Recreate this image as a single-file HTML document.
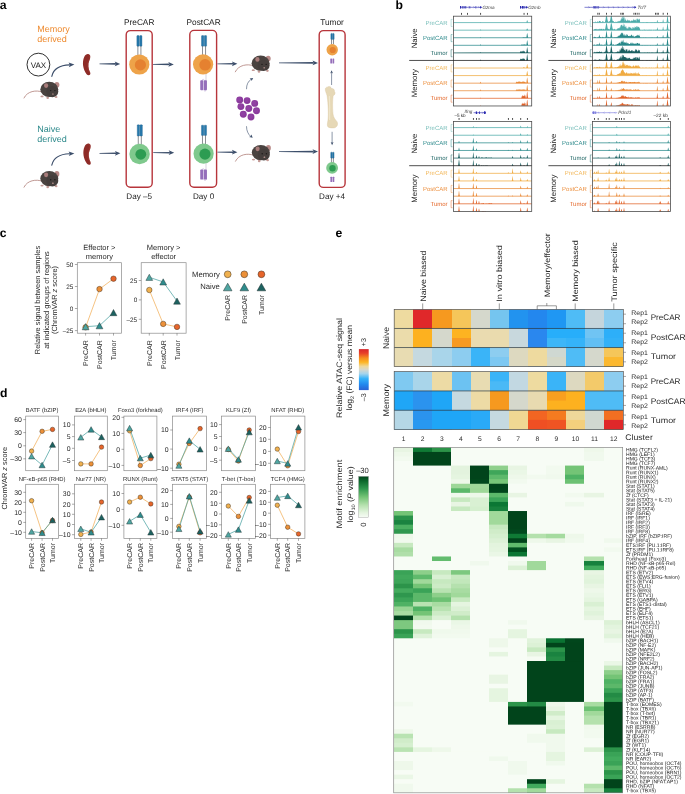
<!DOCTYPE html>
<html><head><meta charset="utf-8"><title>Figure</title>
<style>
html,body{margin:0;padding:0;background:#fff;}
svg{display:block;}
svg text{font-family:"Liberation Sans",sans-serif;text-rendering:geometricPrecision;}
</style></head>
<body>
<svg width="685" height="794" viewBox="0 0 685 794">
<rect x="0" y="0" width="685" height="794" fill="#fff"/>
<g opacity="0.999">
<text x="37.2" y="32.4" font-size="9.0" fill="#ee8b30" text-anchor="start" >Memory</text>
<text x="37.2" y="42.0" font-size="9.0" fill="#ee8b30" text-anchor="start" >derived</text>
<text x="37.2" y="131.5" font-size="9.0" fill="#2e8a8c" text-anchor="start" >Naive</text>
<text x="37.2" y="141.7" font-size="9.0" fill="#2e8a8c" text-anchor="start" >derived</text>
<circle cx="38.4" cy="64.6" r="11.4" fill="#fff" stroke="#1a1a1a" stroke-width="0.9"/>
<text x="38.4" y="67.5" font-size="8.0" fill="#1a1a1a" text-anchor="middle" >VAX</text>
<path d="M51.8,76.3 C53.5,69 60,65.2 69.5,64.9" fill="none" stroke="#3d4f6b" stroke-width="1.15" stroke-linecap="round"/>
<polygon points="68.6,62.6 74.4,64.6 68.8,67.2 69.9,64.9" fill="#3d4f6b"/>
<path d="M51.8,165.2 C53.5,157.9 60,154.10000000000002 69.5,153.8" fill="none" stroke="#3d4f6b" stroke-width="1.15" stroke-linecap="round"/>
<polygon points="68.6,151.5 74.4,153.5 68.8,156.10000000000002 69.9,153.8" fill="#3d4f6b"/>
<path d="M41.8,91.9 C36.3,89.9 27.299999999999997,90.9 23.999999999999996,98.0" fill="none" stroke="#b07f78" stroke-width="0.8" stroke-linecap="round"/>
<ellipse cx="56.9" cy="84.80000000000001" rx="2.5" ry="2.9" fill="#b98a88"/>
<ellipse cx="42.0" cy="96.4" rx="1.6" ry="0.9" fill="#c49a96"/>
<ellipse cx="47.699999999999996" cy="97.7" rx="1.3" ry="1.3" fill="#c49a96"/>
<ellipse cx="56.099999999999994" cy="97.0" rx="1.4" ry="1.1" fill="#c49a96"/>
<ellipse cx="49.3" cy="89.4" rx="9" ry="7.6" fill="#4a4340"/>
<ellipse cx="52.3" cy="91.60000000000001" rx="6" ry="5.6" fill="#453e3c"/>
<ellipse cx="46.099999999999994" cy="85.60000000000001" rx="2.1" ry="2.4" fill="#a87c7a"/>
<circle cx="50.699999999999996" cy="90.60000000000001" r="0.7" fill="#1d1a19"/>
<circle cx="54.9" cy="90.60000000000001" r="0.7" fill="#1d1a19"/>
<ellipse cx="52.9" cy="94.0" rx="0.9" ry="0.6" fill="#c9a09c"/>
<path d="M41.8,181.1 C36.3,179.1 27.299999999999997,180.1 23.999999999999996,187.2" fill="none" stroke="#b07f78" stroke-width="0.8" stroke-linecap="round"/>
<ellipse cx="56.9" cy="174.0" rx="2.5" ry="2.9" fill="#b98a88"/>
<ellipse cx="42.0" cy="185.6" rx="1.6" ry="0.9" fill="#c49a96"/>
<ellipse cx="47.699999999999996" cy="186.9" rx="1.3" ry="1.3" fill="#c49a96"/>
<ellipse cx="56.099999999999994" cy="186.2" rx="1.4" ry="1.1" fill="#c49a96"/>
<ellipse cx="49.3" cy="178.6" rx="9" ry="7.6" fill="#4a4340"/>
<ellipse cx="52.3" cy="180.79999999999998" rx="6" ry="5.6" fill="#453e3c"/>
<ellipse cx="46.099999999999994" cy="174.79999999999998" rx="2.1" ry="2.4" fill="#a87c7a"/>
<circle cx="50.699999999999996" cy="179.79999999999998" r="0.7" fill="#1d1a19"/>
<circle cx="54.9" cy="179.79999999999998" r="0.7" fill="#1d1a19"/>
<ellipse cx="52.9" cy="183.2" rx="0.9" ry="0.6" fill="#c9a09c"/>
<path transform="translate(82.6,54.0)" d="M5.2,0 C8.2,-0.2 8.3,3.6 6.6,7 C5.2,10 5.6,15 7.6,18.6 C8.6,21.2 5.6,22 4,20.2 C0.4,15.6 -0.8,8 1.6,3 C2.6,0.8 4,0.1 5.2,0 Z" fill="#8e2b27"/>
<path transform="translate(82.6,54.0)" d="M5.2,0.6 C7.4,0.6 7.4,3.4 6,6.8 C4.8,10 5,15 7,18.6" fill="none" stroke="#a5403a" stroke-width="0.7" opacity="0.7"/>
<path transform="translate(83.0,143.6)" d="M5.2,0 C8.2,-0.2 8.3,3.6 6.6,7 C5.2,10 5.6,15 7.6,18.6 C8.6,21.2 5.6,22 4,20.2 C0.4,15.6 -0.8,8 1.6,3 C2.6,0.8 4,0.1 5.2,0 Z" fill="#8e2b27"/>
<path transform="translate(83.0,143.6)" d="M5.2,0.6 C7.4,0.6 7.4,3.4 6,6.8 C4.8,10 5,15 7,18.6" fill="none" stroke="#a5403a" stroke-width="0.7" opacity="0.7"/>
<polygon points="99.5,63.55 115.9,63.1 115.9,64.7 99.5,64.25" fill="#3d4f6b"/>
<polygon points="114.7,61.5 120.2,63.9 114.7,66.3 116.0,63.9" fill="#3d4f6b"/>
<polygon points="99.5,152.95000000000002 116.10000000000001,152.5 116.10000000000001,154.10000000000002 99.5,153.65" fill="#3d4f6b"/>
<polygon points="114.9,150.9 120.4,153.3 114.9,155.70000000000002 116.2,153.3" fill="#3d4f6b"/>
<text x="139.2" y="25.1" font-size="8.3" fill="#1a1a1a" text-anchor="middle" >PreCAR</text>
<rect x="126.2" y="30.6" width="25.999999999999986" height="156.6" rx="4.2" fill="none" stroke="#b7353b" stroke-width="1.4"/>
<rect x="136.85" y="35.6" width="2.3" height="10.600000000000001" rx="0.5" fill="#2579ad" stroke="#1b5a85" stroke-width="0.35"/>
<rect x="139.65" y="35.6" width="2.3" height="10.600000000000001" rx="0.5" fill="#2579ad" stroke="#1b5a85" stroke-width="0.35"/>
<line x1="137.88" y1="46.2" x2="137.88" y2="55.5" stroke="#2b2f38" stroke-width="0.55"/>
<line x1="140.91" y1="46.2" x2="140.91" y2="55.5" stroke="#2b2f38" stroke-width="0.55"/>
<circle cx="139.3" cy="64.5" r="10.1" fill="#eea349"/>
<circle cx="140.4" cy="64.9" r="5.60" fill="#e58130"/>
<rect x="137.25" y="124.8" width="2.3" height="11.200000000000003" rx="0.5" fill="#2579ad" stroke="#1b5a85" stroke-width="0.35"/>
<rect x="140.05" y="124.8" width="2.3" height="11.200000000000003" rx="0.5" fill="#2579ad" stroke="#1b5a85" stroke-width="0.35"/>
<line x1="138.28" y1="136.0" x2="138.28" y2="145.5" stroke="#2b2f38" stroke-width="0.55"/>
<line x1="141.31" y1="136.0" x2="141.31" y2="145.5" stroke="#2b2f38" stroke-width="0.55"/>
<circle cx="139.6" cy="154.0" r="10.2" fill="#7fc98d"/>
<circle cx="140.79999999999998" cy="154.3" r="5.40" fill="#2d9c52"/>
<text x="139.2" y="199.4" font-size="8.1" fill="#1a1a1a" text-anchor="middle" >Day –5</text>
<polygon points="153.0,64.05000000000001 169.5,63.60000000000001 169.5,65.2 153.0,64.75" fill="#3d4f6b"/>
<polygon points="168.3,62.00000000000001 173.8,64.4 168.3,66.80000000000001 169.60000000000002,64.4" fill="#3d4f6b"/>
<polygon points="153.2,152.35 169.89999999999998,151.89999999999998 169.89999999999998,153.5 153.2,153.04999999999998" fill="#3d4f6b"/>
<polygon points="168.7,150.29999999999998 174.2,152.7 168.7,155.1 170.0,152.7" fill="#3d4f6b"/>
<text x="203.6" y="25.1" font-size="8.3" fill="#1a1a1a" text-anchor="middle" >PostCAR</text>
<rect x="189.8" y="30.4" width="26.799999999999983" height="156.79999999999998" rx="4.2" fill="none" stroke="#b7353b" stroke-width="1.4"/>
<rect x="201.50" y="35.6" width="2.3" height="10.600000000000001" rx="0.5" fill="#2579ad" stroke="#1b5a85" stroke-width="0.35"/>
<rect x="204.30" y="35.6" width="2.3" height="10.600000000000001" rx="0.5" fill="#2579ad" stroke="#1b5a85" stroke-width="0.35"/>
<line x1="202.53" y1="46.2" x2="202.53" y2="55.4" stroke="#2b2f38" stroke-width="0.55"/>
<line x1="205.56" y1="46.2" x2="205.56" y2="55.4" stroke="#2b2f38" stroke-width="0.55"/>
<circle cx="203.1" cy="64.3" r="10.1" fill="#eea349"/>
<circle cx="205.1" cy="64.8" r="5.80" fill="#e58130"/>
<line x1="206.0" y1="73.6" x2="206.0" y2="81.2" stroke="#b9b6c4" stroke-width="0.6"/>
<path d="M202.0,81.2 C202.0,78.60000000000001 204.2,78.60000000000001 204.2,81.2" fill="none" stroke="#a58fc6" stroke-width="0.45"/>
<path d="M203.79999999999998,89.2 C203.79999999999998,91.8 206.2,91.8 206.2,89.2" fill="none" stroke="#a58fc6" stroke-width="0.45"/>
<rect x="200.25" y="80.2" width="3.1" height="10.0" rx="0.9" fill="#956fba"/>
<rect x="203.85" y="80.2" width="3.1" height="10.0" rx="0.9" fill="#956fba"/>
<rect x="201.45" y="125.2" width="2.3" height="10.200000000000003" rx="0.5" fill="#2579ad" stroke="#1b5a85" stroke-width="0.35"/>
<rect x="204.25" y="125.2" width="2.3" height="10.200000000000003" rx="0.5" fill="#2579ad" stroke="#1b5a85" stroke-width="0.35"/>
<line x1="202.48" y1="135.4" x2="202.48" y2="145.0" stroke="#2b2f38" stroke-width="0.55"/>
<line x1="205.51" y1="135.4" x2="205.51" y2="145.0" stroke="#2b2f38" stroke-width="0.55"/>
<circle cx="203.6" cy="153.7" r="10.1" fill="#7fc98d"/>
<circle cx="205.0" cy="154.1" r="5.60" fill="#2d9c52"/>
<line x1="206.0" y1="163.0" x2="206.0" y2="170.6" stroke="#b9b6c4" stroke-width="0.6"/>
<path d="M202.0,170.6 C202.0,168.0 204.2,168.0 204.2,170.6" fill="none" stroke="#a58fc6" stroke-width="0.45"/>
<path d="M203.79999999999998,178.6 C203.79999999999998,181.2 206.2,181.2 206.2,178.6" fill="none" stroke="#a58fc6" stroke-width="0.45"/>
<rect x="200.25" y="169.6" width="3.1" height="10.0" rx="0.9" fill="#956fba"/>
<rect x="203.85" y="169.6" width="3.1" height="10.0" rx="0.9" fill="#956fba"/>
<text x="203.6" y="199.4" font-size="8.1" fill="#1a1a1a" text-anchor="middle" >Day 0</text>
<polygon points="217.4,63.449999999999996 233.1,63.0 233.1,64.6 217.4,64.14999999999999" fill="#3d4f6b"/>
<polygon points="231.9,61.4 237.4,63.8 231.9,66.2 233.20000000000002,63.8" fill="#3d4f6b"/>
<polygon points="217.4,151.85 233.1,151.39999999999998 233.1,153.0 217.4,152.54999999999998" fill="#3d4f6b"/>
<polygon points="231.9,149.79999999999998 237.4,152.2 231.9,154.6 233.20000000000002,152.2" fill="#3d4f6b"/>
<path d="M253.10000000000002,65.7 C247.60000000000002,63.7 238.60000000000002,64.7 235.3,71.8" fill="none" stroke="#b07f78" stroke-width="0.8" stroke-linecap="round"/>
<ellipse cx="268.20000000000005" cy="58.6" rx="2.5" ry="2.9" fill="#b98a88"/>
<ellipse cx="253.3" cy="70.2" rx="1.6" ry="0.9" fill="#c49a96"/>
<ellipse cx="259.0" cy="71.5" rx="1.3" ry="1.3" fill="#c49a96"/>
<ellipse cx="267.40000000000003" cy="70.8" rx="1.4" ry="1.1" fill="#c49a96"/>
<ellipse cx="260.6" cy="63.2" rx="9" ry="7.6" fill="#4a4340"/>
<ellipse cx="263.6" cy="65.4" rx="6" ry="5.6" fill="#453e3c"/>
<ellipse cx="257.40000000000003" cy="59.400000000000006" rx="2.1" ry="2.4" fill="#a87c7a"/>
<circle cx="262.0" cy="64.4" r="0.7" fill="#1d1a19"/>
<circle cx="266.20000000000005" cy="64.4" r="0.7" fill="#1d1a19"/>
<ellipse cx="264.20000000000005" cy="67.8" rx="0.9" ry="0.6" fill="#c9a09c"/>
<path d="M253.3,155.1 C247.8,153.1 238.8,154.1 235.5,161.2" fill="none" stroke="#b07f78" stroke-width="0.8" stroke-linecap="round"/>
<ellipse cx="268.40000000000003" cy="148.0" rx="2.5" ry="2.9" fill="#b98a88"/>
<ellipse cx="253.5" cy="159.6" rx="1.6" ry="0.9" fill="#c49a96"/>
<ellipse cx="259.2" cy="160.9" rx="1.3" ry="1.3" fill="#c49a96"/>
<ellipse cx="267.6" cy="160.2" rx="1.4" ry="1.1" fill="#c49a96"/>
<ellipse cx="260.8" cy="152.6" rx="9" ry="7.6" fill="#4a4340"/>
<ellipse cx="263.8" cy="154.79999999999998" rx="6" ry="5.6" fill="#453e3c"/>
<ellipse cx="257.6" cy="148.79999999999998" rx="2.1" ry="2.4" fill="#a87c7a"/>
<circle cx="262.2" cy="153.79999999999998" r="0.7" fill="#1d1a19"/>
<circle cx="266.40000000000003" cy="153.79999999999998" r="0.7" fill="#1d1a19"/>
<ellipse cx="264.40000000000003" cy="157.2" rx="0.9" ry="0.6" fill="#c9a09c"/>
<circle cx="239.7" cy="100" r="3.45" fill="#8b3b9d"/>
<circle cx="239.1" cy="99.4" r="2.2" fill="#9446a6" opacity="0.6"/>
<circle cx="247.1" cy="100.6" r="3.45" fill="#8b3b9d"/>
<circle cx="246.5" cy="100.0" r="2.2" fill="#9446a6" opacity="0.6"/>
<circle cx="254.7" cy="103.4" r="3.45" fill="#8b3b9d"/>
<circle cx="254.1" cy="102.80000000000001" r="2.2" fill="#9446a6" opacity="0.6"/>
<circle cx="240.9" cy="106.6" r="3.45" fill="#8b3b9d"/>
<circle cx="240.3" cy="106.0" r="2.2" fill="#9446a6" opacity="0.6"/>
<circle cx="248.8" cy="108.5" r="3.45" fill="#8b3b9d"/>
<circle cx="248.20000000000002" cy="107.9" r="2.2" fill="#9446a6" opacity="0.6"/>
<circle cx="256.5" cy="110.8" r="3.45" fill="#8b3b9d"/>
<circle cx="255.9" cy="110.2" r="2.2" fill="#9446a6" opacity="0.6"/>
<circle cx="243.3" cy="114.2" r="3.45" fill="#8b3b9d"/>
<circle cx="242.70000000000002" cy="113.60000000000001" r="2.2" fill="#9446a6" opacity="0.6"/>
<circle cx="251" cy="117" r="3.45" fill="#8b3b9d"/>
<circle cx="250.4" cy="116.4" r="2.2" fill="#9446a6" opacity="0.6"/>
<path d="M246.5,89.2 C246.4,84.5 248.3,81.2 251.2,79.2" fill="none" stroke="#3d4f6b" stroke-width="0.6"/>
<polygon points="249.6,78.4 253.2,77.9 251.6,81.1 251.1,79.4" fill="#3d4f6b"/>
<path d="M246.5,126.2 C246.5,130.8 248.2,134.2 250.6,136.3" fill="none" stroke="#3d4f6b" stroke-width="0.6"/>
<polygon points="249.0,137.0 252.7,137.8 251.4,134.5 250.6,136.2" fill="#3d4f6b"/>
<polygon points="279.0,62.449999999999996 313.7,62.1 313.7,63.699999999999996 279.0,63.35" fill="#3d4f6b"/>
<polygon points="312.5,60.5 318.0,62.9 312.5,65.3 313.8,62.9" fill="#3d4f6b"/>
<polygon points="279.0,151.15 313.7,150.79999999999998 313.7,152.4 279.0,152.04999999999998" fill="#3d4f6b"/>
<polygon points="312.5,149.2 318.0,151.6 312.5,154.0 313.8,151.6" fill="#3d4f6b"/>
<text x="332.0" y="25.1" font-size="8.3" fill="#1a1a1a" text-anchor="middle" >Tumor</text>
<rect x="319.2" y="30.6" width="25.900000000000034" height="156.8" rx="4.2" fill="none" stroke="#b7353b" stroke-width="1.4"/>
<rect x="330.85" y="33.4" width="1.5" height="6.200000000000003" rx="0.5" fill="#2579ad" stroke="#1b5a85" stroke-width="0.35"/>
<rect x="332.65" y="33.4" width="1.5" height="6.200000000000003" rx="0.5" fill="#2579ad" stroke="#1b5a85" stroke-width="0.35"/>
<line x1="331.53" y1="39.6" x2="331.53" y2="44.4" stroke="#2b2f38" stroke-width="0.55"/>
<line x1="333.47" y1="39.6" x2="333.47" y2="44.4" stroke="#2b2f38" stroke-width="0.55"/>
<circle cx="332.2" cy="49.7" r="5.7" fill="#eea349"/>
<circle cx="332.7" cy="50.0" r="3.10" fill="#e58130"/>
<rect x="330.3" y="58.4" width="1.7" height="5.2" rx="0.5" fill="#956fba"/><rect x="332.5" y="58.4" width="1.7" height="5.2" rx="0.5" fill="#956fba"/>
<line x1="331.6" y1="85.0" x2="331.6" y2="72.12" stroke="#3d4f6b" stroke-width="0.6"/>
<polygon points="330.20000000000005,73.4 331.6,70.2 333.0,73.4 331.6,72.60000000000001" fill="#3d4f6b"/>
<path d="M327.9,86.9 C329.6,85.8 331.2,87.0 331.4,88.6 C333.0,88.2 334.8,89.4 334.4,91.4 C335.8,92.8 334.8,95.2 333.2,95.6 C332.4,100 332.4,108 333.0,114 C333.4,117.6 335.2,119.4 336.8,121.4 C338.6,124 337.0,127.8 333.6,127.9 C331.4,128.0 328.4,127.8 327.6,126.4 C326.8,124.6 328.0,121.6 328.2,118 C328.6,110 327.8,100 327.0,95.4 C326.4,93 324.8,90.6 325.4,88.6 C325.8,87.4 326.8,87.0 327.9,86.9 Z" fill="#e6d8b6" stroke="#d8c69e" stroke-width="0.4"/>
<path d="M329.4,96 C329.8,104 329.8,112 329.6,120" fill="none" stroke="#f1e8cf" stroke-width="1.2" opacity="0.8"/>
<line x1="332.1" y1="131.8" x2="332.1" y2="143.28" stroke="#3d4f6b" stroke-width="0.6"/>
<polygon points="330.70000000000005,142.0 332.1,145.2 333.5,142.0 332.1,142.79999999999998" fill="#3d4f6b"/>
<rect x="330.75" y="152.2" width="1.5" height="6.0" rx="0.5" fill="#2579ad" stroke="#1b5a85" stroke-width="0.35"/>
<rect x="332.55" y="152.2" width="1.5" height="6.0" rx="0.5" fill="#2579ad" stroke="#1b5a85" stroke-width="0.35"/>
<line x1="331.43" y1="158.2" x2="331.43" y2="163.0" stroke="#2b2f38" stroke-width="0.55"/>
<line x1="333.37" y1="158.2" x2="333.37" y2="163.0" stroke="#2b2f38" stroke-width="0.55"/>
<circle cx="332.1" cy="167.9" r="5.9" fill="#7fc98d"/>
<circle cx="332.5" cy="168.20000000000002" r="3.20" fill="#2d9c52"/>
<rect x="330.4" y="176.7" width="1.7" height="5.3" rx="0.5" fill="#956fba"/><rect x="332.6" y="176.7" width="1.7" height="5.3" rx="0.5" fill="#956fba"/>
<text x="332.0" y="199.4" font-size="8.1" fill="#1a1a1a" text-anchor="middle" >Day +4</text>
<rect x="453.4" y="16.2" width="78.30000000000007" height="89.77" fill="#fff"/>
<path d="M453.8,22.60L453.80,22.60L479.80,22.57L480.05,22.44L480.30,22.14L480.55,22.01L480.80,22.26L481.05,22.51L481.30,22.59L525.80,22.59L526.05,22.56L526.30,22.40L526.55,21.93L526.80,21.10L527.05,20.30L527.30,20.21L527.55,20.91L527.80,21.79L528.05,22.34L528.30,22.54L528.55,22.59L531.30,22.60L531.3,22.60Z" fill="#4cabaa"/>
<line x1="453.4" y1="22.60" x2="531.7" y2="22.60" stroke="#4cabaa" stroke-width="0.75"/>
<path d="M453.8,30.17L453.80,30.17L479.55,30.17L479.80,30.14L480.05,29.95L480.30,29.55L480.55,29.38L480.80,29.72L481.05,30.05L481.30,30.16L526.05,30.14L526.30,30.02L526.55,29.68L526.80,29.08L527.05,28.50L527.30,28.43L527.55,28.94L527.80,29.58L528.05,29.98L528.30,30.13L528.55,30.16L531.30,30.17L531.3,30.17Z" fill="#4cabaa"/>
<line x1="453.4" y1="30.17" x2="531.7" y2="30.17" stroke="#4cabaa" stroke-width="0.75"/>
<path d="M453.8,37.74L453.80,37.74L479.80,37.71L480.05,37.58L480.30,37.28L480.55,37.15L480.80,37.40L481.05,37.65L481.30,37.73L522.30,37.71L522.55,37.61L522.80,37.44L523.05,37.37L523.30,37.51L523.55,37.36L523.80,37.22L524.05,37.36L524.30,37.48L524.55,37.32L524.80,37.40L525.05,37.44L525.30,37.19L525.55,37.23L525.80,37.49L526.05,37.66L526.30,37.35L526.55,36.46L526.80,34.87L527.05,33.35L527.30,33.18L527.55,34.52L527.80,36.19L528.05,37.23L528.30,37.63L528.55,37.72L531.30,37.74L531.3,37.74Z" fill="#2a8a8b"/>
<line x1="453.4" y1="37.74" x2="531.7" y2="37.74" stroke="#2a8a8b" stroke-width="0.75"/>
<path d="M453.8,45.31L453.80,45.31L479.55,45.31L479.80,45.27L480.05,45.04L480.30,44.54L480.55,44.33L480.80,44.75L481.05,45.17L481.30,45.29L520.55,45.30L520.80,45.24L521.05,45L521.30,44.58L521.55,44.42L521.80,44.75L522.05,44.79L522.30,44.59L522.55,44.79L522.80,44.69L523.05,44.33L523.30,44.51L523.55,44.89L523.80,44.54L524.05,44.59L524.30,44.85L524.55,44.35L524.80,44.29L525.05,44.75L525.30,44.58L525.55,44.42L525.80,44.75L526.05,45.13L526.30,44.89L526.55,43.91L526.80,42.17L527.05,40.50L527.30,40.31L527.55,41.78L527.80,43.61L528.05,44.76L528.30,45.19L528.55,45.29L531.30,45.31L531.3,45.31Z" fill="#2a8a8b"/>
<line x1="453.4" y1="45.31" x2="531.7" y2="45.31" stroke="#2a8a8b" stroke-width="0.75"/>
<path d="M453.8,52.88L453.80,52.88L479.80,52.85L480.05,52.69L480.30,52.34L480.55,52.19L480.80,52.49L481.05,52.78L481.30,52.87L519.55,52.86L519.80,52.73L520.05,52.19L520.30,51.26L520.55,50.91L520.80,51.64L521.05,51.73L521.30,51.28L521.55,51.73L521.80,51.51L522.05,50.71L522.30,51.10L522.55,51.94L522.80,51.17L523.05,51.28L523.30,51.85L523.55,50.75L523.80,50.60L524.05,51.62L524.30,51.26L524.55,50.91L524.80,51.64L525.05,52.48L525.30,52.81L525.55,52.87L525.80,52.87L526.05,52.78L526.30,52.40L526.55,51.30L526.80,49.33L527.05,47.45L527.30,47.23L527.55,48.89L527.80,50.96L528.05,52.25L528.30,52.74L528.55,52.86L531.30,52.88L531.3,52.88Z" fill="#1b6061"/>
<line x1="453.4" y1="52.88" x2="531.7" y2="52.88" stroke="#1b6061" stroke-width="0.75"/>
<path d="M453.8,60.45L453.80,60.45L479.55,60.45L479.80,60.41L480.05,60.20L480.30,59.75L480.55,59.56L480.80,59.94L481.05,60.32L481.30,60.44L519.55,60.43L519.80,60.29L520.05,59.73L520.30,58.75L520.55,58.38L520.80,59.15L521.05,59.24L521.30,58.77L521.55,59.24L521.80,59.01L522.05,58.17L522.30,58.58L522.55,59.46L522.80,58.66L523.05,58.77L523.30,59.37L523.55,58.21L523.80,58.06L524.05,59.13L524.30,58.75L524.55,58.38L524.80,59.15L525.05,60.03L525.30,60.38L525.55,60.44L525.80,60.44L526.05,60.34L526.30,59.94L526.55,58.75L526.80,56.62L527.05,54.60L527.30,54.37L527.55,56.15L527.80,58.39L528.05,59.78L528.30,60.30L528.55,60.43L531.30,60.45L531.3,60.45Z" fill="#1b6061"/>
<path d="M453.8,68.02L453.80,68.02L479.80,68.01L480.05,67.97L480.30,67.87L480.55,67.82L480.80,67.91L481.05,67.99L522.55,68.01L522.80,67.96L523.05,67.75L523.30,67.37L523.55,67.23L523.80,67.52L524.05,67.56L524.30,67.38L524.55,67.56L524.80,67.85L525.05,67.99L525.80,68.01L526.05,67.95L526.30,67.69L526.55,66.93L526.80,65.56L527.05,64.26L527.30,64.11L527.55,65.26L527.80,66.69L528.05,67.59L528.30,67.92L528.55,68.01L531.30,68.02L531.3,68.02Z" fill="#f0ab42"/>
<line x1="453.4" y1="68.02" x2="531.7" y2="68.02" stroke="#f0ab42" stroke-width="0.75"/>
<path d="M453.8,75.59L453.80,75.59L479.80,75.58L480.05,75.54L480.30,75.44L480.55,75.39L480.80,75.48L481.05,75.56L523.30,75.57L523.55,75.49L523.80,75.35L524.05,75.29L524.30,75.40L524.55,75.29L524.80,75.17L525.05,75.29L525.30,75.48L525.55,75.57L525.80,75.58L526.05,75.51L526.30,75.20L526.55,74.31L526.80,72.72L527.05,71.20L527.30,71.03L527.55,72.37L527.80,74.04L528.05,75.08L528.30,75.48L528.55,75.57L531.30,75.59L531.3,75.59Z" fill="#f0ab42"/>
<line x1="453.4" y1="75.59" x2="531.7" y2="75.59" stroke="#f0ab42" stroke-width="0.75"/>
<path d="M453.8,83.16L453.80,83.16L479.55,83.16L479.80,83.09L480.05,82.75L480.30,82L480.55,81.68L480.80,82.32L481.05,82.94L481.30,83.14L515.55,83.14L515.80,83.03L516.05,82.54L516.30,81.70L516.55,81.38L516.80,82.04L517.05,82.13L517.30,81.72L517.55,82.13L517.80,81.93L518.05,81.21L518.30,81.56L518.55,82.31L518.80,81.62L519.05,81.72L519.30,82.23L519.55,81.24L519.80,81.11L520.05,82.03L520.30,81.70L520.55,81.38L520.80,82.04L521.05,82.13L521.30,81.72L521.55,82.13L521.80,81.93L522.05,81.21L522.30,81.56L522.55,82.31L522.80,81.62L523.05,81.72L523.30,82.23L523.55,81.24L523.80,81.11L524.05,82.03L524.30,81.70L524.55,81.38L524.80,82.04L525.05,82.13L525.30,81.72L525.55,82.13L525.80,82.78L526.05,83.06L526.30,82.68L526.55,81.58L526.80,79.61L527.05,77.73L527.30,77.51L527.55,79.17L527.80,81.24L528.05,82.53L528.30,83.02L528.55,83.14L531.30,83.16L531.3,83.16Z" fill="#ea8b39"/>
<line x1="453.4" y1="83.16" x2="531.7" y2="83.16" stroke="#ea8b39" stroke-width="0.75"/>
<path d="M453.8,90.73L453.80,90.73L479.55,90.73L479.80,90.67L480.05,90.35L480.30,89.65L480.55,89.35L480.80,89.94L481.05,90.53L481.30,90.71L515.55,90.72L515.80,90.62L516.05,90.22L516.30,89.52L516.55,89.25L516.80,89.80L517.05,89.87L517.30,89.53L517.55,89.87L517.80,89.70L518.05,89.10L518.30,89.39L518.55,90.02L518.80,89.45L519.05,89.53L519.30,89.96L519.55,89.13L519.80,89.02L520.05,89.79L520.30,89.52L520.55,89.25L520.80,89.80L521.05,89.87L521.30,89.53L521.55,89.87L521.80,89.70L522.05,89.10L522.30,89.39L522.55,90.02L522.80,89.45L523.05,89.53L523.30,89.96L523.55,89.13L523.80,89.02L524.05,89.79L524.30,89.52L524.55,89.25L524.80,89.80L525.05,89.87L525.30,89.53L525.55,89.87L525.80,90.41L526.05,90.63L526.30,90.25L526.55,89.15L526.80,87.18L527.05,85.30L527.30,85.08L527.55,86.74L527.80,88.81L528.05,90.10L528.30,90.59L528.55,90.71L531.30,90.73L531.3,90.73Z" fill="#ea8b39"/>
<line x1="453.4" y1="90.73" x2="531.7" y2="90.73" stroke="#ea8b39" stroke-width="0.75"/>
<path d="M453.8,98.30L453.80,98.30L479.80,98.27L480.05,98.14L480.30,97.84L480.55,97.71L480.80,97.96L481.05,98.21L481.30,98.29L521.05,98.28L521.30,98.11L521.55,97.43L521.80,96.24L522.05,95.78L522.30,96.72L522.55,95.73L522.80,94.73L523.05,95.73L523.30,96.50L523.55,95.45L523.80,95.96L524.05,96.25L524.30,94.59L524.55,94.83L524.80,96.62L525.05,95.43L525.30,95.24L525.55,96.61L525.80,97.82L526.05,98.18L526.30,97.73L526.55,96.42L526.80,94.06L527.05,91.82L527.30,91.57L527.55,93.54L527.80,96.01L528.05,97.55L528.30,98.13L528.55,98.27L531.30,98.30L531.3,98.30Z" fill="#e1632a"/>
<line x1="453.4" y1="98.30" x2="531.7" y2="98.30" stroke="#e1632a" stroke-width="0.75"/>
<path d="M453.8,105.87L453.80,105.87L479.80,105.84L480.05,105.71L480.30,105.41L480.55,105.28L480.80,105.53L481.05,105.78L481.30,105.86L521.05,105.85L521.30,105.68L521.55,105.02L521.80,103.87L522.05,103.43L522.30,104.33L522.55,103.38L522.80,102.41L523.05,103.38L523.30,104.13L523.55,103.10L523.80,103.60L524.05,103.88L524.30,102.27L524.55,102.50L524.80,104.24L525.05,103.09L525.30,102.90L525.55,104.23L525.80,105.40L526.05,105.76L526.30,105.36L526.55,104.17L526.80,102.04L527.05,100.02L527.30,99.79L527.55,101.57L527.80,103.81L528.05,105.20L528.30,105.72L528.55,105.85L531.30,105.87L531.3,105.87Z" fill="#e1632a"/>
<rect x="453.4" y="16.2" width="78.30000000000007" height="89.77" fill="none" stroke="#4d4d4d" stroke-width="0.8"/>
<line x1="409.2" y1="60.45" x2="531.7" y2="60.45" stroke="#222" stroke-width="0.8"/>
<text x="447.59999999999997" y="24.75" font-size="6.0" fill="#7cc0bc" text-anchor="end">PreCAR</text>
<path d="M452.5,19.40 H451.09999999999997 V26.50 H452.5" fill="none" stroke="#7cc0bc" stroke-width="0.5"/>
<text x="447.59999999999997" y="39.89" font-size="6.0" fill="#2e8a8c" text-anchor="end">PostCAR</text>
<path d="M452.5,34.54 H451.09999999999997 V41.64 H452.5" fill="none" stroke="#2e8a8c" stroke-width="0.5"/>
<text x="447.59999999999997" y="55.03" font-size="6.0" fill="#1f6665" text-anchor="end">Tumor</text>
<path d="M452.5,49.68 H451.09999999999997 V56.78 H452.5" fill="none" stroke="#1f6665" stroke-width="0.5"/>
<text x="447.59999999999997" y="70.17" font-size="6.0" fill="#f2b85c" text-anchor="end">PreCAR</text>
<path d="M452.5,64.82 H451.09999999999997 V71.92 H452.5" fill="none" stroke="#f2b85c" stroke-width="0.5"/>
<text x="447.59999999999997" y="85.31" font-size="6.0" fill="#ec9040" text-anchor="end">PostCAR</text>
<path d="M452.5,79.96 H451.09999999999997 V87.06 H452.5" fill="none" stroke="#ec9040" stroke-width="0.5"/>
<text x="447.59999999999997" y="100.45" font-size="6.0" fill="#e4692c" text-anchor="end">Tumor</text>
<path d="M452.5,95.10 H451.09999999999997 V102.20 H452.5" fill="none" stroke="#e4692c" stroke-width="0.5"/>
<text transform="translate(417.2,38.3) rotate(-90)" font-size="7.8" fill="#1a1a1a" text-anchor="middle">Naive</text>
<text transform="translate(417.2,83.2) rotate(-90)" font-size="7.8" fill="#1a1a1a" text-anchor="middle">Memory</text>
<rect x="461.15" y="12.9" width="0.8" height="1.9" fill="#222"/>
<rect x="467.05" y="12.9" width="0.8" height="1.9" fill="#222"/>
<rect x="480.25" y="12.9" width="0.8" height="1.9" fill="#222"/>
<rect x="523.65" y="12.9" width="0.8" height="1.9" fill="#222"/>
<rect x="526.95" y="12.9" width="0.8" height="1.9" fill="#222"/>
<g opacity="1.0">
<line x1="460.0" y1="7.3" x2="481.6" y2="7.3" stroke="#2b2bb0" stroke-width="0.6"/>
<rect x="460.0" y="6.0" width="1.0" height="2.6" fill="#2b2bb0"/>
<rect x="461.8" y="6.0" width="0.8000000000000114" height="2.6" fill="#2b2bb0"/>
<rect x="463.6" y="6.0" width="0.7999999999999545" height="2.6" fill="#2b2bb0"/>
<rect x="465.4" y="6.0" width="0.8000000000000114" height="2.6" fill="#2b2bb0"/>
<rect x="469.6" y="6.0" width="0.5999999999999659" height="2.6" fill="#2b2bb0"/>
<rect x="475.6" y="6.0" width="0.5999999999999659" height="2.6" fill="#2b2bb0"/>
<path d="M463.90,6.3999999999999995 L464.80,7.3 L463.90,8.2" fill="none" stroke="#2b2bb0" stroke-width="0.4"/>
<path d="M468.70,6.3999999999999995 L469.60,7.3 L468.70,8.2" fill="none" stroke="#2b2bb0" stroke-width="0.4"/>
<path d="M473.50,6.3999999999999995 L474.40,7.3 L473.50,8.2" fill="none" stroke="#2b2bb0" stroke-width="0.4"/>
<path d="M478.30,6.3999999999999995 L479.20,7.3 L478.30,8.2" fill="none" stroke="#2b2bb0" stroke-width="0.4"/>
<polygon points="480.0,5.9 482.0,7.3 480.0,8.7" fill="#2b2bb0"/>
</g>
<text x="482.4" y="8.9" font-size="4.6" font-style="italic" fill="#444" font-family="Liberation Serif, serif">Gzma</text>
<g opacity="1.0">
<line x1="520.0" y1="7.3" x2="527.6" y2="7.3" stroke="#2b2bb0" stroke-width="0.6"/>
<rect x="520.0" y="6.0" width="1.2000000000000455" height="2.6" fill="#2b2bb0"/>
<rect x="522.0" y="6.0" width="1.6000000000000227" height="2.6" fill="#2b2bb0"/>
<rect x="524.6" y="6.0" width="0.6000000000000227" height="2.6" fill="#2b2bb0"/>
<path d="M524.17,6.3999999999999995 L525.07,7.3 L524.17,8.2" fill="none" stroke="#2b2bb0" stroke-width="0.4"/>
<polygon points="526.0,5.9 528.0,7.3 526.0,8.7" fill="#2b2bb0"/>
</g>
<text x="528.2" y="8.9" font-size="4.6" font-style="italic" fill="#444" font-family="Liberation Serif, serif">Gzmb</text>
<rect x="592.6" y="16.2" width="77.79999999999995" height="89.77" fill="#fff"/>
<path d="M593.0,22.60L593,22.60L593.75,22.60L594,22.31L594.25,22.31L594.50,22.40L594.75,22.40L595,22.50L595.25,22.50L595.50,21.29L595.75,21.29L596,22.38L596.25,22.38L596.50,22.18L596.75,22.18L597,21.94L597.25,21.94L597.50,21.12L597.75,21.12L598,22.46L598.25,22.46L598.50,21.84L598.75,21.84L599,21.05L599.25,20.63L599.50,21.10L599.75,21.10L600,21.21L600.25,21.21L600.50,21.13L600.75,21.13L601,22.13L601.25,22.13L601.50,21.89L601.75,21.89L602,21.99L602.25,21.99L602.50,21.10L602.75,21.10L603,20.97L603.25,20.97L603.50,22.34L603.75,22.34L604,22.30L604.25,22.30L604.50,22.21L604.75,22.18L605,21.70L605.25,20.87L605.50,19.65L605.75,18.14L606,16.60L606.25,15.70L606.75,15.70L607,16.60L607.25,18.14L607.50,19.65L607.75,20.87L608,21.70L608.25,21.97L608.50,21.64L608.75,21.64L609,20.98L609.25,20.98L609.50,21.43L609.75,21.43L610,21.03L610.25,19.85L610.50,18.34L610.75,16.74L611,15.70L611.50,15.70L611.75,16.16L612,17.70L612.25,19.28L612.50,20.60L612.75,21.27L613,21.11L613.25,21.11L613.50,21.24L613.75,21.24L614,21.93L614.75,21.92L615,22.42L615.25,22.42L615.50,21.52L615.75,21.52L616,22.25L616.25,21.87L616.50,21.74L616.75,22.09L617,22.03L617.25,21.49L617.50,21.58L617.75,21.49L618,21.81L618.25,21.75L618.50,21.01L618.75,20.85L619,21.53L619.25,21.43L619.50,20.45L619.75,21.14L620,21.03L620.25,20.86L620.50,20.74L620.75,19.56L621,19.37L621.25,17.75L621.50,17.37L621.75,19.86L622,19.22L622.25,19.01L622.50,16.94L622.75,16.77L623,15.70L623.25,15.70L623.50,17.62L623.75,18L624,18.95L624.25,16.99L624.50,17.28L624.75,20.66L625,20.77L625.25,18.35L625.50,18.46L625.75,20.21L626,20.27L626.25,20.74L626.50,20.86L626.75,20.90L627,20.45L627.25,20.50L627.50,19.32L627.75,19.40L628,20.95L628.25,20.99L628.50,20.15L628.75,20.05L629,20.07L629.25,20.65L629.50,20.67L629.75,20.31L630,20.33L630.25,21.35L630.75,21.38L631,21.09L631.25,21.09L631.50,20.13L631.75,20.13L632,20.64L632.25,20.64L632.50,20.87L632.75,20.87L633,20.32L633.25,19.37L633.50,18.61L633.75,20.54L634,20.48L634.25,19.99L634.50,20.47L634.75,19.67L635,19.16L635.25,20.50L635.50,19.39L635.75,19.80L636,21.25L636.25,21.38L636.50,19.53L636.75,19L637,18.15L637.25,18.27L637.50,19.39L637.75,19.14L638,19.29L638.25,20.27L638.50,19.94L638.75,18.75L639,19.07L639.25,19.44L639.50,18.64L639.75,18.61L640,21.48L640.25,22.60L640.50,22.60L640.75,22.52L641.50,22.55L641.75,22.41L642,22.41L642.25,22.59L642.50,22.59L642.75,22.15L643,22.15L643.25,22.29L643.50,22.29L643.75,22.52L644,22.52L644.25,22.47L644.50,22.47L644.75,22.42L645.50,22.41L645.75,22.54L646,22.54L646.25,22.17L646.50,22.17L646.75,22.09L647,22.09L647.25,22.36L648,22.35L648.25,22.56L649,22.55L649.25,22.43L649.50,22.43L649.75,22.46L650,22.46L650.25,22.18L650.50,22.18L650.75,22.52L651,22.52L651.25,22.59L651.50,22.59L651.75,22.11L652,22.11L652.25,22.33L652.50,22.33L652.75,22.53L653,22.53L653.25,22.32L653.50,22.32L653.75,22.59L654,22.59L654.25,22.33L654.50,22.33L654.75,22.10L655,22.10L655.25,22.16L655.50,22.16L655.75,22.24L656,22.24L656.25,22.47L656.50,22.47L656.75,22.20L657,21.03L657.25,19.84L657.50,20.43L657.75,21.83L658,22.21L658.25,22.33L658.50,22.33L658.75,22.20L659,22.20L659.25,22.43L659.50,22.43L659.75,22.49L660,22.49L660.25,22.19L660.50,22.19L660.75,22.10L661,22.10L661.25,22.17L662.50,22.18L662.75,20.96L663,19.22L663.25,19.48L663.50,21.31L663.75,22.34L664,22.34L664.25,22.42L664.50,22.42L664.75,22.59L665.50,22.59L665.75,22.46L666.25,22.47L666.50,22.16L666.75,21.07L667,18.87L667.25,16.25L667.50,15.70L667.75,16.25L668,18.87L668.25,21.07L668.50,22.12L669,22.10L669.25,22.60L670,22.60L670.0,22.60Z" fill="#4cabaa"/>
<line x1="592.6" y1="22.60" x2="670.4" y2="22.60" stroke="#4cabaa" stroke-width="0.75"/>
<path d="M593.0,30.17L593,30.17L593.75,30.17L594,29.01L594.25,29.01L594.50,29.41L594.75,29.41L595,29.33L595.25,29.33L595.50,29.03L595.75,29.03L596,28.80L596.25,28.80L596.50,29.51L596.75,29.51L597,29.25L597.25,29.25L597.50,29.41L598.25,29.40L598.50,29.13L598.75,29.13L599,28.78L599.25,28.40L599.50,29.16L599.75,29.37L600,29.45L600.25,29.45L600.50,28.76L600.75,28.76L601,29.12L601.25,29.12L601.50,28.86L601.75,28.86L602,28.76L602.25,28.76L602.50,29.78L602.75,29.78L603,29.33L603.25,29.33L603.50,28.76L603.75,28.76L604,28.91L604.25,28.91L604.50,29.96L604.75,29.75L605,29.27L605.25,28.44L605.50,27.22L605.75,25.71L606,24.17L606.25,23.27L606.75,23.27L607,24.17L607.25,25.71L607.50,27.22L607.75,28.44L608,28.99L608.25,28.99L608.50,28.82L608.75,28.82L609,29.94L609.25,29.94L609.50,29.10L609.75,29.10L610,28.60L610.25,27.42L610.50,25.91L610.75,24.31L611,23.27L611.50,23.27L611.75,23.73L612,25.27L612.25,26.85L612.50,28.17L612.75,28.74L613,29.57L613.25,29.57L613.50,29.44L613.75,29.44L614,28.69L614.25,28.69L614.50,28.92L614.75,28.92L615,29.93L615.25,29.93L615.50,29.52L615.75,29.52L616,29.40L616.25,29.70L616.50,29.61L616.75,29.52L617,29.44L617.25,28.91L617.50,28.46L617.75,28.31L618,28.25L618.25,28.11L618.50,28.54L618.75,28.39L619,27.86L619.25,27.63L619.50,27.06L619.75,28.60L620,28.49L620.25,26.68L620.50,26.44L620.75,25.37L621,25.07L621.25,25.25L621.50,24.86L621.75,24.58L622,25.43L622.25,25.14L622.50,26.51L622.75,26.40L623,23.27L623.25,23.47L623.50,26.09L623.75,26.40L624,24.69L624.25,24.30L624.50,24.60L624.75,26.92L625,27.11L625.25,27.17L625.50,27.25L625.75,25.67L626,25.79L626.25,26.55L626.50,28.20L626.75,28.24L627,28.40L627.25,28.44L627.50,28.42L627.75,28.46L628,26.68L628.25,26.77L628.50,27.09L628.75,28.61L629,28.62L629.25,27.11L629.50,27.13L629.75,26.81L630,26.84L630.25,27.57L630.50,27.58L630.75,28.26L631,27.86L631.25,27.86L631.50,28.74L631.75,28.74L632,28.99L632.25,28.99L632.50,26.96L632.75,26.96L633,27.64L633.25,28.39L633.50,27.97L633.75,27.02L634,26.92L634.25,28.25L634.50,28.60L634.75,26.73L635,26.14L635.25,27.32L635.50,26.91L635.75,27.31L636,27.41L636.25,27.68L636.50,26.31L636.75,25.65L637,26.73L637.25,26.82L637.50,25.76L637.75,27.50L638,27.61L638.25,27.10L638.50,26.66L638.75,26.69L639,26.98L639.25,28.54L639.50,28.13L639.75,26.50L640,29.31L640.25,29.92L640.50,29.92L640.75,29.97L641,29.97L641.25,30.16L641.50,30.16L641.75,30.02L642,30.02L642.25,29.89L642.50,29.89L642.75,29.94L643,29.94L643.25,30.14L643.50,30.14L643.75,29.73L644,29.73L644.25,29.82L644.50,29.82L644.75,29.73L645,29.73L645.25,30.12L645.50,30.12L645.75,30.05L646,30.05L646.25,30.15L646.50,30.15L646.75,29.82L647,29.82L647.25,30.05L647.50,30.05L647.75,30.11L648,30.11L648.25,29.98L648.50,29.98L648.75,29.76L649,29.76L649.25,29.80L649.50,29.80L649.75,30.05L650,30.05L650.25,30.10L650.50,30.10L650.75,29.76L651,29.76L651.25,29.91L651.50,29.91L651.75,29.85L652,29.85L652.25,30.13L653,30.14L653.25,29.86L653.50,29.86L653.75,29.98L654,29.98L654.25,30.14L654.50,30.14L654.75,29.75L655,29.75L655.25,29.88L655.50,29.88L655.75,29.81L656,29.81L656.25,30.13L656.50,30.12L656.75,29.74L657,28.48L657.25,27.22L657.50,27.85L657.75,29.35L658,29.78L658.25,29.97L658.50,29.97L658.75,30.02L659,30.02L659.25,29.92L659.50,29.92L659.75,29.75L660,29.75L660.25,30.05L660.50,30.05L660.75,30.11L661,30.11L661.25,29.93L661.50,29.93L661.75,30.06L662,30.06L662.25,30.12L662.50,29.79L662.75,28.44L663,26.61L663.25,26.88L663.50,28.81L663.75,29.92L664,30.08L664.25,30.03L665,30.03L665.25,29.83L665.50,29.83L665.75,30.04L666,30.04L666.25,29.94L666.50,29.73L666.75,28.64L667,26.44L667.25,23.82L667.50,23.27L667.75,23.82L668,26.44L668.25,28.64L668.50,29.73L668.75,30.08L669,30.16L670,30.17L670.0,30.17Z" fill="#4cabaa"/>
<line x1="592.6" y1="30.17" x2="670.4" y2="30.17" stroke="#4cabaa" stroke-width="0.75"/>
<path d="M593.0,37.74L593,37.74L593.75,37.74L594,37.10L594.25,37.10L594.50,36.76L594.75,36.76L595,36.99L595.75,36.98L596,37.49L596.25,37.49L596.50,37.71L596.75,37.71L597,37.59L597.25,37.59L597.50,37.34L597.75,37.34L598,37.62L598.25,37.62L598.50,36.82L598.75,36.82L599,36.52L599.25,34.80L599.50,34.55L599.75,36.19L600,37.05L600.25,37.05L600.50,36.99L600.75,36.99L601,37.20L601.25,37.20L601.50,37.74L601.75,37.74L602,36.86L602.25,36.86L602.50,36.92L602.75,36.92L603,37.19L603.25,37.19L603.50,37.15L603.75,37.15L604,37.01L604.25,37.01L604.50,37.67L604.75,37.67L605,36.93L605.25,36.93L605.50,37.17L605.75,36.03L606,34L606.25,31.76L606.50,30.84L606.75,31.76L607,34L607.25,36.03L607.50,37.17L607.75,37.51L608,36.93L608.25,36.93L608.50,36.67L608.75,36.67L609,37.20L609.25,37.20L609.50,37.32L609.75,37.32L610,37.21L610.25,37.21L610.50,36.35L610.75,34.52L611,32.26L611.25,30.92L611.50,31.53L611.75,33.60L612,35.72L612.25,37.02L612.50,37.55L612.75,37.65L613,37.58L613.25,37.58L613.50,37.46L613.75,37.46L614,36.92L614.25,36.92L614.50,37.41L614.75,37.41L615,37.12L615.25,37.12L615.50,37.54L615.75,37.36L616,37.26L616.25,36.88L616.50,36.73L616.75,37.23L617,37.17L617.25,36.41L617.50,36.70L617.75,36.61L618,36.44L618.25,36.34L618.50,35.76L618.75,35.56L619,36.10L619.25,35.94L619.50,35.54L619.75,34.95L620,34.74L620.25,33.74L620.50,33.46L620.75,35.10L621,34.93L621.25,33.12L621.50,32.75L621.75,32.85L622,32.79L622.25,32.49L622.50,33.39L622.75,33.26L623,33.41L623.25,33.69L623.50,35.22L623.75,35.42L624,35.26L624.25,35.60L624.50,35.71L624.75,33.71L625,33.95L625.25,35.45L625.50,35.50L625.75,35.82L626,35.87L626.25,36.12L626.50,34.26L626.75,34.34L627,34.35L627.25,34.43L627.50,34.96L627.75,35.03L628,35.95L628.25,35.99L628.50,36.12L628.75,36.03L629,36.04L629.25,35.71L629.50,35.73L629.75,36.35L630,36.36L630.25,35.80L630.50,35.81L630.75,36.18L631,34.85L631.75,34.83L632,35.65L632.25,35.65L632.50,36.23L632.75,36.23L633,34.84L633.25,36.80L633.50,36.58L633.75,35.68L634,35.62L634.25,36.63L634.50,36.83L634.75,36.85L635,36.70L635.25,35.95L635.50,36.06L635.75,36.27L636,35.90L636.25,36.08L636.50,35.84L636.75,35.51L637,34.66L637.25,34.74L637.50,35.32L637.75,35.59L638,35.69L638.25,35.03L638.50,34.64L638.75,35.71L639,35.88L639.25,36.05L639.50,35.63L639.75,33.94L640,37.20L640.25,37.57L641.50,37.59L641.75,37.70L642,37.70L642.25,37.45L642.50,37.45L642.75,37.67L643,37.67L643.25,37.42L644,37.43L644.25,37.73L644.50,37.73L644.75,37.59L645,37.59L645.25,37.47L645.50,37.47L645.75,37.42L646,37.42L646.25,37.59L646.50,37.59L646.75,37.65L647.50,37.67L647.75,37.43L648,37.43L648.25,37.67L648.50,37.67L648.75,37.55L649,37.55L649.25,37.69L649.50,37.69L649.75,37.57L650,37.57L650.25,37.43L650.50,37.43L650.75,37.70L651,37.70L651.25,37.47L651.50,37.47L651.75,37.57L652,37.57L652.25,37.45L652.50,37.45L652.75,37.51L653,37.51L653.25,37.66L653.50,37.66L653.75,37.44L654,37.44L654.25,37.58L654.50,37.58L654.75,37.73L655.50,37.74L655.75,37.58L656.50,37.59L656.75,37.45L657,36.62L657.25,35.77L657.50,36.19L657.75,37.19L658,37.63L658.50,37.64L658.75,37.46L659,37.46L659.25,37.74L659.50,37.74L659.75,37.49L660.50,37.46L660.75,37.70L661,37.70L661.25,37.43L661.50,37.43L661.75,37.50L662,37.50L662.25,37.44L662.50,37.44L662.75,36.37L663,34.93L663.25,35.14L663.50,36.66L663.75,37.54L664,37.61L664.25,37.41L664.50,37.41L664.75,37.55L665,37.55L665.25,37.62L666,37.60L666.25,37.65L666.50,37.30L666.75,36.21L667,34.01L667.25,31.39L667.50,30.84L667.75,31.39L668,34.01L668.25,36.21L668.50,37.30L668.75,37.43L669,37.43L669.25,37.74L670,37.74L670.0,37.74Z" fill="#2a8a8b"/>
<line x1="592.6" y1="37.74" x2="670.4" y2="37.74" stroke="#2a8a8b" stroke-width="0.75"/>
<path d="M593.0,45.31L593,45.31L593.75,45.31L594,44.34L594.25,44.34L594.50,45.06L594.75,45.06L595,45.20L595.25,45.20L595.50,45.16L595.75,45.16L596,44.79L596.25,44.79L596.50,44.63L596.75,44.63L597,44.37L597.25,44.37L597.50,44.59L597.75,44.59L598,44.66L598.25,44.66L598.50,44.55L598.75,44.55L599,44.23L599.25,42.71L599.50,42.50L599.75,43.94L600,45.01L600.25,45.27L600.50,44.53L600.75,44.53L601,45.08L601.25,45.08L601.50,44.39L601.75,44.39L602,44.66L602.25,44.66L602.50,45.01L602.75,45.01L603,45.18L603.25,45.18L603.50,45.06L603.75,45.06L604,44.67L604.25,44.67L604.50,44.61L604.75,44.61L605,45.20L605.25,45.17L605.50,44.74L605.75,43.60L606,41.57L606.25,39.33L606.50,38.41L606.75,39.33L607,41.57L607.25,43.60L607.50,44.74L607.75,45.09L608,44.71L608.25,44.71L608.50,45.30L608.75,45.30L609,45.01L609.25,45.01L609.50,44.85L609.75,44.85L610,44.35L610.25,44.35L610.50,43.99L610.75,42.23L611,40.08L611.25,38.80L611.50,39.38L611.75,41.36L612,43.39L612.25,44.62L612.50,45.06L612.75,45.06L613,44.35L613.25,44.35L613.50,44.61L613.75,44.61L614,45L614.25,45L614.50,45.29L614.75,45.29L615,44.81L615.25,44.81L615.50,44.64L615.75,44.64L616,44.89L616.25,44.81L616.50,44.72L616.75,44.20L617,44.05L617.25,43.99L617.50,43.94L617.75,43.82L618,43.91L618.25,43.81L618.50,43.32L618.75,43.13L619,42.85L619.25,42.61L619.50,43.14L619.75,42.60L620,42.40L620.25,43.84L620.50,43.74L620.75,41.70L621,41.47L621.25,42.15L621.50,41.90L621.75,40.51L622,40.59L622.25,40.30L622.50,41.71L622.75,41.60L623,42.59L623.25,42.77L623.50,39.42L623.75,39.87L624,42.97L624.25,41.94L624.50,42.12L624.75,42.68L625,42.83L625.25,43.02L625.50,43.08L625.75,41.99L626,42.08L626.25,41.59L626.50,43.40L626.75,43.45L627,42.58L627.25,42.65L627.50,43.48L627.75,43.53L628,43.04L628.25,43.10L628.50,43.48L628.75,43.93L629.50,43.97L629.75,43.90L630,43.91L630.25,42.61L630.50,42.63L630.75,43.41L631,43.93L631.25,43.93L631.50,42.67L631.75,42.67L632,42.51L632.25,42.51L632.50,43.51L632.75,43.51L633,44.07L633.25,43.89L633.50,43.56L633.75,42.98L634,42.91L634.25,43.56L634.50,43.88L634.75,43.92L635,43.68L635.25,44.03L635.50,43.53L635.75,43.75L636,42.84L636.25,43.08L636.50,44.13L636.75,43.92L637,42.82L637.25,42.89L637.50,42.95L637.75,42.91L638,43.01L638.25,43.87L638.50,43.66L638.75,43.54L639,43.69L639.25,43.77L639.50,43.39L639.75,42.97L640,44.53L640.25,45.21L641,45.18L641.25,45.11L641.50,45.11L641.75,45.25L642,45.25L642.25,45.07L643,45.09L643.25,45.16L643.50,45.16L643.75,45.25L644,45.25L644.25,45.02L644.50,45.02L644.75,45.22L645,45.22L645.25,45.06L645.50,45.06L645.75,45.24L646.50,45.24L646.75,45.08L647,45.08L647.25,45.22L647.50,45.22L647.75,45.02L648,45.02L648.25,45.16L648.50,45.16L648.75,45.25L649.50,45.24L649.75,45.18L650,45.18L650.25,45.11L650.50,45.11L650.75,45.03L651,45.03L651.25,45.27L651.50,45.27L651.75,45.19L652,45.19L652.25,45.25L652.50,45.25L652.75,45.02L653,45.02L653.25,45.27L654.50,45.29L654.75,45.19L655,45.19L655.25,45.04L656,45.04L656.25,45.09L656.50,45.09L656.75,44.99L657,44.07L657.25,43.14L657.50,43.61L657.75,44.71L658,45.21L658.25,45.25L658.50,45.25L658.75,45.03L659,45.03L659.25,45.09L659.50,45.09L659.75,45.30L660,45.30L660.25,45.11L660.50,45.11L660.75,45.20L662,45.21L662.25,45.26L662.50,45.01L662.75,43.94L663,42.50L663.25,42.71L663.50,44.23L663.75,45.11L664,45.20L664.25,45.02L664.50,45.02L664.75,45.27L665,45.27L665.25,45.02L665.50,45.02L665.75,45.25L666,45.25L666.25,45.20L666.50,44.87L666.75,43.78L667,41.58L667.25,38.96L667.50,38.41L667.75,38.96L668,41.58L668.25,43.78L668.50,44.87L668.75,45.17L669,45.17L669.25,45.31L670,45.31L670.0,45.31Z" fill="#2a8a8b"/>
<line x1="592.6" y1="45.31" x2="670.4" y2="45.31" stroke="#2a8a8b" stroke-width="0.75"/>
<path d="M593.0,52.88L593,52.88L593.75,52.88L594,52.70L594.25,52.70L594.50,51.82L594.75,51.82L595,52.19L595.25,52.19L595.50,52.49L595.75,52.49L596,52.40L596.25,52.40L596.50,51.69L596.75,51.69L597,52.27L597.25,52.27L597.50,51.75L597.75,51.84L598,51.91L598.25,51.91L598.50,52.10L598.75,52.10L599,51.69L599.25,51.32L599.50,51.19L599.75,52.06L600,52.31L600.25,52.31L600.50,51.90L601.25,51.87L601.50,51.78L601.75,51.78L602,52.83L602.25,52.83L602.50,52.53L602.75,52.53L603,52.74L603.25,52.74L603.50,52.65L603.75,52.65L604,51.71L604.25,51.71L604.50,52.18L604.75,52.18L605,51.76L605.25,51.76L605.50,51.35L605.75,49.79L606,47.79L606.25,46L606.75,46L607,47.79L607.25,49.79L607.50,51.35L607.75,51.95L608,51.75L608.25,51.75L608.50,52.75L608.75,52.75L609,52.16L609.75,52.14L610,52.40L610.25,51.65L610.50,50.30L610.75,48.46L611,46.67L611.25,45.98L611.50,46.15L611.75,47.69L612,49.60L612.25,51.19L612.50,52.16L612.75,52.16L613,52.10L613.25,52.10L613.50,52.64L613.75,52.64L614,52.87L614.25,52.87L614.50,52.49L614.75,52.49L615,52.07L615.25,52.07L615.50,52.66L615.75,52.52L616,52.43L616.25,52L616.50,51.85L616.75,52.41L617,52.35L617.25,51.90L617.50,51.35L617.75,51.22L618,51.15L618.25,51.02L618.50,52L618.75,51.91L619,51.82L619.25,51.72L619.50,51.55L619.75,49.39L620,49.13L620.25,50.68L620.50,50.52L620.75,48.82L621,48.57L621.25,47.78L621.50,47.38L621.75,49.25L622,49.28L622.25,49.06L622.50,45.98L622.75,45.98L623,46.93L623.25,47.33L623.50,49.30L623.75,49.58L624,47.99L624.25,49.71L624.50,49.88L624.75,50.18L625,50.34L625.25,51.23L625.50,51.27L625.75,49.15L626,49.25L626.25,48.91L626.50,49.77L626.75,49.84L627,49.12L627.25,49.21L627.50,51.52L627.75,51.55L628,51.10L628.25,51.15L628.50,50.67L628.75,49.64L629.50,49.71L629.75,50.93L630,50.95L630.25,51.24L630.50,51.25L630.75,50.90L631,50.79L631.25,50.79L631.50,49.91L631.75,49.91L632,51.42L632.25,51.42L632.50,50.16L632.75,50.16L633,50.29L633.25,51.46L633.50,51.12L633.75,51.27L634,51.22L634.25,51.55L634.50,51.80L634.75,50.78L635,50.42L635.25,50.65L635.50,48.85L635.75,49.36L636,50.05L636.25,50.32L636.50,49.57L636.75,49.01L637,50.55L637.25,50.61L637.50,51.35L637.75,51.56L638,51.62L638.25,50.47L638.50,50.13L638.75,49.57L639,49.85L639.25,50.54L639.50,49.95L639.75,50.54L640,51.96L640.25,52.74L640.50,52.74L640.75,52.68L641,52.68L641.25,52.65L641.50,52.65L641.75,52.85L642.50,52.82L642.75,52.63L643,52.63L643.25,52.73L643.50,52.73L643.75,52.78L644.50,52.77L644.75,52.54L645,52.54L645.25,52.77L645.50,52.77L645.75,52.68L646,52.68L646.25,52.75L647,52.73L647.25,52.57L647.50,52.57L647.75,52.52L648,52.52L648.25,52.75L648.50,52.75L648.75,52.81L649,52.81L649.25,52.62L649.50,52.62L649.75,52.81L650,52.81L650.25,52.88L650.50,52.88L650.75,52.56L651,52.56L651.25,52.73L651.50,52.73L651.75,52.58L652,52.58L652.25,52.73L652.50,52.73L652.75,52.56L653,52.56L653.25,52.71L653.50,52.71L653.75,52.82L654,52.82L654.25,52.87L654.50,52.87L654.75,52.68L655,52.68L655.25,52.65L655.50,52.65L655.75,52.55L656,52.55L656.25,52.85L656.50,52.79L656.75,52.10L657,49.84L657.25,47.57L657.50,48.70L657.75,51.40L658,52.65L658.25,52.83L658.50,52.83L658.75,52.78L659,52.78L659.25,52.69L659.50,52.69L659.75,52.55L660,52.55L660.25,52.84L660.50,52.84L660.75,52.70L661,52.70L661.25,52.59L661.50,52.59L661.75,52.53L662,52.53L662.25,52.81L662.50,52.58L662.75,51.51L663,50.07L663.25,50.28L663.50,51.80L663.75,52.53L664,52.53L664.25,52.71L664.50,52.71L664.75,52.86L665,52.86L665.25,52.55L665.50,52.55L665.75,52.74L666,52.74L666.25,52.55L666.50,52.44L666.75,51.35L667,49.15L667.25,46.53L667.50,45.98L667.75,46.53L668,49.15L668.25,51.35L668.50,52.44L668.75,52.79L669,52.80L669.25,52.88L670,52.88L670.0,52.88Z" fill="#1b6061"/>
<line x1="592.6" y1="52.88" x2="670.4" y2="52.88" stroke="#1b6061" stroke-width="0.75"/>
<path d="M593.0,60.45L593,60.45L593.75,60.45L594,60.29L594.25,60.29L594.50,59.51L594.75,59.51L595,59.77L595.25,59.77L595.50,59.55L595.75,59.55L596,60.28L596.25,60.28L596.50,59.67L596.75,59.67L597,60.33L597.25,60.33L597.50,59.92L597.75,59.92L598,59.81L598.25,59.81L598.50,60.09L598.75,60.09L599,59.58L599.25,59.06L599.50,58.95L599.75,59.72L600,59.87L600.25,59.87L600.50,59.57L600.75,59.57L601,60.35L601.25,60.35L601.50,59.46L601.75,59.46L602,59.82L602.25,59.82L602.50,60.06L602.75,60.06L603,59.65L603.25,59.65L603.50,60.19L603.75,60.19L604,59.46L604.25,59.46L604.50,59.87L604.75,59.87L605,60.09L605.25,59.83L605.50,58.92L605.75,57.36L606,55.36L606.25,53.57L606.75,53.57L607,55.36L607.25,57.36L607.50,58.92L607.75,59.83L608,59.63L608.25,59.63L608.50,60.20L608.75,60.20L609,59.81L609.25,59.81L609.50,59.47L609.75,59.47L610,59.86L610.25,59.22L610.50,57.87L610.75,56.03L611,54.24L611.25,53.55L611.50,53.72L611.75,55.26L612,57.17L612.25,58.76L612.50,59.73L612.75,60.20L613,59.83L613.25,59.83L613.50,60.02L613.75,60.02L614,59.94L614.25,59.94L614.50,59.55L614.75,59.55L615,60.32L615.25,60.21L615.50,60.06L615.75,60.17L616,59.80L616.25,59.99L616.50,59.91L616.75,59.67L617,59.57L617.25,59.36L617.50,59.41L617.75,59.32L618,59.57L618.25,59.51L618.50,59.26L618.75,59.14L619,58.11L619.25,57.88L619.50,57.27L619.75,59.06L620,58.96L620.25,57.40L620.50,57.19L620.75,56.36L621,56.10L621.25,58.40L621.50,58.24L621.75,54.76L622,57.54L622.25,57.36L622.50,54.92L622.75,54.76L623,54.85L623.25,55.22L623.50,55.25L623.75,55.64L624,57.16L624.25,56.90L624.50,57.09L624.75,56.73L625,56.95L625.25,57.52L625.50,57.59L625.75,56.99L626,57.09L626.25,57.76L626.50,57.86L626.75,57.92L627,59.03L627.25,59.06L627.50,57.65L627.75,57.72L628,58.08L628.25,58.14L628.50,58.76L628.75,57.63L629.50,57.65L629.75,58.35L630,58.37L630.25,58.96L630.50,58.97L630.75,58.38L631,59.14L631.25,59.14L631.50,59.10L631.75,59.10L632,58.48L632.25,58.48L632.50,59.17L632.75,59.17L633,58.46L633.25,57.91L633.50,57.32L633.75,58.76L634,58.71L634.25,57.40L634.50,57.96L634.75,57.67L635,57.19L635.25,57.36L635.50,57.07L635.75,57.49L636,59.08L636.25,59.21L636.50,57.35L636.75,56.82L637,57.64L637.25,57.71L637.50,57L637.75,57.60L638,57.73L638.25,58.91L638.50,58.69L638.75,57.14L639,57.41L639.25,57.17L639.50,56.34L639.75,58.73L640,59.65L640.25,60.38L640.50,60.38L640.75,60.27L641.50,60.27L641.75,60.39L642,60.39L642.25,60.26L642.50,60.26L642.75,60.31L643,60.31L643.25,60.41L643.50,60.41L643.75,60.17L644,60.17L644.25,60.38L645.50,60.42L645.75,60.26L646,60.26L646.25,60.19L647,60.22L647.25,60.33L647.50,60.33L647.75,60.37L648,60.37L648.25,60.45L648.50,60.45L648.75,60.26L649.50,60.28L649.75,60.34L650,60.34L650.25,60.26L650.50,60.26L650.75,60.32L651,60.32L651.25,60.17L651.50,60.17L651.75,60.23L652,60.23L652.25,60.38L652.50,60.38L652.75,60.18L653,60.18L653.25,60.44L653.50,60.44L653.75,60.29L654,60.29L654.25,60.33L654.50,60.33L654.75,60.38L655,60.38L655.25,60.43L655.50,60.43L655.75,60.22L656,60.22L656.25,60.45L656.50,60.36L656.75,59.70L657,57.53L657.25,55.33L657.50,56.42L657.75,59.03L658,60.22L658.25,60.39L658.50,60.39L658.75,60.27L659,60.27L659.25,60.30L659.50,60.30L659.75,60.26L660,60.26L660.25,60.21L660.50,60.21L660.75,60.40L661,60.40L661.25,60.36L662,60.36L662.25,60.42L662.50,60.15L662.75,59.08L663,57.64L663.25,57.85L663.50,59.37L663.75,60.24L664,60.24L664.25,60.45L664.50,60.45L664.75,60.20L665.50,60.23L665.75,60.31L666,60.31L666.25,60.23L666.50,60.01L666.75,58.92L667,56.72L667.25,54.10L667.50,53.55L667.75,54.10L668,56.72L668.25,58.92L668.50,60.01L668.75,60.36L669,60.44L670,60.45L670.0,60.45Z" fill="#1b6061"/>
<path d="M593.0,68.02L593,68.02L593.75,68.02L594,67.74L594.25,67.74L594.50,67.30L594.75,67.30L595,67.65L595.25,67.65L595.50,67.70L595.75,67.70L596,67.06L596.25,67.06L596.50,67.52L596.75,67.52L597,67.17L597.25,67.17L597.50,66.99L597.75,67.07L598,67.62L598.25,67.95L598.50,67.61L598.75,67.58L599,66.78L599.25,66.45L599.50,67.12L599.75,67.25L600,67.67L600.25,67.67L600.50,67.32L600.75,67.32L601,67.48L601.25,67.48L601.50,67.80L601.75,67.80L602,67.16L602.25,67.16L602.50,67.93L602.75,67.93L603,67.20L603.25,67.20L603.50,67.85L603.75,67.85L604,68.02L604.25,68.02L604.50,67.82L604.75,67.82L605,67.26L605.25,67.26L605.50,66.67L605.75,65.30L606,63.54L606.25,61.97L606.50,61.33L606.75,61.97L607,63.54L607.25,65.30L607.50,66.67L607.75,67.22L608,67.84L608.25,67.84L608.50,67.53L608.75,67.53L609,67.67L609.25,67.67L609.50,67.19L609.75,67.19L610,67.60L610.25,66.95L610.50,65.78L610.75,64.17L611,62.62L611.25,61.80L611.50,62.17L611.75,63.51L612,65.17L612.25,66.55L612.50,67.40L612.75,67.52L613,67.91L613.25,67.91L613.50,67.38L613.75,67.38L614,67.94L614.25,67.94L614.50,67.23L614.75,67.23L615,67.32L615.25,67.32L615.50,67.23L615.75,67.23L616,67.39L616.25,67.33L616.50,67.21L616.75,67.42L617,67.34L617.25,67L617.50,67.03L617.75,66.94L618,66.44L618.25,66.32L618.50,66.57L618.75,66.43L619,66.68L619.25,66.55L619.50,65.67L619.75,64.78L620,64.54L620.25,66.14L620.50,66L620.75,63.99L621,63.74L621.25,66.25L621.50,66.11L621.75,65.05L622,64.93L622.25,64.74L622.50,62.42L622.75,62.25L623,61.15L623.25,61.60L623.50,62.86L623.75,63.25L624,64.98L624.25,63.29L624.50,63.54L624.75,65.43L625,65.59L625.25,65.89L625.50,65.95L625.75,64.26L626,64.37L626.25,65.15L626.50,65.08L626.75,65.15L627,65.27L627.25,65.34L627.50,64.72L627.75,64.80L628,65.93L628.25,65.99L628.50,65.31L628.75,65.61L629,65.63L629.25,65.33L629.50,65.35L629.75,66.17L630,66.18L630.25,65.66L630.50,65.68L630.75,65.98L631,66.48L631.25,66.48L631.50,66.65L631.75,66.65L632,65.90L632.25,65.90L632.50,66.90L632.75,66.90L633,65.37L633.25,66.18L633.50,65.75L633.75,65.22L634,65.14L634.25,66.87L634.50,67.08L634.75,66.23L635,65.92L635.25,66.10L635.50,65.06L635.75,65.43L636,65.80L636.25,66.01L636.50,65.47L636.75,65.04L637,66.58L637.25,66.61L637.50,65.18L637.75,65.53L638,65.64L638.25,65.19L638.50,64.78L638.75,66.61L639,66.73L639.25,66.57L639.50,66.20L639.75,66.40L640,67.57L640.25,67.75L640.50,67.75L640.75,68.01L641,68.01L641.25,67.96L642,67.94L642.25,67.75L642.50,67.75L642.75,67.87L643,67.87L643.25,67.91L643.50,67.91L643.75,67.75L644,67.75L644.25,67.95L644.50,67.95L644.75,67.88L645.50,67.86L645.75,67.79L646.50,67.79L646.75,67.83L647,67.83L647.25,67.92L648,67.92L648.25,67.97L648.50,67.97L648.75,67.77L649,67.77L649.25,67.82L650,67.80L650.25,67.97L650.50,67.97L650.75,67.89L651,67.89L651.25,67.79L651.50,67.79L651.75,67.85L652,67.85L652.25,67.98L652.50,67.98L652.75,67.88L653,67.88L653.25,67.75L653.50,67.75L653.75,67.95L654.50,67.96L654.75,67.93L655,67.93L655.25,67.81L655.50,67.81L655.75,67.77L656,67.77L656.25,67.97L656.50,67.93L656.75,67.24L657,64.98L657.25,62.71L657.50,63.84L657.75,66.54L658,67.79L658.25,67.86L658.50,67.86L658.75,67.97L659,67.97L659.25,67.92L659.50,67.92L659.75,67.96L660,67.96L660.25,67.73L660.50,67.73L660.75,67.80L661,67.80L661.25,67.99L661.50,67.99L661.75,67.73L662,67.73L662.25,67.99L662.50,67.70L662.75,66.56L663,65.02L663.25,65.25L663.50,66.87L663.75,67.78L664.50,67.80L664.75,67.89L665,67.89L665.25,67.96L665.50,67.96L665.75,67.83L666,67.83L666.25,67.94L666.50,67.63L666.75,66.67L667,64.74L667.25,62.44L667.50,61.35L667.75,62.44L668,64.74L668.25,66.67L668.50,67.63L668.75,67.78L669,67.78L669.25,68.02L670,68.02L670.0,68.02Z" fill="#f0ab42"/>
<line x1="592.6" y1="68.02" x2="670.4" y2="68.02" stroke="#f0ab42" stroke-width="0.75"/>
<path d="M593.0,75.59L593,75.59L593.75,75.59L594,75.46L594.25,75.46L594.50,74.81L594.75,74.81L595,74.78L595.25,74.78L595.50,74.96L595.75,74.96L596,75.12L596.25,75.12L596.50,75.03L596.75,75.03L597,75.36L597.25,75.09L597.50,74.56L597.75,74.63L598,75.19L598.25,75.24L598.50,74.95L598.75,74.95L599,74.35L599.25,74.02L599.50,74.69L599.75,74.77L600,75.12L600.25,75.12L600.50,75.30L600.75,75.30L601,75.04L601.25,75.04L601.50,75.46L601.75,75.46L602,74.76L602.25,74.76L602.50,75.24L602.75,75.24L603,74.74L603.25,74.74L603.50,75.32L603.75,75.32L604,75.21L604.25,75.21L604.50,75.34L604.75,75.34L605,75.16L605.25,75.04L605.50,74.24L605.75,72.87L606,71.11L606.25,69.54L606.50,68.90L606.75,69.54L607,71.11L607.25,72.87L607.50,74.24L607.75,75.04L608,75.29L608.25,75.29L608.50,75.11L608.75,75.11L609,75.16L609.25,75.16L609.50,74.95L610,74.93L610.25,74.52L610.50,73.35L610.75,71.74L611,70.19L611.25,69.37L611.50,69.74L611.75,71.08L612,72.74L612.25,74.12L612.50,74.76L612.75,74.76L613,74.68L613.25,74.68L613.50,74.81L613.75,74.81L614,75.45L614.25,75.45L614.50,74.76L614.75,74.76L615,74.96L615.25,74.96L615.50,75.27L615.75,75.21L616,75.11L616.25,75.20L616.50,75.13L616.75,74.69L617,74.57L617.25,74.66L617.50,74.22L617.75,74.10L618,73.77L618.25,73.63L618.50,74.19L618.75,74.05L619,73.64L619.25,73.44L619.50,72.88L619.75,73.41L620,73.24L620.25,73.57L620.50,73.43L620.75,71.81L621,71.57L621.25,70.81L621.50,70.43L621.75,70.44L622,70.37L622.25,70.05L622.50,69.17L622.75,68.98L623,69.63L623.25,70.03L623.50,70.58L623.75,70.97L624,71.91L624.25,72.59L624.50,72.75L624.75,71.92L625,72.13L625.25,73.75L625.50,73.80L625.75,72.96L626,73.03L626.25,72.16L626.50,72.44L626.75,72.51L627,72.78L627.25,72.84L627.50,73.78L627.75,73.82L628,73.49L628.25,73.54L628.50,73.53L628.75,73.20L629,73.22L629.25,73.67L629.50,73.68L629.75,73.16L630,73.18L630.25,72.70L630.50,72.72L630.75,74.19L631,73.29L631.25,73.29L631.50,73.05L631.75,73.05L632,73.80L632.25,73.80L632.50,73.61L632.75,73.61L633,72.67L633.25,73.91L633.50,73.52L633.75,72.82L634,72.74L634.25,72.79L634.50,73.30L634.75,73.79L635,73.48L635.25,73.43L635.50,72.11L635.75,72.55L636,74.28L636.25,74.40L636.50,73.25L636.75,72.86L637,73.21L637.25,73.27L637.50,72.77L637.75,74.38L638,74.43L638.25,72.47L638.50,72.03L638.75,73.50L639,73.67L639.25,74.34L639.50,74.03L639.75,73.41L640,74.79L640.25,75.52L640.50,75.52L640.75,75.36L641,75.36L641.25,75.49L641.50,75.49L641.75,75.54L642,75.54L642.25,75.32L642.50,75.32L642.75,75.35L643,75.35L643.25,75.54L643.50,75.54L643.75,75.32L644,75.32L644.25,75.41L644.50,75.41L644.75,75.36L645,75.36L645.25,75.39L645.50,75.39L645.75,75.32L646,75.32L646.25,75.35L647,75.34L647.25,75.53L647.50,75.53L647.75,75.38L648,75.38L648.25,75.43L648.50,75.43L648.75,75.37L649,75.37L649.25,75.46L649.50,75.46L649.75,75.33L650,75.33L650.25,75.42L650.50,75.42L650.75,75.51L652,75.55L652.25,75.44L652.50,75.44L652.75,75.57L653,75.57L653.25,75.45L653.50,75.45L653.75,75.55L654,75.55L654.25,75.44L655.50,75.43L655.75,75.33L656,75.33L656.25,75.59L656.50,75.50L656.75,74.81L657,72.55L657.25,70.28L657.50,71.41L657.75,74.11L658,75.36L658.25,75.39L658.50,75.39L658.75,75.34L659,75.34L659.25,75.48L660,75.46L660.25,75.30L660.50,75.30L660.75,75.57L661,75.57L661.25,75.40L662,75.40L662.25,75.56L662.50,75.25L662.75,74.04L663,72.40L663.25,72.65L663.50,74.37L663.75,75.31L664,75.31L664.25,75.49L664.50,75.49L664.75,75.30L665,75.30L665.25,75.44L666,75.44L666.25,75.32L666.50,75.20L666.75,74.24L667,72.31L667.25,70.01L667.50,68.92L667.75,70.01L668,72.31L668.25,74.24L668.50,75.20L668.75,75.33L669,75.33L669.25,75.59L670,75.59L670.0,75.59Z" fill="#f0ab42"/>
<line x1="592.6" y1="75.59" x2="670.4" y2="75.59" stroke="#f0ab42" stroke-width="0.75"/>
<path d="M593.0,83.16L593,83.16L593.75,83.16L594,83.11L594.25,83.11L594.50,83.16L595.25,83.16L595.50,82.95L595.75,82.95L596,83.12L596.25,83.12L596.50,82.87L596.75,82.87L597,83.13L597.25,82.85L597.50,81.49L597.75,79.83L598,80.68L598.25,82.47L598.50,83.09L598.75,83.15L599,82.94L599.25,81.72L599.50,79.65L599.75,79.98L600,82.09L600.25,82.94L600.50,83.10L600.75,83.10L601,83.14L601.25,83.14L601.50,82.93L602.25,82.95L602.50,82.90L602.75,82.90L603,82.94L603.25,82.94L603.50,83.13L603.75,83.13L604,82.97L604.75,82.95L605,83.02L605.25,83.02L605.50,82.88L605.75,82.63L606,81.03L606.25,78.27L606.50,76.70L606.75,78.27L607,81.03L607.25,82.63L607.50,83.08L607.75,83.15L608.25,83.16L608.50,82.96L608.75,82.96L609,82.91L609.25,82.91L609.50,83.14L609.75,83.14L610,83.07L610.25,83.07L610.50,82.94L610.75,82.55L611,81.59L611.25,80.85L611.50,81.20L611.75,82.21L612,82.89L612.25,83.01L612.50,83.14L612.75,83.14L613,83.05L613.25,83.05L613.50,82.99L613.75,82.99L614,83.03L614.25,83.03L614.50,82.96L614.75,82.96L615,83.12L615.25,83.08L615.50,82.92L615.75,82.92L616,82.88L616.25,82.97L616.50,82.93L616.75,82.82L617,82.78L617.25,82.74L617.50,82.64L617.75,82.60L618,82.40L618.25,82.34L618.50,82.63L618.75,82.58L619,82.10L619.25,81.99L619.50,82.28L619.75,82.11L620,82.03L620.25,82.22L620.50,82.15L620.75,81.77L621,81.69L621.25,80.90L621.50,80.73L621.75,81.09L622,80.68L622.25,80.53L622.50,81.39L622.75,81.33L623,81.31L623.25,81.43L623.50,81.59L623.75,81.71L624,81.32L624.25,81.33L624.50,81.43L624.75,81.32L625,81.43L625.25,82.42L625.50,82.44L625.75,81.63L626,81.67L626.25,81.53L626.50,81.95L626.75,81.98L627,82.53L627.25,82.55L627.50,82.31L627.75,82.33L628,82.63L628.25,82.65L628.50,82.49L628.75,81.83L629,81.84L629.25,82.13L629.50,82.14L629.75,82.10L630,82.11L630.25,82L630.50,82.01L630.75,81.92L631,82.18L632.25,82.17L632.50,82.11L632.75,82.11L633,82.19L633.25,82.25L633.50,82.03L633.75,82.14L634,82.10L634.25,81.82L634.50,82.07L634.75,82.08L635,81.89L635.25,81.95L635.50,82.27L635.75,82.38L636,82.45L636.25,82.52L636.50,82.28L636.75,82.13L637.50,82.15L637.75,82.12L638,82.17L638.25,81.71L638.50,81.51L638.75,82.49L639,82.55L639.25,82.05L639.50,81.77L639.75,82.42L640,82.89L640.25,83.07L642.50,83.15L642.75,83.07L644,83.09L644.25,83.13L645,83.11L645.25,83.07L647.50,83.12L647.75,83.08L648,83.08L648.25,83.13L650.50,83.09L650.75,83.13L654,83.08L654.25,83.16L654.50,83.16L654.75,83.09L656.25,83.11L656.50,83.07L656.75,82.41L657,80.24L657.25,78.04L657.50,79.13L657.75,81.74L658,82.93L658.25,83.10L659,83.08L659.25,83.13L660,83.15L660.25,83.11L661,83.09L661.25,83.14L661.50,83.14L661.75,83.09L662.25,83.08L662.50,82.88L662.75,81.88L663,80.53L663.25,80.74L663.50,82.15L663.75,82.97L664,83.10L665.50,83.14L665.75,83.09L666.25,83.08L666.50,82.77L666.75,81.81L667,79.88L667.25,77.58L667.50,76.49L667.75,77.58L668,79.88L668.25,81.81L668.50,82.77L668.75,83.08L669,83.14L670,83.16L670.0,83.16Z" fill="#ea8b39"/>
<line x1="592.6" y1="83.16" x2="670.4" y2="83.16" stroke="#ea8b39" stroke-width="0.75"/>
<path d="M593.0,90.73L593,90.73L593.75,90.73L594,90.55L594.25,90.55L594.50,90.50L594.75,90.50L595,90.70L595.25,90.70L595.50,90.63L596.25,90.65L596.50,90.69L596.75,90.69L597,90.59L597.25,90.44L597.50,89.16L597.75,87.59L598,88.40L598.25,90.08L598.50,90.66L598.75,90.69L599,90.52L599.25,89.36L599.50,87.40L599.75,87.72L600,89.71L600.25,90.51L600.50,90.67L600.75,90.67L601,90.72L601.25,90.72L601.50,90.45L601.75,90.45L602,90.66L602.25,90.66L602.50,90.45L603.75,90.46L604,90.69L604.25,90.69L604.50,90.60L604.75,90.60L605,90.70L605.25,90.70L605.50,90.45L605.75,90.20L606,88.60L606.25,85.84L606.50,84.27L606.75,85.84L607,88.60L607.25,90.20L607.50,90.63L607.75,90.63L608,90.48L608.25,90.48L608.50,90.59L608.75,90.59L609,90.54L609.25,90.54L609.50,90.69L610.25,90.66L610.50,90.58L610.75,90.04L611,88.95L611.25,88.11L611.50,88.51L611.75,89.65L612,90.43L612.25,90.68L612.50,90.47L612.75,90.47L613,90.65L613.25,90.65L613.50,90.61L613.75,90.61L614,90.68L614.25,90.68L614.50,90.65L614.75,90.65L615,90.48L615.25,90.48L615.50,90.55L615.75,90.54L616,90.49L616.25,90.45L616.50,90.40L616.75,90.31L617,90.25L617.25,90.39L617.50,90.36L617.75,90.33L618,90.30L618.25,90.27L618.50,89.88L618.75,89.80L619,89.98L619.25,89.91L619.50,89.63L619.75,89.72L620,89.64L620.25,89.41L620.50,89.32L620.75,89.75L621,89.69L621.25,89.80L621.50,89.72L621.75,87.87L622,88.91L622.25,88.80L622.50,89.32L622.75,89.28L623,88.02L623.25,88.20L623.50,88.07L623.75,88.27L624,89.51L624.25,88.84L624.50,88.94L624.75,89.41L625,89.49L625.25,89.28L625.50,89.32L625.75,90L626.25,90.03L626.50,88.91L626.75,88.95L627,89.13L627.25,89.16L627.50,89.61L627.75,89.64L628,89.59L628.25,89.61L628.50,89.94L628.75,89.44L629,89.45L629.25,89.80L629.50,89.81L629.75,89.32L630,89.33L630.25,89.51L630.50,89.52L630.75,89.48L631,89.36L631.25,89.36L631.50,90.01L631.75,90.01L632,90.20L632.25,90.20L632.50,90.06L633,90.07L633.25,90.23L633.50,90.11L633.75,89.04L634,88.99L634.25,89.95L634.50,90.09L634.75,89.83L635,89.68L635.25,89.44L635.50,89.05L635.75,89.26L636,89.71L636.25,89.81L636.50,89.88L636.75,89.73L637,89.52L637.25,89.55L637.50,90L637.75,89.40L638,89.46L638.25,89.23L638.50,89.01L638.75,89.88L639,89.95L639.25,90.15L639.50,90L639.75,89.71L640,90.37L640.25,90.72L640.50,90.72L640.75,90.65L641.50,90.67L641.75,90.71L644.50,90.70L644.75,90.64L646,90.65L646.25,90.72L647,90.70L647.25,90.65L647.50,90.65L647.75,90.72L648,90.72L648.25,90.66L648.50,90.66L648.75,90.70L649,90.70L649.25,90.64L649.50,90.64L649.75,90.73L650,90.73L650.25,90.66L650.50,90.66L650.75,90.70L652,90.73L652.25,90.66L653,90.68L653.25,90.71L654,90.69L654.25,90.65L654.50,90.65L654.75,90.71L655,90.71L655.25,90.68L655.50,90.68L655.75,90.72L656.25,90.71L656.50,90.65L656.75,90.01L657,87.92L657.25,85.81L657.50,86.86L657.75,89.36L658,90.51L658.25,90.71L659,90.72L659.25,90.68L661,90.71L661.25,90.67L662.25,90.66L662.50,90.43L662.75,89.36L663,87.92L663.25,88.13L663.50,89.65L663.75,90.53L664,90.71L664.25,90.66L665.50,90.67L665.75,90.73L666,90.72L666.25,90.65L666.50,90.36L666.75,89.43L667,87.57L667.25,85.34L667.50,84.29L667.75,85.34L668,87.57L668.25,89.43L668.50,90.36L668.75,90.65L669,90.72L670,90.73L670.0,90.73Z" fill="#ea8b39"/>
<line x1="592.6" y1="90.73" x2="670.4" y2="90.73" stroke="#ea8b39" stroke-width="0.75"/>
<path d="M593.0,98.30L593,98.30L593.75,98.30L594,98.01L594.75,98.02L595,98.23L595.25,98.23L595.50,98.17L595.75,98.17L596,98.11L596.25,98.11L596.50,98.19L596.75,98.19L597,98.14L597.25,98.10L597.50,97.22L597.75,96.14L598,96.70L598.25,97.86L598.50,98.15L599,98.16L599.25,97.39L599.50,96.08L599.75,96.29L600,97.62L600.25,98.01L600.50,98.07L600.75,98.07L601,98.02L601.25,98.02L601.50,98.11L601.75,98.11L602,98.06L603.25,98.03L603.50,98.29L603.75,98.29L604,98.11L604.25,98.11L604.50,98.22L604.75,98.22L605,98.10L605.25,98.10L605.50,98.22L605.75,97.77L606,96.17L606.25,93.41L606.50,91.84L606.75,93.41L607,96.17L607.25,97.77L607.50,98.22L607.75,98.22L608,98.14L608.75,98.17L609,98.01L609.25,98.01L609.50,98.21L610.25,98.21L610.50,98.09L610.75,97.36L611,95.89L611.25,94.75L611.50,95.30L611.75,96.84L612,97.89L612.25,98.01L612.50,98.15L612.75,98.15L613,98.22L613.25,98.22L613.50,98.16L614.25,98.14L614.50,98.26L615,98.26L615.25,98.17L615.50,98.10L615.75,98.14L616,98.10L616.25,98.08L616.50,98.04L616.75,97.73L617,97.66L617.25,97.83L617.50,97.90L617.75,97.87L618,97.70L618.25,97.65L618.50,97.44L618.75,97.35L619,97.80L619.25,97.75L619.50,97.13L619.75,97.12L620,97.03L620.25,96.84L620.50,96.74L620.75,97.26L621,97.19L621.25,96.08L621.50,95.90L621.75,95.50L622,95.19L622.25,94.99L622.50,96.21L622.75,96.15L623,95.08L623.25,95.30L623.50,96.25L623.75,96.40L624,95.78L624.25,97.19L624.50,97.25L624.75,95.96L625,96.10L625.25,96.03L625.50,96.09L625.75,96.81L626,96.85L626.50,96.88L626.75,96.91L627,96.94L627.25,96.97L627.50,97.62L627.75,97.64L628,96.57L628.25,96.61L628.50,97.47L628.75,97.52L629,97.52L629.25,97.61L629.50,97.62L629.75,97.47L630,97.48L630.25,96.89L630.50,96.90L630.75,97.72L631,97.66L631.25,97.66L631.50,97.05L631.75,97.05L632,97.56L632.25,97.56L632.50,97.74L632.75,97.74L633,97.15L633.25,97.86L633.50,97.76L634,97.77L634.25,97.66L634.50,97.77L634.75,97.92L635,97.85L635.25,97.44L635.50,97.21L635.75,97.34L636,97.90L636.25,97.94L636.50,97.59L636.75,97.47L637,97.20L637.25,97.23L637.50,97.79L637.75,97.47L638,97.50L638.25,97.29L638.50,97.15L638.75,97.58L639,97.64L639.25,97.63L639.50,97.46L639.75,97.07L640,98L640.25,98.22L642,98.24L642.25,98.28L642.50,98.28L642.75,98.24L648,98.25L648.25,98.30L648.50,98.30L648.75,98.27L649,98.27L649.25,98.22L649.50,98.22L649.75,98.28L651.50,98.27L651.75,98.21L652,98.21L652.25,98.27L652.50,98.27L652.75,98.23L653,98.23L653.25,98.29L654,98.29L654.25,98.22L654.50,98.22L654.75,98.26L655,98.26L655.25,98.29L656.25,98.26L656.50,98.20L656.75,97.43L657,94.93L657.25,92.40L657.50,93.66L657.75,96.66L658,98.04L658.25,98.21L659,98.23L659.25,98.29L662.25,98.23L662.50,98.02L662.75,97.02L663,95.67L663.25,95.88L663.50,97.29L663.75,98.11L664,98.23L666.25,98.22L666.50,97.91L666.75,96.95L667,95.02L667.25,92.72L667.50,91.63L667.75,92.72L668,95.02L668.25,96.95L668.50,97.91L668.75,98.22L669,98.25L669.25,98.30L670,98.30L670.0,98.30Z" fill="#e1632a"/>
<line x1="592.6" y1="98.30" x2="670.4" y2="98.30" stroke="#e1632a" stroke-width="0.75"/>
<path d="M593.0,105.87L593,105.87L593.75,105.87L594,105.81L594.75,105.82L595,105.68L595.75,105.69L596,105.76L596.25,105.76L596.50,105.57L596.75,105.57L597,105.68L597.25,105.68L597.50,104.99L597.75,104.11L598,104.56L598.25,105.51L598.50,105.63L598.75,105.63L599,105.75L599.25,105.11L599.50,104.02L599.75,104.20L600,105.31L600.25,105.80L600.75,105.78L601,105.62L601.25,105.62L601.50,105.69L602.25,105.67L602.50,105.81L602.75,105.81L603,105.72L603.75,105.70L604,105.79L604.25,105.79L604.50,105.68L604.75,105.68L605,105.71L605.25,105.71L605.50,105.57L605.75,105.34L606,103.74L606.25,100.98L606.50,99.41L606.75,100.98L607,103.74L607.25,105.34L607.50,105.79L607.75,105.82L608,105.64L608.25,105.64L608.50,105.84L609.75,105.82L610,105.71L610.25,105.71L610.50,105.62L610.75,104.93L611,103.46L611.25,102.32L611.50,102.87L611.75,104.41L612,105.46L612.25,105.81L612.50,105.86L612.75,105.87L613,105.64L613.25,105.64L613.50,105.77L613.75,105.77L614,105.66L614.25,105.66L614.50,105.76L614.75,105.76L615,105.82L615.25,105.77L615.50,105.70L615.75,105.67L616,105.62L616.25,105.45L616.50,105.38L616.75,105.26L617,105.18L617.25,105.25L617.50,105.33L617.75,105.28L618,105.19L618.25,105.14L618.50,105.08L618.75,105.01L619,104.66L619.25,104.54L619.50,104.91L619.75,104.71L620,104.63L620.25,104.30L620.50,104.18L620.75,104.35L621,104.26L621.25,104.28L621.50,104.16L621.75,103.02L622,102.67L622.25,102.47L622.50,103.25L622.75,103.17L623,103.24L623.25,103.41L623.50,104.19L623.75,104.32L624,104.16L624.25,104.55L624.50,104.62L624.75,103.95L625,104.06L625.25,104.10L625.50,104.14L625.75,104.93L626,104.96L626.25,103.80L626.50,104.68L626.75,104.71L627,104.05L627.25,104.09L627.50,104.14L627.75,104.18L628,104.08L628.25,104.12L628.50,105.03L628.75,104.78L629,104.79L629.25,104.26L629.50,104.27L629.75,105.27L630,105.27L630.25,105.24L630.50,105.24L630.75,104.70L631,104.78L631.25,104.78L631.50,104.33L631.75,104.33L632,104.49L632.25,104.49L632.50,104.73L632.75,104.73L633,104.25L633.25,105.60L633.50,105.53L633.75,105.30L634,105.28L634.25,105.36L634.50,105.45L634.75,105.37L635,105.29L635.25,105.19L635.50,104.98L635.75,105.10L636,105.17L636.25,105.23L636.50,105.35L636.75,105.26L637,105.20L637.50,105.20L637.75,105.12L638,105.15L638.25,105.39L638.50,105.32L638.75,105.20L639,105.26L639.25,105.11L639.50,104.92L639.75,105.36L640,105.68L640.25,105.87L640.50,105.87L640.75,105.79L641.50,105.82L641.75,105.78L642,105.78L642.25,105.83L643,105.81L643.25,105.85L644,105.87L644.25,105.79L645,105.79L645.25,105.84L645.50,105.84L645.75,105.79L646.50,105.80L646.75,105.84L647.50,105.82L647.75,105.78L648,105.78L648.25,105.83L648.50,105.83L648.75,105.78L649,105.78L649.25,105.85L650.50,105.81L650.75,105.85L651.50,105.84L651.75,105.79L652,105.79L652.25,105.83L653,105.80L653.25,105.85L655,105.85L655.25,105.78L655.50,105.78L655.75,105.84L656.25,105.82L656.50,105.78L656.75,105.06L657,102.72L657.25,100.36L657.50,101.53L657.75,104.34L658,105.63L658.25,105.83L658.50,105.83L658.75,105.86L659.50,105.86L659.75,105.80L660,105.80L660.25,105.84L662.25,105.84L662.50,105.61L662.75,104.68L663,103.43L663.25,103.62L663.50,104.94L663.75,105.70L664,105.84L664.50,105.86L664.75,105.81L665,105.81L665.25,105.86L666,105.85L666.25,105.79L666.50,105.48L666.75,104.52L667,102.59L667.25,100.29L667.50,99.20L667.75,100.29L668,102.59L668.25,104.52L668.50,105.48L668.75,105.79L669,105.86L670,105.87L670.0,105.87Z" fill="#e1632a"/>
<rect x="592.6" y="16.2" width="77.79999999999995" height="89.77" fill="none" stroke="#4d4d4d" stroke-width="0.8"/>
<line x1="548.4" y1="60.45" x2="670.4" y2="60.45" stroke="#222" stroke-width="0.8"/>
<text x="586.8000000000001" y="24.75" font-size="6.0" fill="#7cc0bc" text-anchor="end">PreCAR</text>
<path d="M591.7,19.40 H590.3000000000001 V26.50 H591.7" fill="none" stroke="#7cc0bc" stroke-width="0.5"/>
<text x="586.8000000000001" y="39.89" font-size="6.0" fill="#2e8a8c" text-anchor="end">PostCAR</text>
<path d="M591.7,34.54 H590.3000000000001 V41.64 H591.7" fill="none" stroke="#2e8a8c" stroke-width="0.5"/>
<text x="586.8000000000001" y="55.03" font-size="6.0" fill="#1f6665" text-anchor="end">Tumor</text>
<path d="M591.7,49.68 H590.3000000000001 V56.78 H591.7" fill="none" stroke="#1f6665" stroke-width="0.5"/>
<text x="586.8000000000001" y="70.17" font-size="6.0" fill="#f2b85c" text-anchor="end">PreCAR</text>
<path d="M591.7,64.82 H590.3000000000001 V71.92 H591.7" fill="none" stroke="#f2b85c" stroke-width="0.5"/>
<text x="586.8000000000001" y="85.31" font-size="6.0" fill="#ec9040" text-anchor="end">PostCAR</text>
<path d="M591.7,79.96 H590.3000000000001 V87.06 H591.7" fill="none" stroke="#ec9040" stroke-width="0.5"/>
<text x="586.8000000000001" y="100.45" font-size="6.0" fill="#e4692c" text-anchor="end">Tumor</text>
<path d="M591.7,95.10 H590.3000000000001 V102.20 H591.7" fill="none" stroke="#e4692c" stroke-width="0.5"/>
<text transform="translate(556.4,38.3) rotate(-90)" font-size="7.8" fill="#1a1a1a" text-anchor="middle">Naive</text>
<text transform="translate(556.4,83.2) rotate(-90)" font-size="7.8" fill="#1a1a1a" text-anchor="middle">Memory</text>
<rect x="597.45" y="12.8" width="0.8" height="1.9" fill="#222"/>
<rect x="598.85" y="12.8" width="0.8" height="1.9" fill="#222"/>
<rect x="606.15" y="12.8" width="0.8" height="1.9" fill="#222"/>
<rect x="610.95" y="12.8" width="0.8" height="1.9" fill="#222"/>
<rect x="620.45" y="12.8" width="0.8" height="1.9" fill="#222"/>
<rect x="621.85" y="12.8" width="0.8" height="1.9" fill="#222"/>
<rect x="622.85" y="12.8" width="0.8" height="1.9" fill="#222"/>
<rect x="633.55" y="12.8" width="0.8" height="1.9" fill="#222"/>
<rect x="635.05" y="12.8" width="0.8" height="1.9" fill="#222"/>
<rect x="636.75" y="12.8" width="0.8" height="1.9" fill="#222"/>
<rect x="638.65" y="12.8" width="0.8" height="1.9" fill="#222"/>
<rect x="655.15" y="12.8" width="0.8" height="1.9" fill="#222"/>
<rect x="656.65" y="12.8" width="0.8" height="1.9" fill="#222"/>
<rect x="657.85" y="12.8" width="0.8" height="1.9" fill="#222"/>
<rect x="662.75" y="12.8" width="0.8" height="1.9" fill="#222"/>
<rect x="667.15" y="12.8" width="0.8" height="1.9" fill="#222"/>
<g opacity="1.0">
<line x1="584.5" y1="7.3" x2="636.0" y2="7.3" stroke="#2b2bb0" stroke-width="0.6"/>
<rect x="593.6" y="6.0" width="1.0" height="2.6" fill="#2b2bb0"/>
<rect x="595.4" y="6.0" width="1.0" height="2.6" fill="#2b2bb0"/>
<rect x="597.6" y="6.0" width="0.7999999999999545" height="2.6" fill="#2b2bb0"/>
<path d="M588.50,6.3999999999999995 L589.40,7.3 L588.50,8.2" fill="none" stroke="#2b2bb0" stroke-width="0.4"/>
<path d="M593.41,6.3999999999999995 L594.31,7.3 L593.41,8.2" fill="none" stroke="#2b2bb0" stroke-width="0.4"/>
<path d="M598.31,6.3999999999999995 L599.21,7.3 L598.31,8.2" fill="none" stroke="#2b2bb0" stroke-width="0.4"/>
<path d="M603.22,6.3999999999999995 L604.12,7.3 L603.22,8.2" fill="none" stroke="#2b2bb0" stroke-width="0.4"/>
<path d="M608.12,6.3999999999999995 L609.02,7.3 L608.12,8.2" fill="none" stroke="#2b2bb0" stroke-width="0.4"/>
<path d="M613.03,6.3999999999999995 L613.93,7.3 L613.03,8.2" fill="none" stroke="#2b2bb0" stroke-width="0.4"/>
<path d="M617.93,6.3999999999999995 L618.83,7.3 L617.93,8.2" fill="none" stroke="#2b2bb0" stroke-width="0.4"/>
<path d="M622.84,6.3999999999999995 L623.74,7.3 L622.84,8.2" fill="none" stroke="#2b2bb0" stroke-width="0.4"/>
<path d="M627.74,6.3999999999999995 L628.64,7.3 L627.74,8.2" fill="none" stroke="#2b2bb0" stroke-width="0.4"/>
<path d="M632.65,6.3999999999999995 L633.55,7.3 L632.65,8.2" fill="none" stroke="#2b2bb0" stroke-width="0.4"/>
<polygon points="634.4,5.9 636.4,7.3 634.4,8.7" fill="#2b2bb0"/>
</g>
<text x="637.6" y="8.9" font-size="4.6" font-style="italic" fill="#444" font-family="Liberation Serif, serif">Tcf7</text>
<rect x="453.4" y="121.4" width="78.30000000000007" height="90.12" fill="#fff"/>
<path d="M453.8,127.60L453.80,127.60L472.30,127.59L472.55,127.52L472.80,127.17L473.05,126.45L473.30,126L473.55,126.45L473.80,127.17L474.05,127.52L474.30,127.59L475.55,127.59L475.80,127.56L476.05,127.39L476.30,127.11L476.55,127.01L476.80,127.23L477.05,127.48L477.30,127.58L519.80,127.57L520.05,127.39L520.30,126.74L520.55,125.82L520.80,125.70L521.05,126.55L521.30,127.30L521.55,127.56L521.80,127.60L526.30,127.59L526.55,127.52L526.80,127.20L527.05,126.52L527.30,126.10L527.55,126.52L527.80,127.20L528.05,127.52L528.30,127.59L531.30,127.60L531.3,127.60Z" fill="#4cabaa"/>
<line x1="453.4" y1="127.60" x2="531.7" y2="127.60" stroke="#4cabaa" stroke-width="0.75"/>
<path d="M453.8,135.22L453.80,135.22L472.55,135.19L472.80,135.06L473.05,134.79L473.30,134.62L473.55,134.79L473.80,135.06L474.05,135.19L519.80,135.19L520.05,135.01L520.30,134.36L520.55,133.44L520.80,133.32L521.05,134.17L521.30,134.92L521.55,135.18L521.80,135.22L526.30,135.21L526.55,135.16L526.80,134.93L527.05,134.43L527.30,134.12L527.55,134.43L527.80,134.93L528.05,135.16L528.30,135.21L531.30,135.22L531.3,135.22Z" fill="#4cabaa"/>
<line x1="453.4" y1="135.22" x2="531.7" y2="135.22" stroke="#4cabaa" stroke-width="0.75"/>
<path d="M453.8,142.84L453.80,142.84L458.05,142.82L458.30,142.69L458.55,142.15L458.80,141.22L459.05,140.87L459.30,141.60L459.55,142.44L459.80,142.77L460.05,142.83L472.30,142.81L472.55,142.58L472.80,141.51L473.05,139.25L473.30,137.84L473.55,139.25L473.80,141.51L474.05,142.58L474.30,142.81L475.55,142.82L475.80,142.69L476.05,142.15L476.30,141.22L476.55,140.87L476.80,141.60L477.05,142.44L477.30,142.77L477.55,142.83L507.30,142.84L507.55,142.80L507.80,142.63L508.05,142.27L508.30,142.04L508.55,142.27L508.80,142.63L509.05,142.80L509.30,142.84L511.80,142.81L512.05,142.68L512.30,142.34L512.55,142.05L512.80,142.19L513.05,142.57L513.30,142.78L513.55,142.83L519.55,142.84L519.80,142.80L520.05,142.56L520.30,141.72L520.55,140.53L520.80,140.37L521.05,141.48L521.30,142.45L521.55,142.78L521.80,142.84L526.30,142.83L526.55,142.71L526.80,142.15L527.05,140.97L527.30,140.24L527.55,140.97L527.80,142.15L528.05,142.71L528.30,142.83L531.30,142.84L531.3,142.84Z" fill="#2a8a8b"/>
<line x1="453.4" y1="142.84" x2="531.7" y2="142.84" stroke="#2a8a8b" stroke-width="0.75"/>
<path d="M453.8,150.46L453.80,150.46L458.05,150.43L458.30,150.24L458.55,149.43L458.80,148.03L459.05,147.50L459.30,148.60L459.55,149.85L459.80,150.36L460.05,150.45L472.30,150.43L472.55,150.19L472.80,149.07L473.05,146.72L473.30,145.26L473.55,146.72L473.80,149.07L474.05,150.19L474.30,150.43L475.55,150.44L475.80,150.30L476.05,149.71L476.30,148.68L476.55,148.29L476.80,149.09L477.05,150.02L477.30,150.39L477.55,150.45L507.30,150.46L507.55,150.42L507.80,150.25L508.05,149.89L508.30,149.66L508.55,149.89L508.80,150.25L509.05,150.42L509.30,150.46L511.80,150.44L512.05,150.34L512.30,150.09L512.55,149.87L512.80,149.97L513.05,150.25L513.30,150.42L513.55,150.45L519.55,150.46L519.80,150.42L520.05,150.18L520.30,149.34L520.55,148.15L520.80,147.99L521.05,149.10L521.30,150.07L521.55,150.40L521.80,150.46L526.30,150.45L526.55,150.33L526.80,149.77L527.05,148.59L527.30,147.86L527.55,148.59L527.80,149.77L528.05,150.33L528.30,150.45L531.30,150.46L531.3,150.46Z" fill="#2a8a8b"/>
<line x1="453.4" y1="150.46" x2="531.7" y2="150.46" stroke="#2a8a8b" stroke-width="0.75"/>
<path d="M453.8,158.08L453.80,158.08L457.55,158.07L457.80,158.03L458.05,157.79L458.30,156.95L458.55,155.19L458.80,153.17L459.05,152.53L459.30,153.91L459.55,155.99L459.80,157.39L460.05,157.93L460.30,158.06L472.30,158.07L472.55,157.91L472.80,156.83L473.05,153.92L473.30,151.88L473.55,153.92L473.80,156.83L474.05,157.91L474.30,158.07L475.55,158.05L475.80,157.86L476.05,157.05L476.30,155.65L476.55,155.12L476.80,156.22L477.05,157.47L477.30,157.98L477.55,158.07L478.05,158.06L478.30,157.93L478.55,157.39L478.80,156.46L479.05,156.11L479.30,156.84L479.55,157.68L479.80,158.01L480.05,158.07L480.80,158.08L481.05,157.78L481.30,157.78L481.55,157.31L481.80,157.31L482.05,157.91L482.30,157.91L482.55,157.32L482.80,157.32L483.05,157.68L483.30,157.68L483.55,157.90L483.80,157.90L484.05,157.72L484.30,157.72L484.55,157.98L484.80,157.98L485.05,157.51L485.30,157.51L485.55,157.87L485.80,157.87L486.05,157.36L486.30,157.36L486.55,157.61L486.80,157.61L487.05,157.79L487.30,157.79L487.55,157.88L487.80,157.88L488.05,157.59L488.30,157.59L488.55,157.91L488.80,157.91L489.05,157.38L489.30,157.38L489.55,157.98L489.80,157.98L490.05,157.67L490.80,157.65L491.05,157.86L491.30,157.86L491.55,157.46L491.80,157.46L492.05,158.08L511.55,158.07L511.80,158.01L512.05,157.68L512.30,156.84L512.55,156.11L512.80,156.46L513.05,157.39L513.30,157.93L513.55,158.06L519.55,158.08L519.80,158.04L520.05,157.74L520.30,156.71L520.55,155.24L520.80,155.04L521.05,156.41L521.30,157.60L521.55,158.01L521.80,158.07L523.05,158.07L523.30,158.01L523.55,157.74L523.80,157.27L524.05,157.09L524.30,157.46L524.55,157.88L524.80,158.05L525.05,158.08L526.30,158.06L526.55,157.92L526.80,157.23L527.05,155.78L527.30,154.88L527.55,155.78L527.80,157.23L528.05,157.92L528.30,158.06L531.30,158.08L531.3,158.08Z" fill="#1b6061"/>
<line x1="453.4" y1="158.08" x2="531.7" y2="158.08" stroke="#1b6061" stroke-width="0.75"/>
<path d="M453.8,165.70L453.80,165.70L457.55,165.69L457.80,165.64L458.05,165.37L458.30,164.45L458.55,162.50L458.80,160.26L459.05,159.55L459.30,161.08L459.55,163.39L459.80,164.93L460.05,165.53L460.30,165.68L472.30,165.69L472.55,165.53L472.80,164.45L473.05,161.54L473.30,159.50L473.55,161.54L473.80,164.45L474.05,165.53L474.30,165.69L475.55,165.67L475.80,165.48L476.05,164.67L476.30,163.27L476.55,162.74L476.80,163.84L477.05,165.09L477.30,165.60L477.55,165.69L478.05,165.68L478.30,165.55L478.55,165.01L478.80,164.08L479.05,163.73L479.30,164.46L479.55,165.30L479.80,165.63L480.05,165.69L480.80,165.70L481.05,165.54L481.30,165.54L481.55,165.37L481.80,165.37L482.05,165.65L482.30,165.65L482.55,165.42L482.80,165.42L483.05,165.52L483.30,165.52L483.55,165.45L483.80,165.45L484.05,165.55L484.30,165.55L484.55,165.67L484.80,165.67L485.05,165.54L485.30,165.54L485.55,165.59L485.80,165.59L486.05,165.64L486.30,165.64L486.55,165.34L486.80,165.34L487.05,165.56L487.30,165.56L487.55,165.50L487.80,165.50L488.05,165.70L511.55,165.69L511.80,165.63L512.05,165.30L512.30,164.46L512.55,163.73L512.80,164.08L513.05,165.01L513.30,165.55L513.55,165.68L519.55,165.70L519.80,165.66L520.05,165.36L520.30,164.33L520.55,162.86L520.80,162.66L521.05,164.03L521.30,165.22L521.55,165.63L521.80,165.69L523.05,165.69L523.30,165.66L523.55,165.49L523.80,165.21L524.05,165.11L524.30,165.33L524.55,165.58L524.80,165.68L526.30,165.68L526.55,165.52L526.80,164.74L527.05,163.11L527.30,162.10L527.55,163.11L527.80,164.74L528.05,165.52L528.30,165.68L531.30,165.70L531.3,165.70Z" fill="#1b6061"/>
<path d="M453.8,173.32L453.80,173.32L457.80,173.31L458.05,173.23L458.30,172.73L458.55,171.21L458.80,168.97L459.05,168.18L459.30,169.83L459.55,171.96L459.80,173.02L460.05,173.28L460.30,173.32L472.30,173.29L472.55,173.05L472.80,171.93L473.05,169.58L473.30,168.12L473.55,169.58L473.80,171.93L474.05,173.05L474.30,173.29L475.55,173.31L475.80,173.20L476.05,172.77L476.30,172.03L476.55,171.74L476.80,172.33L477.05,173L477.30,173.27L477.55,173.32L507.30,173.31L507.55,173.27L507.80,173.05L508.05,172.60L508.30,172.32L508.55,172.60L508.80,173.05L509.05,173.27L509.30,173.31L511.55,173.32L511.80,173.23L512.05,172.57L512.30,170.40L512.55,168.20L512.80,169.29L513.05,171.90L513.30,173.09L513.55,173.30L519.55,173.32L519.80,173.28L520.05,173L520.30,172.03L520.55,170.66L520.80,170.47L521.05,171.75L521.30,172.87L521.55,173.25L521.80,173.32L526.30,173.31L526.55,173.22L526.80,172.79L527.05,171.88L527.30,171.32L527.55,171.88L527.80,172.79L528.05,173.22L528.30,173.31L531.30,173.32L531.3,173.32Z" fill="#f0ab42"/>
<line x1="453.4" y1="173.32" x2="531.7" y2="173.32" stroke="#f0ab42" stroke-width="0.75"/>
<path d="M453.8,180.94L453.80,180.94L457.80,180.93L458.05,180.85L458.30,180.35L458.55,178.83L458.80,176.59L459.05,175.80L459.30,177.45L459.55,179.58L459.80,180.64L460.05,180.90L460.30,180.94L472.30,180.91L472.55,180.67L472.80,179.55L473.05,177.20L473.30,175.74L473.55,177.20L473.80,179.55L474.05,180.67L474.30,180.91L475.55,180.92L475.80,180.79L476.05,180.25L476.30,179.32L476.55,178.97L476.80,179.70L477.05,180.54L477.30,180.87L477.55,180.93L511.55,180.94L511.80,180.85L512.05,180.19L512.30,178.02L512.55,175.82L512.80,176.91L513.05,179.52L513.30,180.71L513.55,180.92L519.55,180.94L519.80,180.89L520.05,180.55L520.30,179.40L520.55,177.74L520.80,177.53L521.05,179.06L521.30,180.40L521.55,180.86L521.80,180.93L526.30,180.93L526.55,180.84L526.80,180.41L527.05,179.50L527.30,178.94L527.55,179.50L527.80,180.41L528.05,180.84L528.30,180.93L531.30,180.94L531.3,180.94Z" fill="#f0ab42"/>
<line x1="453.4" y1="180.94" x2="531.7" y2="180.94" stroke="#f0ab42" stroke-width="0.75"/>
<path d="M453.8,188.56L453.80,188.56L457.80,188.55L458.05,188.46L458.30,187.93L458.55,186.28L458.80,183.87L459.05,183.02L459.30,184.81L459.55,187.10L459.80,188.23L460.05,188.52L460.30,188.56L472.30,188.53L472.55,188.27L472.80,187.07L473.05,184.54L473.30,182.96L473.55,184.54L473.80,187.07L474.05,188.27L474.30,188.53L475.55,188.53L475.80,188.29L476.05,187.33L476.30,185.65L476.55,185.01L476.80,186.32L477.05,187.83L477.30,188.44L477.55,188.55L519.55,188.56L519.80,188.52L520.05,188.24L520.30,187.27L520.55,185.90L520.80,185.71L521.05,186.99L521.30,188.11L521.55,188.49L521.80,188.56L526.30,188.55L526.55,188.46L526.80,188.03L527.05,187.12L527.30,186.56L527.55,187.12L527.80,188.03L528.05,188.46L528.30,188.55L531.30,188.56L531.3,188.56Z" fill="#ea8b39"/>
<line x1="453.4" y1="188.56" x2="531.7" y2="188.56" stroke="#ea8b39" stroke-width="0.75"/>
<path d="M453.8,196.18L453.80,196.18L457.80,196.17L458.05,196.08L458.30,195.55L458.55,193.90L458.80,191.49L459.05,190.64L459.30,192.43L459.55,194.72L459.80,195.85L460.05,196.14L460.30,196.18L472.30,196.15L472.55,195.89L472.80,194.69L473.05,192.16L473.30,190.58L473.55,192.16L473.80,194.69L474.05,195.89L474.30,196.15L475.55,196.15L475.80,195.91L476.05,194.95L476.30,193.27L476.55,192.63L476.80,193.94L477.05,195.45L477.30,196.06L477.55,196.17L507.30,196.18L507.55,196.14L507.80,195.99L508.05,195.68L508.30,195.48L508.55,195.68L508.80,195.99L509.05,196.14L509.30,196.18L511.80,196.16L512.05,196.04L512.30,195.75L512.55,195.49L512.80,195.61L513.05,195.94L513.30,196.13L513.55,196.17L519.55,196.18L519.80,196.14L520.05,195.86L520.30,194.89L520.55,193.52L520.80,193.33L521.05,194.61L521.30,195.73L521.55,196.11L521.80,196.18L526.30,196.17L526.55,196.08L526.80,195.65L527.05,194.74L527.30,194.18L527.55,194.74L527.80,195.65L528.05,196.08L528.30,196.17L531.30,196.18L531.3,196.18Z" fill="#ea8b39"/>
<line x1="453.4" y1="196.18" x2="531.7" y2="196.18" stroke="#ea8b39" stroke-width="0.75"/>
<path d="M453.8,203.80L453.80,203.80L457.80,203.79L458.05,203.70L458.30,203.17L458.55,201.52L458.80,199.11L459.05,198.26L459.30,200.05L459.55,202.34L459.80,203.47L460.05,203.76L460.30,203.80L472.30,203.79L472.55,203.63L472.80,202.55L473.05,199.64L473.30,197.60L473.55,199.64L473.80,202.55L474.05,203.63L474.30,203.79L475.30,203.80L475.55,203.77L475.80,203.50L476.05,202.43L476.30,200.56L476.55,199.85L476.80,201.32L477.05,202.99L477.30,203.66L477.55,203.79L478.05,203.77L478.30,203.58L478.55,202.77L478.80,201.37L479.05,200.84L479.30,201.94L479.55,203.19L479.80,203.70L480.05,203.79L480.80,203.80L481.05,203.17L481.30,203.17L481.55,203.62L481.80,203.62L482.05,203.68L482.30,203.68L482.55,202.89L482.80,202.89L483.05,203.07L483.80,203.09L484.05,203.76L484.80,203.76L485.05,203.64L485.30,203.64L485.55,203.60L485.80,203.60L486.05,203.50L486.30,203.50L486.55,203.42L486.80,203.42L487.05,203.76L487.30,203.76L487.55,203.49L487.80,203.49L488.05,203.16L488.30,203.16L488.55,203.62L488.80,203.62L489.05,202.96L489.30,202.96L489.55,203.23L489.80,203.23L490.05,203.08L490.30,203.08L490.55,203.55L490.80,203.55L491.05,203.37L491.30,203.37L491.55,203.12L491.80,203.12L492.05,203.45L492.30,203.45L492.55,203.80L519.55,203.80L519.80,203.75L520.05,203.41L520.30,202.26L520.55,200.60L520.80,200.39L521.05,201.92L521.30,203.26L521.55,203.72L521.80,203.79L523.05,203.79L523.30,203.73L523.55,203.46L523.80,202.99L524.05,202.81L524.30,203.18L524.55,203.60L524.80,203.77L525.05,203.80L526.30,203.78L526.55,203.62L526.80,202.84L527.05,201.21L527.30,200.20L527.55,201.21L527.80,202.84L528.05,203.62L528.30,203.78L531.30,203.80L531.3,203.80Z" fill="#e1632a"/>
<line x1="453.4" y1="203.80" x2="531.7" y2="203.80" stroke="#e1632a" stroke-width="0.75"/>
<path d="M453.8,211.42L453.80,211.42L457.80,211.41L458.05,211.32L458.30,210.79L458.55,209.14L458.80,206.73L459.05,205.88L459.30,207.67L459.55,209.96L459.80,211.09L460.05,211.38L460.30,211.42L472.30,211.41L472.55,211.25L472.80,210.17L473.05,207.26L473.30,205.22L473.55,207.26L473.80,210.17L474.05,211.25L474.30,211.41L475.30,211.42L475.55,211.39L475.80,211.12L476.05,210.05L476.30,208.18L476.55,207.47L476.80,208.94L477.05,210.61L477.30,211.28L477.55,211.41L478.05,211.39L478.30,211.20L478.55,210.39L478.80,208.99L479.05,208.46L479.30,209.56L479.55,210.81L479.80,211.32L480.05,211.41L481.30,211.40L481.55,211.30L481.80,211.30L482.05,211.36L482.30,211.36L482.55,211.02L482.80,211.02L483.05,211.31L483.30,211.31L483.55,210.96L483.80,210.96L484.05,211.05L484.30,211.05L484.55,211.38L484.80,211.38L485.05,211.07L485.30,211.07L485.55,211.22L485.80,211.22L486.05,211.42L519.55,211.42L519.80,211.36L520.05,210.99L520.30,209.70L520.55,207.87L520.80,207.63L521.05,209.33L521.30,210.82L521.55,211.33L521.80,211.41L526.30,211.40L526.55,211.22L526.80,210.35L527.05,208.55L527.30,207.42L527.55,208.55L527.80,210.35L528.05,211.22L528.30,211.40L531.30,211.42L531.3,211.42Z" fill="#e1632a"/>
<rect x="453.4" y="121.4" width="78.30000000000007" height="90.12" fill="none" stroke="#4d4d4d" stroke-width="0.8"/>
<line x1="409.2" y1="165.70" x2="531.7" y2="165.70" stroke="#222" stroke-width="0.8"/>
<text x="447.59999999999997" y="129.75" font-size="6.0" fill="#7cc0bc" text-anchor="end">PreCAR</text>
<path d="M452.5,124.40 H451.09999999999997 V131.50 H452.5" fill="none" stroke="#7cc0bc" stroke-width="0.5"/>
<text x="447.59999999999997" y="144.99" font-size="6.0" fill="#2e8a8c" text-anchor="end">PostCAR</text>
<path d="M452.5,139.64 H451.09999999999997 V146.74 H452.5" fill="none" stroke="#2e8a8c" stroke-width="0.5"/>
<text x="447.59999999999997" y="160.23" font-size="6.0" fill="#1f6665" text-anchor="end">Tumor</text>
<path d="M452.5,154.88 H451.09999999999997 V161.98 H452.5" fill="none" stroke="#1f6665" stroke-width="0.5"/>
<text x="447.59999999999997" y="175.47" font-size="6.0" fill="#f2b85c" text-anchor="end">PreCAR</text>
<path d="M452.5,170.12 H451.09999999999997 V177.22 H452.5" fill="none" stroke="#f2b85c" stroke-width="0.5"/>
<text x="447.59999999999997" y="190.71" font-size="6.0" fill="#ec9040" text-anchor="end">PostCAR</text>
<path d="M452.5,185.36 H451.09999999999997 V192.46 H452.5" fill="none" stroke="#ec9040" stroke-width="0.5"/>
<text x="447.59999999999997" y="205.95" font-size="6.0" fill="#e4692c" text-anchor="end">Tumor</text>
<path d="M452.5,200.60 H451.09999999999997 V207.70 H452.5" fill="none" stroke="#e4692c" stroke-width="0.5"/>
<text transform="translate(417.2,143.6) rotate(-90)" font-size="7.8" fill="#1a1a1a" text-anchor="middle">Naive</text>
<text transform="translate(417.2,188.6) rotate(-90)" font-size="7.8" fill="#1a1a1a" text-anchor="middle">Memory</text>
<rect x="458.65" y="118.0" width="0.8" height="1.9" fill="#222"/>
<rect x="472.95" y="118.0" width="0.8" height="1.9" fill="#222"/>
<rect x="476.15" y="118.0" width="0.8" height="1.9" fill="#222"/>
<rect x="478.65" y="118.0" width="0.8" height="1.9" fill="#222"/>
<rect x="507.95" y="118.0" width="0.8" height="1.9" fill="#222"/>
<rect x="512.25" y="118.0" width="0.8" height="1.9" fill="#222"/>
<rect x="520.35" y="118.0" width="0.8" height="1.9" fill="#222"/>
<rect x="526.95" y="118.0" width="0.8" height="1.9" fill="#222"/>
<text x="464.6" y="113.2" font-size="4.6" font-style="italic" fill="#444" font-family="Liberation Serif, serif">Ifng</text>
<g opacity="1.0">
<line x1="473.6" y1="112.7" x2="485.6" y2="112.7" stroke="#2b2bb0" stroke-width="0.6"/>
<rect x="475.8" y="111.4" width="1.1999999999999886" height="2.6" fill="#2b2bb0"/>
<rect x="479.2" y="111.4" width="0.8000000000000114" height="2.6" fill="#2b2bb0"/>
<rect x="484.0" y="111.4" width="1.6000000000000227" height="2.6" fill="#2b2bb0"/>
<path d="M477.50,111.8 L478.40,112.7 L477.50,113.60000000000001" fill="none" stroke="#2b2bb0" stroke-width="0.4"/>
<path d="M482.30,111.8 L483.20,112.7 L482.30,113.60000000000001" fill="none" stroke="#2b2bb0" stroke-width="0.4"/>
<polygon points="484.0,111.3 486.0,112.7 484.0,114.10000000000001" fill="#2b2bb0"/>
</g>
<text x="0" y="114.3" font-size="4.6" font-style="italic" fill="#444" font-family="Liberation Serif, serif"></text>
<text x="454.4" y="116.9" font-size="4.6" fill="#333">–5 kb</text>
<rect x="592.6" y="121.4" width="77.79999999999995" height="90.12" fill="#fff"/>
<path d="M593.0,127.60L593,127.60L615.75,127.60L616,127.55L616.25,127.28L616.50,126.61L616.75,126.02L617,126.31L617.25,127.05L617.50,127.48L617.75,127.59L667.25,127.58L667.50,127.45L667.75,126.91L668,125.98L668.25,125.63L668.50,126.36L668.75,127.20L669,127.53L669.25,127.59L670,127.60L670.0,127.60Z" fill="#4cabaa"/>
<line x1="592.6" y1="127.60" x2="670.4" y2="127.60" stroke="#4cabaa" stroke-width="0.75"/>
<path d="M593.0,135.22L593,135.22L615.75,135.22L616,135.17L616.25,134.90L616.50,134.23L616.75,133.64L617,133.93L617.25,134.67L617.50,135.10L617.75,135.21L667.25,135.20L667.50,135.07L667.75,134.53L668,133.60L668.25,133.25L668.50,133.98L668.75,134.82L669,135.15L669.25,135.21L670,135.22L670.0,135.22Z" fill="#4cabaa"/>
<line x1="592.6" y1="135.22" x2="670.4" y2="135.22" stroke="#4cabaa" stroke-width="0.75"/>
<path d="M593.0,142.84L593,142.84L593.75,142.81L594,142.71L594.25,142.48L594.50,142.34L594.75,142.48L595,142.71L595.25,142.81L608.25,142.82L608.50,142.69L608.75,142.32L609,141.89L609.25,141.95L609.50,142.41L609.75,142.73L610,142.83L615.75,142.83L616,142.77L616.25,142.44L616.50,141.60L616.75,140.87L617,141.22L617.25,142.15L617.50,142.69L617.75,142.82L618.25,142.84L618.50,142.81L618.75,142.64L619,142.22L619.25,141.85L619.50,142.03L619.75,142.50L620,142.77L620.25,142.83L623,142.83L623.25,142.76L623.50,142.44L623.75,141.76L624,141.34L624.25,141.76L624.50,142.44L624.75,142.76L625,142.83L667.25,142.81L667.50,142.62L667.75,141.81L668,140.41L668.25,139.88L668.50,140.98L668.75,142.23L669,142.74L669.25,142.83L670,142.84L670.0,142.84Z" fill="#2a8a8b"/>
<line x1="592.6" y1="142.84" x2="670.4" y2="142.84" stroke="#2a8a8b" stroke-width="0.75"/>
<path d="M593.0,150.46L593,150.46L608.25,150.44L608.50,150.31L608.75,149.94L609,149.51L609.25,149.57L609.50,150.03L609.75,150.35L610,150.45L615.75,150.45L616,150.37L616.25,149.94L616.50,148.84L616.75,147.89L617,148.36L617.25,149.57L617.50,150.27L617.75,150.44L618.25,150.46L618.50,150.41L618.75,150.16L619,149.53L619.25,148.98L619.50,149.25L619.75,149.95L620,150.35L620.25,150.45L623,150.45L623.25,150.41L623.50,150.19L623.75,149.74L624,149.46L624.25,149.74L624.50,150.19L624.75,150.41L625,150.45L667.25,150.43L667.50,150.24L667.75,149.43L668,148.03L668.25,147.50L668.50,148.60L668.75,149.85L669,150.36L669.25,150.45L670,150.46L670.0,150.46Z" fill="#2a8a8b"/>
<line x1="592.6" y1="150.46" x2="670.4" y2="150.46" stroke="#2a8a8b" stroke-width="0.75"/>
<path d="M593.0,158.08L593,158.08L597.25,158.06L597.50,157.98L597.75,157.71L598,157.42L598.25,157.46L598.50,157.78L598.75,158.01L599,158.07L608,158.08L608.25,158.04L608.50,157.78L608.75,157.03L609,156.18L609.25,156.30L609.50,157.22L609.75,157.87L610,158.05L614.75,158.06L615,157.93L615.25,157.39L615.50,156.46L615.75,156.11L616,156.84L616.25,157.47L616.50,156.22L616.75,155.12L617,155.65L617.25,157.05L617.50,157.86L617.75,158.05L618.25,158.07L618.50,157.91L618.75,157.07L619,154.97L619.25,153.15L619.50,154.03L619.75,156.37L620,157.71L620.25,158.04L620.50,158.07L620.75,157.98L621,157.55L621.25,156.64L621.50,156.08L621.75,156.64L622,157.55L622.25,157.98L622.50,158.07L623,158.07L623.25,157.95L623.50,157.39L623.75,156.21L624,155.48L624.25,156.21L624.50,157.39L624.75,157.95L625,158.07L659,158.06L659.25,158.01L659.50,157.87L659.75,157.66L660,157.45L660.25,157.38L660.50,157.52L660.75,157.75L661,157.94L661.25,158.04L661.50,158.07L667.25,158.05L667.50,157.86L667.75,157.05L668,155.65L668.25,155.12L668.50,156.22L668.75,157.47L669,157.98L669.25,158.07L670,158.08L670.0,158.08Z" fill="#1b6061"/>
<line x1="592.6" y1="158.08" x2="670.4" y2="158.08" stroke="#1b6061" stroke-width="0.75"/>
<path d="M593.0,165.70L593,165.70L608,165.70L608.25,165.67L608.50,165.48L608.75,164.92L609,164.28L609.25,164.37L609.50,165.06L609.75,165.54L610,165.68L614.75,165.68L615,165.55L615.25,165.01L615.50,164.08L615.75,163.73L616,164.46L616.25,164.97L616.50,163.46L616.75,162.15L617,162.79L617.25,164.47L617.50,165.43L617.75,165.67L618.25,165.69L618.50,165.53L618.75,164.69L619,162.59L619.25,160.77L619.50,161.65L619.75,163.99L620,165.33L620.25,165.66L620.50,165.69L620.75,165.57L621,165.01L621.25,163.83L621.50,163.10L621.75,163.83L622,165.01L622.25,165.57L622.50,165.69L623,165.69L623.25,165.57L623.50,165.01L623.75,163.83L624,163.10L624.25,163.83L624.50,165.01L624.75,165.57L625,165.69L659,165.68L659.25,165.63L659.50,165.49L659.75,165.28L660,165.07L660.25,165L660.50,165.14L660.75,165.37L661,165.56L661.25,165.66L661.50,165.69L667.25,165.67L667.50,165.48L667.75,164.67L668,163.27L668.25,162.74L668.50,163.84L668.75,165.09L669,165.60L669.25,165.69L670,165.70L670.0,165.70Z" fill="#1b6061"/>
<path d="M593.0,173.32L593,173.32L593.50,173.31L593.75,173.22L594,172.79L594.25,171.88L594.50,171.32L594.75,171.88L595,172.79L595.25,173.22L595.50,173.31L595.75,173.22L596,172.79L596.25,171.88L596.50,171.32L596.75,171.88L597,172.79L597.25,173.22L597.50,172.78L597.75,171.44L598,169.91L598.25,170.12L598.50,171.78L598.75,172.93L599,173.27L599.25,173.32L605.25,173.31L605.50,173.25L605.75,172.98L606,172.51L606.25,172.33L606.50,172.70L606.75,173.12L607,173.29L607.25,173.32L608,173.31L608.25,173.22L608.50,172.63L608.75,170.91L609,168.96L609.25,169.24L609.50,171.35L609.75,172.83L610,173.26L610.25,173.32L614.75,173.30L615,173.17L615.25,172.63L615.50,171.70L615.75,171.35L616,172.08L616.25,172.51L616.50,170.84L616.75,169.37L617,170.08L617.25,171.95L617.50,173.02L617.75,173.29L618,173.32L618.25,173.31L618.50,173.25L618.75,172.92L619,172.08L619.25,171.35L619.50,171.70L619.75,172.63L620,173.17L620.25,173.30L620.50,173.31L620.75,173.22L621,172.79L621.25,171.88L621.50,171.32L621.75,171.88L622,172.79L622.25,173.22L622.50,173.31L623,173.30L623.25,173.14L623.50,172.36L623.75,170.73L624,169.72L624.25,170.73L624.50,172.36L624.75,173.14L625,173.30L659,173.31L659.25,173.24L659.50,173.02L659.75,172.55L660,172L660.25,171.83L660.50,172.20L660.75,172.76L661,173.13L661.25,173.28L661.50,173.31L667.25,173.30L667.50,173.17L667.75,172.63L668,171.70L668.25,171.35L668.50,172.08L668.75,172.92L669,173.25L669.25,173.31L670,173.32L670.0,173.32Z" fill="#f0ab42"/>
<line x1="592.6" y1="173.32" x2="670.4" y2="173.32" stroke="#f0ab42" stroke-width="0.75"/>
<path d="M593.0,180.94L593,180.94L593.50,180.93L593.75,180.84L594,180.41L594.25,179.50L594.50,178.94L594.75,179.50L595,180.41L595.25,180.84L595.50,180.93L597,180.93L597.25,180.85L597.50,180.34L597.75,178.85L598,177.15L598.25,177.39L598.50,179.22L598.75,180.51L599,180.88L599.25,180.94L605.25,180.93L605.50,180.83L605.75,180.43L606,179.73L606.25,179.46L606.50,180.01L606.75,180.64L607,180.89L607.25,180.94L608,180.93L608.25,180.85L608.50,180.34L608.75,178.85L609,177.15L609.25,177.39L609.50,179.22L609.75,180.51L610,180.88L610.25,180.94L614.75,180.92L615,180.75L615.25,180.05L615.50,178.84L615.75,178.37L616,179.32L616.25,180.13L616.50,178.46L616.75,176.99L617,177.70L617.25,179.57L617.50,180.64L617.75,180.91L618,180.94L618.25,180.93L618.50,180.87L618.75,180.54L619,179.70L619.25,178.97L619.50,179.32L619.75,180.25L620,180.79L620.25,180.92L620.50,180.93L620.75,180.84L621,180.41L621.25,179.50L621.50,178.94L621.75,179.50L622,180.41L622.25,180.84L622.50,180.93L623,180.92L623.25,180.76L623.50,179.98L623.75,178.35L624,177.34L624.25,178.35L624.50,179.98L624.75,180.76L625,180.92L659,180.92L659.25,180.83L659.50,180.54L659.75,179.91L660,179.18L660.25,178.96L660.50,179.45L660.75,180.20L661,180.69L661.25,180.89L661.50,180.93L667.25,180.92L667.50,180.79L667.75,180.25L668,179.32L668.25,178.97L668.50,179.70L668.75,180.54L669,180.87L669.25,180.93L670,180.94L670.0,180.94Z" fill="#f0ab42"/>
<line x1="592.6" y1="180.94" x2="670.4" y2="180.94" stroke="#f0ab42" stroke-width="0.75"/>
<path d="M593.0,188.56L593,188.56L593.50,188.55L593.75,188.46L594,188.03L594.25,187.12L594.50,186.56L594.75,187.12L595,188.03L595.25,188.46L595.50,188.55L595.75,188.46L596,188.03L596.25,187.12L596.50,186.56L596.75,187.12L597,188.03L597.25,188.46L597.50,188.02L597.75,186.68L598,185.15L598.25,185.36L598.50,187.02L598.75,188.17L599,188.51L599.25,188.56L608,188.56L608.25,188.51L608.50,188L608.75,186L609,183.31L609.25,183.71L609.50,186.55L609.75,188.19L610,188.53L610.25,188.56L614.75,188.54L615,188.41L615.25,187.87L615.50,186.94L615.75,186.59L616,187.32L616.25,187.75L616.50,186.08L616.75,184.61L617,185.32L617.25,187.19L617.50,188.26L617.75,188.53L618,188.56L618.25,188.55L618.50,188.49L618.75,188.16L619,187.32L619.25,186.59L619.50,186.94L619.75,187.87L620,188.41L620.25,188.54L623,188.54L623.25,188.38L623.50,187.60L623.75,185.97L624,184.96L624.25,185.97L624.50,187.60L624.75,188.38L625,188.54L659,188.55L659.25,188.52L659.50,188.42L659.75,188.20L660,187.95L660.25,187.87L660.50,188.04L660.75,188.30L661,188.47L661.25,188.54L667.25,188.55L667.50,188.45L667.75,188.05L668,187.35L668.25,187.08L668.50,187.63L668.75,188.26L669,188.51L669.25,188.56L670,188.56L670.0,188.56Z" fill="#ea8b39"/>
<line x1="592.6" y1="188.56" x2="670.4" y2="188.56" stroke="#ea8b39" stroke-width="0.75"/>
<path d="M593.0,196.18L593,196.18L593.50,196.17L593.75,196.10L594,195.78L594.25,195.10L594.50,194.68L594.75,195.10L595,195.78L595.25,196.10L595.50,196.17L597,196.18L597.25,196.11L597.50,195.73L597.75,194.61L598,193.33L598.25,193.52L598.50,194.89L598.75,195.86L599,196.14L599.25,196.18L608,196.18L608.25,196.13L608.50,195.68L608.75,193.90L609,191.49L609.25,191.85L609.50,194.38L609.75,195.85L610,196.15L615.75,196.17L616,196.04L616.25,195.37L616.50,193.70L616.75,192.23L617,192.94L617.25,194.81L617.50,195.88L617.75,196.15L618,196.18L618.25,196.17L618.50,196.11L618.75,195.78L619,194.94L619.25,194.21L619.50,194.56L619.75,195.49L620,196.03L620.25,196.16L623,196.16L623.25,196.03L623.50,195.38L623.75,194.02L624,193.18L624.25,194.02L624.50,195.38L624.75,196.03L625,196.16L659,196.17L659.25,196.14L659.50,196.04L659.75,195.82L660,195.57L660.25,195.49L660.50,195.66L660.75,195.92L661,196.09L661.25,196.16L667.25,196.17L667.50,196.07L667.75,195.67L668,194.97L668.25,194.70L668.50,195.25L668.75,195.88L669,196.13L669.25,196.18L670,196.18L670.0,196.18Z" fill="#ea8b39"/>
<line x1="592.6" y1="196.18" x2="670.4" y2="196.18" stroke="#ea8b39" stroke-width="0.75"/>
<path d="M593.0,203.80L593,203.80L593.50,203.79L593.75,203.72L594,203.40L594.25,202.72L594.50,202.30L594.75,202.72L595,203.40L595.25,203.72L595.50,203.79L596.25,203.79L596.50,203.71L596.75,203.28L597,202.13L597.25,200.72L597.50,200.55L597.75,201.83L598,203.11L598.25,202.91L598.50,201.52L598.75,200.44L599,200.95L599.25,202.42L599.50,203.41L599.75,203.74L600,203.79L605.25,203.79L605.50,203.73L605.75,203.46L606,202.99L606.25,202.81L606.50,203.18L606.75,203.60L607,203.77L607.25,203.80L608,203.79L608.25,203.72L608.50,203.26L608.75,201.92L609,200.39L609.25,200.60L609.50,202.26L609.75,203.41L610,203.75L610.25,203.80L614.75,203.77L615,203.58L615.25,202.77L615.50,201.37L615.75,200.84L616,201.94L616.25,202.99L616.50,201.32L616.75,199.85L617,200.56L617.25,202.43L617.50,203.50L617.75,203.77L618,203.80L618.25,203.79L618.50,203.64L618.75,202.87L619,200.94L619.25,199.26L619.50,200.08L619.75,202.22L620,203.46L620.25,203.76L620.50,203.78L620.75,203.65L621,203L621.25,201.64L621.50,200.80L621.75,201.64L622,203L622.25,203.65L622.50,203.78L623,203.78L623.25,203.62L623.50,202.84L623.75,201.21L624,200.20L624.25,201.21L624.50,202.84L624.75,203.62L625,203.78L658.50,203.79L658.75,203.76L659,203.65L659.25,203.36L659.50,202.81L659.75,202.06L660,201.40L660.25,201.21L660.50,201.62L660.75,202.37L661,203.07L661.25,203.51L661.50,203.71L661.75,203.78L667.25,203.77L667.50,203.58L667.75,202.77L668,201.37L668.25,200.84L668.50,201.94L668.75,203.19L669,203.70L669.25,203.79L670,203.80L670.0,203.80Z" fill="#e1632a"/>
<line x1="592.6" y1="203.80" x2="670.4" y2="203.80" stroke="#e1632a" stroke-width="0.75"/>
<path d="M593.0,211.42L593,211.42L593.50,211.41L593.75,211.37L594,211.15L594.25,210.70L594.50,210.42L594.75,210.70L595,211.15L595.25,211.37L595.50,211.41L597,211.40L597.25,211.27L597.50,210.69L597.75,209.33L598,207.98L598.25,208.16L598.50,209.65L598.75,210.87L599,211.32L599.25,211.41L608,211.41L608.25,211.34L608.50,210.88L608.75,209.54L609,208.01L609.25,208.22L609.50,209.88L609.75,211.03L610,211.37L610.25,211.42L614.75,211.40L615,211.27L615.25,210.73L615.50,209.80L615.75,209.45L616,210.18L616.25,210.69L616.50,209.18L616.75,207.87L617,208.51L617.25,210.19L617.50,211.15L617.75,211.39L618.25,211.41L618.50,211.26L618.75,210.49L619,208.56L619.25,206.88L619.50,207.70L619.75,209.84L620,211.08L620.25,211.38L620.50,211.41L620.75,211.29L621,210.73L621.25,209.55L621.50,208.82L621.75,209.55L622,210.73L622.25,211.29L622.50,211.41L623,211.40L623.25,211.24L623.50,210.46L623.75,208.83L624,207.82L624.25,208.83L624.50,210.46L624.75,211.24L625,211.40L658.75,211.41L659,211.37L659.25,211.21L659.50,210.83L659.75,210.21L660,209.61L660.25,209.43L660.50,209.82L660.75,210.48L661,211.02L661.25,211.29L661.50,211.39L667.25,211.40L667.50,211.23L667.75,210.53L668,209.32L668.25,208.85L668.50,209.80L668.75,210.90L669,211.33L669.25,211.41L670,211.42L670.0,211.42Z" fill="#e1632a"/>
<rect x="592.6" y="121.4" width="77.79999999999995" height="90.12" fill="none" stroke="#4d4d4d" stroke-width="0.8"/>
<line x1="548.4" y1="165.70" x2="670.4" y2="165.70" stroke="#222" stroke-width="0.8"/>
<text x="586.8000000000001" y="129.75" font-size="6.0" fill="#7cc0bc" text-anchor="end">PreCAR</text>
<path d="M591.7,124.40 H590.3000000000001 V131.50 H591.7" fill="none" stroke="#7cc0bc" stroke-width="0.5"/>
<text x="586.8000000000001" y="144.99" font-size="6.0" fill="#2e8a8c" text-anchor="end">PostCAR</text>
<path d="M591.7,139.64 H590.3000000000001 V146.74 H591.7" fill="none" stroke="#2e8a8c" stroke-width="0.5"/>
<text x="586.8000000000001" y="160.23" font-size="6.0" fill="#1f6665" text-anchor="end">Tumor</text>
<path d="M591.7,154.88 H590.3000000000001 V161.98 H591.7" fill="none" stroke="#1f6665" stroke-width="0.5"/>
<text x="586.8000000000001" y="175.47" font-size="6.0" fill="#f2b85c" text-anchor="end">PreCAR</text>
<path d="M591.7,170.12 H590.3000000000001 V177.22 H591.7" fill="none" stroke="#f2b85c" stroke-width="0.5"/>
<text x="586.8000000000001" y="190.71" font-size="6.0" fill="#ec9040" text-anchor="end">PostCAR</text>
<path d="M591.7,185.36 H590.3000000000001 V192.46 H591.7" fill="none" stroke="#ec9040" stroke-width="0.5"/>
<text x="586.8000000000001" y="205.95" font-size="6.0" fill="#e4692c" text-anchor="end">Tumor</text>
<path d="M591.7,200.60 H590.3000000000001 V207.70 H591.7" fill="none" stroke="#e4692c" stroke-width="0.5"/>
<text transform="translate(556.4,143.6) rotate(-90)" font-size="7.8" fill="#1a1a1a" text-anchor="middle">Naive</text>
<text transform="translate(556.4,188.6) rotate(-90)" font-size="7.8" fill="#1a1a1a" text-anchor="middle">Memory</text>
<rect x="594.15" y="118.0" width="0.8" height="1.9" fill="#222"/>
<rect x="597.75" y="118.0" width="0.8" height="1.9" fill="#222"/>
<rect x="605.85" y="118.0" width="0.8" height="1.9" fill="#222"/>
<rect x="608.75" y="118.0" width="0.8" height="1.9" fill="#222"/>
<rect x="615.35" y="118.0" width="0.8" height="1.9" fill="#222"/>
<rect x="616.45" y="118.0" width="0.8" height="1.9" fill="#222"/>
<rect x="618.95" y="118.0" width="0.8" height="1.9" fill="#222"/>
<rect x="621.15" y="118.0" width="0.8" height="1.9" fill="#222"/>
<rect x="623.65" y="118.0" width="0.8" height="1.9" fill="#222"/>
<rect x="659.85" y="118.0" width="0.8" height="1.9" fill="#222"/>
<rect x="667.85" y="118.0" width="0.8" height="1.9" fill="#222"/>
<g opacity="0.75">
<line x1="592.6" y1="112.7" x2="617.2" y2="112.7" stroke="#4a4ad0" stroke-width="0.6"/>
<rect x="592.6" y="111.4" width="1.7999999999999545" height="2.6" fill="#4a4ad0"/>
<rect x="595.2" y="111.4" width="1.0" height="2.6" fill="#4a4ad0"/>
<path d="M598.97,111.8 L598.07,112.7 L598.97,113.60000000000001" fill="none" stroke="#4a4ad0" stroke-width="0.4"/>
<path d="M604.43,111.8 L603.53,112.7 L604.43,113.60000000000001" fill="none" stroke="#4a4ad0" stroke-width="0.4"/>
<path d="M609.90,111.8 L609.00,112.7 L609.90,113.60000000000001" fill="none" stroke="#4a4ad0" stroke-width="0.4"/>
<path d="M615.37,111.8 L614.47,112.7 L615.37,113.60000000000001" fill="none" stroke="#4a4ad0" stroke-width="0.4"/>
<polygon points="594.2,111.3 592.2,112.7 594.2,114.10000000000001" fill="#4a4ad0"/>
</g>
<text x="618.2" y="113.8" font-size="4.6" font-style="italic" fill="#444" font-family="Liberation Serif, serif">Pdcd1</text>
<text x="653.4" y="116.9" font-size="4.8" fill="#333">–22 kb</text>
<text transform="translate(40.2,300) rotate(-90)" font-size="7.45" fill="#2a2a2a" text-anchor="middle">Relative signal between samples</text>
<text transform="translate(49.2,300) rotate(-90)" font-size="7.45" fill="#2a2a2a" text-anchor="middle">at indicated groups of regions</text>
<text transform="translate(57.4,300) rotate(-90)" font-size="7.45" fill="#2a2a2a" text-anchor="middle">(ChromVAR <tspan font-style="italic">z</tspan> score)</text>
<rect x="77.3" y="262.7" width="44.10000000000001" height="70.5" fill="#fff" stroke="#8a8a8a" stroke-width="0.7"/>
<line x1="74.89999999999999" y1="264.5" x2="77.3" y2="264.5" stroke="#555" stroke-width="0.5"/>
<text x="73.3" y="266.80" font-size="6.4" fill="#2a2a2a" text-anchor="end">50</text>
<line x1="74.89999999999999" y1="286.5" x2="77.3" y2="286.5" stroke="#555" stroke-width="0.5"/>
<text x="73.3" y="288.80" font-size="6.4" fill="#2a2a2a" text-anchor="end">25</text>
<line x1="74.89999999999999" y1="308.5" x2="77.3" y2="308.5" stroke="#555" stroke-width="0.5"/>
<text x="73.3" y="310.80" font-size="6.4" fill="#2a2a2a" text-anchor="end">0</text>
<line x1="74.89999999999999" y1="330.6" x2="77.3" y2="330.6" stroke="#555" stroke-width="0.5"/>
<text x="73.3" y="332.90" font-size="6.4" fill="#2a2a2a" text-anchor="end">–25</text>
<line x1="85.6" y1="333.2" x2="85.6" y2="335.59999999999997" stroke="#555" stroke-width="0.5"/>
<line x1="99.5" y1="333.2" x2="99.5" y2="335.59999999999997" stroke="#555" stroke-width="0.5"/>
<line x1="113.5" y1="333.2" x2="113.5" y2="335.59999999999997" stroke="#555" stroke-width="0.5"/>
<polyline points="85.60,327.30 99.50,289.10 113.50,278.70" fill="none" stroke="#f0a94e" stroke-width="0.7"/>
<polyline points="85.60,326.70 99.50,325.70 113.50,312.60" fill="none" stroke="#3f9c9c" stroke-width="0.7"/>
<circle cx="85.60" cy="327.30" r="2.75" fill="#f0b14f" stroke="#3a2a1a" stroke-width="0.45"/>
<polygon points="85.60,323.60 89.00,329.80 82.20,329.80" fill="#4fa6a2" stroke="#1f2f2f" stroke-width="0.45" stroke-linejoin="round"/>
<circle cx="99.50" cy="289.10" r="2.75" fill="#ec9038" stroke="#3a2a1a" stroke-width="0.45"/>
<polygon points="99.50,322.60 102.90,328.80 96.10,328.80" fill="#2f8c8d" stroke="#1f2f2f" stroke-width="0.45" stroke-linejoin="round"/>
<circle cx="113.50" cy="278.70" r="2.75" fill="#e6652b" stroke="#3a2a1a" stroke-width="0.45"/>
<polygon points="113.50,309.50 116.90,315.70 110.10,315.70" fill="#1d6260" stroke="#1f2f2f" stroke-width="0.45" stroke-linejoin="round"/>
<text x="99.35" y="250.3" font-size="7.5" fill="#2a2a2a" text-anchor="middle">Effector &gt;</text>
<text x="99.35" y="259.2" font-size="7.5" fill="#2a2a2a" text-anchor="middle">memory</text>
<text transform="translate(88.12,340.2) rotate(-90)" font-size="7.0" fill="#2a2a2a" text-anchor="end">PreCAR</text>
<text transform="translate(102.02,340.2) rotate(-90)" font-size="7.0" fill="#2a2a2a" text-anchor="end">PostCAR</text>
<text transform="translate(116.02,340.2) rotate(-90)" font-size="7.0" fill="#2a2a2a" text-anchor="end">Tumor</text>
<rect x="141.2" y="262.7" width="44.900000000000006" height="70.5" fill="#fff" stroke="#8a8a8a" stroke-width="0.7"/>
<line x1="138.79999999999998" y1="280.5" x2="141.2" y2="280.5" stroke="#555" stroke-width="0.5"/>
<text x="137.2" y="282.80" font-size="6.4" fill="#2a2a2a" text-anchor="end">25</text>
<line x1="138.79999999999998" y1="299.9" x2="141.2" y2="299.9" stroke="#555" stroke-width="0.5"/>
<text x="137.2" y="302.20" font-size="6.4" fill="#2a2a2a" text-anchor="end">0</text>
<line x1="138.79999999999998" y1="319.3" x2="141.2" y2="319.3" stroke="#555" stroke-width="0.5"/>
<text x="137.2" y="321.60" font-size="6.4" fill="#2a2a2a" text-anchor="end">–25</text>
<line x1="149.3" y1="333.2" x2="149.3" y2="335.59999999999997" stroke="#555" stroke-width="0.5"/>
<line x1="163.2" y1="333.2" x2="163.2" y2="335.59999999999997" stroke="#555" stroke-width="0.5"/>
<line x1="177.0" y1="333.2" x2="177.0" y2="335.59999999999997" stroke="#555" stroke-width="0.5"/>
<polyline points="149.30,290.00 163.20,323.90 177.00,326.90" fill="none" stroke="#f0a94e" stroke-width="0.7"/>
<polyline points="149.30,277.30 163.20,281.90 177.00,301.10" fill="none" stroke="#3f9c9c" stroke-width="0.7"/>
<circle cx="149.30" cy="290.00" r="2.75" fill="#f0b14f" stroke="#3a2a1a" stroke-width="0.45"/>
<polygon points="149.30,274.20 152.70,280.40 145.90,280.40" fill="#4fa6a2" stroke="#1f2f2f" stroke-width="0.45" stroke-linejoin="round"/>
<circle cx="163.20" cy="323.90" r="2.75" fill="#ec9038" stroke="#3a2a1a" stroke-width="0.45"/>
<polygon points="163.20,278.80 166.60,285.00 159.80,285.00" fill="#2f8c8d" stroke="#1f2f2f" stroke-width="0.45" stroke-linejoin="round"/>
<circle cx="177.00" cy="326.90" r="2.75" fill="#e6652b" stroke="#3a2a1a" stroke-width="0.45"/>
<polygon points="177.00,298.00 180.40,304.20 173.60,304.20" fill="#1d6260" stroke="#1f2f2f" stroke-width="0.45" stroke-linejoin="round"/>
<text x="163.65" y="250.3" font-size="7.5" fill="#2a2a2a" text-anchor="middle">Memory &gt;</text>
<text x="163.65" y="259.2" font-size="7.5" fill="#2a2a2a" text-anchor="middle">effector</text>
<text transform="translate(151.82,340.2) rotate(-90)" font-size="7.0" fill="#2a2a2a" text-anchor="end">PreCAR</text>
<text transform="translate(165.72,340.2) rotate(-90)" font-size="7.0" fill="#2a2a2a" text-anchor="end">PostCAR</text>
<text transform="translate(179.52,340.2) rotate(-90)" font-size="7.0" fill="#2a2a2a" text-anchor="end">Tumor</text>
<text x="219.8" y="277.0" font-size="7.7" fill="#2a2a2a" text-anchor="end">Memory</text>
<text x="219.8" y="289.0" font-size="7.7" fill="#2a2a2a" text-anchor="end">Naive</text>
<circle cx="227.70" cy="274.30" r="3.4" fill="#f0b14f" stroke="#3a2a1a" stroke-width="0.5"/>
<polygon points="227.70,283.20 232.00,290.80 223.40,290.80" fill="#4fa6a2" stroke="#1f2f2f" stroke-width="0.5" stroke-linejoin="round"/>
<circle cx="244.30" cy="274.30" r="3.4" fill="#ec9038" stroke="#3a2a1a" stroke-width="0.5"/>
<polygon points="244.30,283.20 248.60,290.80 240.00,290.80" fill="#2f8c8d" stroke="#1f2f2f" stroke-width="0.5" stroke-linejoin="round"/>
<circle cx="261.40" cy="274.30" r="3.4" fill="#e6652b" stroke="#3a2a1a" stroke-width="0.5"/>
<polygon points="261.40,283.20 265.70,290.80 257.10,290.80" fill="#1d6260" stroke="#1f2f2f" stroke-width="0.5" stroke-linejoin="round"/>
<text transform="translate(230.40,295.0) rotate(-90)" font-size="7.0" fill="#2a2a2a" text-anchor="end">PreCAR</text>
<text transform="translate(247.00,295.0) rotate(-90)" font-size="7.0" fill="#2a2a2a" text-anchor="end">PostCAR</text>
<text transform="translate(264.10,295.0) rotate(-90)" font-size="7.0" fill="#2a2a2a" text-anchor="end">Tumor</text>
<text transform="translate(6.7,478.2) rotate(-90)" font-size="7.4" fill="#2a2a2a" text-anchor="middle">ChromVAR <tspan font-style="italic">z</tspan> score</text>
<rect x="25.7" y="416.1" width="32.900000000000006" height="54.599999999999966" fill="#fff" stroke="#8a8a8a" stroke-width="0.7"/>
<line x1="23.3" y1="419.6" x2="25.7" y2="419.6" stroke="#555" stroke-width="0.5"/>
<text x="21.8" y="422.08" font-size="6.9" fill="#2a2a2a" text-anchor="end">60</text>
<line x1="23.3" y1="432.6" x2="25.7" y2="432.6" stroke="#555" stroke-width="0.5"/>
<text x="21.8" y="435.08" font-size="6.9" fill="#2a2a2a" text-anchor="end">30</text>
<line x1="23.3" y1="445.8" x2="25.7" y2="445.8" stroke="#555" stroke-width="0.5"/>
<text x="21.8" y="448.28" font-size="6.9" fill="#2a2a2a" text-anchor="end">0</text>
<line x1="23.3" y1="458.8" x2="25.7" y2="458.8" stroke="#555" stroke-width="0.5"/>
<text x="21.8" y="461.28" font-size="6.9" fill="#2a2a2a" text-anchor="end">–30</text>
<polyline points="31.60,451.10 42.10,431.30 52.50,429.40" fill="none" stroke="#f0a94e" stroke-width="0.7"/>
<polyline points="31.60,456.20 42.10,465.00 52.50,444.60" fill="none" stroke="#3f9c9c" stroke-width="0.7"/>
<circle cx="31.60" cy="451.10" r="2.25" fill="#f0b14f" stroke="#3a2a1a" stroke-width="0.45"/>
<polygon points="31.60,453.45 34.65,458.95 28.55,458.95" fill="#4fa6a2" stroke="#1f2f2f" stroke-width="0.45" stroke-linejoin="round"/>
<circle cx="42.10" cy="431.30" r="2.25" fill="#ec9038" stroke="#3a2a1a" stroke-width="0.45"/>
<polygon points="42.10,462.25 45.15,467.75 39.05,467.75" fill="#2f8c8d" stroke="#1f2f2f" stroke-width="0.45" stroke-linejoin="round"/>
<circle cx="52.50" cy="429.40" r="2.25" fill="#e6652b" stroke="#3a2a1a" stroke-width="0.45"/>
<polygon points="52.50,441.85 55.55,447.35 49.45,447.35" fill="#1d6260" stroke="#1f2f2f" stroke-width="0.45" stroke-linejoin="round"/>
<text x="42.15" y="412.2" font-size="5.9" fill="#2a2a2a" text-anchor="middle">BATF (bZIP)</text>
<rect x="74.4" y="416.1" width="32.89999999999999" height="54.599999999999966" fill="#fff" stroke="#8a8a8a" stroke-width="0.7"/>
<line x1="72.0" y1="424.9" x2="74.4" y2="424.9" stroke="#555" stroke-width="0.5"/>
<text x="70.5" y="427.38" font-size="6.9" fill="#2a2a2a" text-anchor="end">10</text>
<line x1="72.0" y1="436.6" x2="74.4" y2="436.6" stroke="#555" stroke-width="0.5"/>
<text x="70.5" y="439.08" font-size="6.9" fill="#2a2a2a" text-anchor="end">5</text>
<line x1="72.0" y1="448.3" x2="74.4" y2="448.3" stroke="#555" stroke-width="0.5"/>
<text x="70.5" y="450.78" font-size="6.9" fill="#2a2a2a" text-anchor="end">0</text>
<line x1="72.0" y1="460.5" x2="74.4" y2="460.5" stroke="#555" stroke-width="0.5"/>
<text x="70.5" y="462.98" font-size="6.9" fill="#2a2a2a" text-anchor="end">–5</text>
<polyline points="80.80,463.90 91.10,463.90 101.50,447.10" fill="none" stroke="#f0a94e" stroke-width="0.7"/>
<polyline points="80.80,437.30 91.10,429.40 101.50,436.90" fill="none" stroke="#3f9c9c" stroke-width="0.7"/>
<circle cx="80.80" cy="463.90" r="2.25" fill="#f0b14f" stroke="#3a2a1a" stroke-width="0.45"/>
<polygon points="80.80,434.55 83.85,440.05 77.75,440.05" fill="#4fa6a2" stroke="#1f2f2f" stroke-width="0.45" stroke-linejoin="round"/>
<circle cx="91.10" cy="463.90" r="2.25" fill="#ec9038" stroke="#3a2a1a" stroke-width="0.45"/>
<polygon points="91.10,426.65 94.15,432.15 88.05,432.15" fill="#2f8c8d" stroke="#1f2f2f" stroke-width="0.45" stroke-linejoin="round"/>
<circle cx="101.50" cy="447.10" r="2.25" fill="#e6652b" stroke="#3a2a1a" stroke-width="0.45"/>
<polygon points="101.50,434.15 104.55,439.65 98.45,439.65" fill="#1d6260" stroke="#1f2f2f" stroke-width="0.45" stroke-linejoin="round"/>
<text x="90.85" y="412.2" font-size="5.9" fill="#2a2a2a" text-anchor="middle">E2A (bHLH)</text>
<rect x="123.9" y="416.1" width="33.0" height="54.599999999999966" fill="#fff" stroke="#8a8a8a" stroke-width="0.7"/>
<line x1="121.5" y1="417.3" x2="123.9" y2="417.3" stroke="#555" stroke-width="0.5"/>
<text x="120.0" y="419.78" font-size="6.9" fill="#2a2a2a" text-anchor="end">20</text>
<line x1="121.5" y1="433.4" x2="123.9" y2="433.4" stroke="#555" stroke-width="0.5"/>
<text x="120.0" y="435.88" font-size="6.9" fill="#2a2a2a" text-anchor="end">10</text>
<line x1="121.5" y1="449.3" x2="123.9" y2="449.3" stroke="#555" stroke-width="0.5"/>
<text x="120.0" y="451.78" font-size="6.9" fill="#2a2a2a" text-anchor="end">0</text>
<line x1="121.5" y1="465.4" x2="123.9" y2="465.4" stroke="#555" stroke-width="0.5"/>
<text x="120.0" y="467.88" font-size="6.9" fill="#2a2a2a" text-anchor="end">–10</text>
<polyline points="129.60,430.80 140.30,465.50 150.80,458.60" fill="none" stroke="#f0a94e" stroke-width="0.7"/>
<polyline points="129.60,428.10 140.30,458.10 150.80,455.10" fill="none" stroke="#3f9c9c" stroke-width="0.7"/>
<circle cx="129.60" cy="430.80" r="2.25" fill="#f0b14f" stroke="#3a2a1a" stroke-width="0.45"/>
<polygon points="129.60,425.35 132.65,430.85 126.55,430.85" fill="#4fa6a2" stroke="#1f2f2f" stroke-width="0.45" stroke-linejoin="round"/>
<circle cx="140.30" cy="465.50" r="2.25" fill="#ec9038" stroke="#3a2a1a" stroke-width="0.45"/>
<polygon points="140.30,455.35 143.35,460.85 137.25,460.85" fill="#2f8c8d" stroke="#1f2f2f" stroke-width="0.45" stroke-linejoin="round"/>
<circle cx="150.80" cy="458.60" r="2.25" fill="#e6652b" stroke="#3a2a1a" stroke-width="0.45"/>
<polygon points="150.80,452.35 153.85,457.85 147.75,457.85" fill="#1d6260" stroke="#1f2f2f" stroke-width="0.45" stroke-linejoin="round"/>
<text x="140.40" y="412.2" font-size="5.9" fill="#2a2a2a" text-anchor="middle">Foxo3 (forkhead)</text>
<rect x="172.6" y="416.1" width="34.0" height="54.599999999999966" fill="#fff" stroke="#8a8a8a" stroke-width="0.7"/>
<line x1="170.2" y1="430.0" x2="172.6" y2="430.0" stroke="#555" stroke-width="0.5"/>
<text x="168.7" y="432.48" font-size="6.9" fill="#2a2a2a" text-anchor="end">10</text>
<line x1="170.2" y1="449.1" x2="172.6" y2="449.1" stroke="#555" stroke-width="0.5"/>
<text x="168.7" y="451.58" font-size="6.9" fill="#2a2a2a" text-anchor="end">0</text>
<line x1="170.2" y1="468.2" x2="172.6" y2="468.2" stroke="#555" stroke-width="0.5"/>
<text x="168.7" y="470.68" font-size="6.9" fill="#2a2a2a" text-anchor="end">–10</text>
<polyline points="178.90,464.20 189.30,443.40 200.10,428.60" fill="none" stroke="#f0a94e" stroke-width="0.7"/>
<polyline points="178.90,465.50 189.30,440.60 200.10,449.30" fill="none" stroke="#3f9c9c" stroke-width="0.7"/>
<circle cx="178.90" cy="464.20" r="2.25" fill="#f0b14f" stroke="#3a2a1a" stroke-width="0.45"/>
<polygon points="178.90,462.75 181.95,468.25 175.85,468.25" fill="#4fa6a2" stroke="#1f2f2f" stroke-width="0.45" stroke-linejoin="round"/>
<circle cx="189.30" cy="443.40" r="2.25" fill="#ec9038" stroke="#3a2a1a" stroke-width="0.45"/>
<polygon points="189.30,437.85 192.35,443.35 186.25,443.35" fill="#2f8c8d" stroke="#1f2f2f" stroke-width="0.45" stroke-linejoin="round"/>
<circle cx="200.10" cy="428.60" r="2.25" fill="#e6652b" stroke="#3a2a1a" stroke-width="0.45"/>
<polygon points="200.10,446.55 203.15,452.05 197.05,452.05" fill="#1d6260" stroke="#1f2f2f" stroke-width="0.45" stroke-linejoin="round"/>
<text x="189.60" y="412.2" font-size="5.9" fill="#2a2a2a" text-anchor="middle">IRF4 (IRF)</text>
<rect x="221.5" y="416.1" width="34.099999999999994" height="54.599999999999966" fill="#fff" stroke="#8a8a8a" stroke-width="0.7"/>
<line x1="219.1" y1="424.6" x2="221.5" y2="424.6" stroke="#555" stroke-width="0.5"/>
<text x="217.6" y="427.08" font-size="6.9" fill="#2a2a2a" text-anchor="end">10</text>
<line x1="219.1" y1="436.5" x2="221.5" y2="436.5" stroke="#555" stroke-width="0.5"/>
<text x="217.6" y="438.98" font-size="6.9" fill="#2a2a2a" text-anchor="end">5</text>
<line x1="219.1" y1="448.3" x2="221.5" y2="448.3" stroke="#555" stroke-width="0.5"/>
<text x="217.6" y="450.78" font-size="6.9" fill="#2a2a2a" text-anchor="end">0</text>
<line x1="219.1" y1="460.2" x2="221.5" y2="460.2" stroke="#555" stroke-width="0.5"/>
<text x="217.6" y="462.68" font-size="6.9" fill="#2a2a2a" text-anchor="end">–5</text>
<polyline points="228.30,449.50 238.40,461.00 249.20,430.00" fill="none" stroke="#f0a94e" stroke-width="0.7"/>
<polyline points="228.30,448.70 238.40,459.40 249.20,432.10" fill="none" stroke="#3f9c9c" stroke-width="0.7"/>
<circle cx="228.30" cy="449.50" r="2.25" fill="#f0b14f" stroke="#3a2a1a" stroke-width="0.45"/>
<polygon points="228.30,445.95 231.35,451.45 225.25,451.45" fill="#4fa6a2" stroke="#1f2f2f" stroke-width="0.45" stroke-linejoin="round"/>
<circle cx="238.40" cy="461.00" r="2.25" fill="#ec9038" stroke="#3a2a1a" stroke-width="0.45"/>
<polygon points="238.40,456.65 241.45,462.15 235.35,462.15" fill="#2f8c8d" stroke="#1f2f2f" stroke-width="0.45" stroke-linejoin="round"/>
<circle cx="249.20" cy="430.00" r="2.25" fill="#e6652b" stroke="#3a2a1a" stroke-width="0.45"/>
<polygon points="249.20,429.35 252.25,434.85 246.15,434.85" fill="#1d6260" stroke="#1f2f2f" stroke-width="0.45" stroke-linejoin="round"/>
<text x="238.55" y="412.2" font-size="5.9" fill="#2a2a2a" text-anchor="middle">KLF9 (Zf)</text>
<rect x="270.5" y="416.1" width="34.39999999999998" height="54.599999999999966" fill="#fff" stroke="#8a8a8a" stroke-width="0.7"/>
<line x1="268.1" y1="427.5" x2="270.5" y2="427.5" stroke="#555" stroke-width="0.5"/>
<text x="266.6" y="429.98" font-size="6.9" fill="#2a2a2a" text-anchor="end">20</text>
<line x1="268.1" y1="439.3" x2="270.5" y2="439.3" stroke="#555" stroke-width="0.5"/>
<text x="266.6" y="441.78" font-size="6.9" fill="#2a2a2a" text-anchor="end">10</text>
<line x1="268.1" y1="451.4" x2="270.5" y2="451.4" stroke="#555" stroke-width="0.5"/>
<text x="266.6" y="453.88" font-size="6.9" fill="#2a2a2a" text-anchor="end">0</text>
<line x1="268.1" y1="463.3" x2="270.5" y2="463.3" stroke="#555" stroke-width="0.5"/>
<text x="266.6" y="465.78" font-size="6.9" fill="#2a2a2a" text-anchor="end">–10</text>
<polyline points="277.30,449.10 287.70,465.80 298.50,431.50" fill="none" stroke="#f0a94e" stroke-width="0.7"/>
<polyline points="277.30,461.00 287.70,463.40 298.50,427.30" fill="none" stroke="#3f9c9c" stroke-width="0.7"/>
<circle cx="277.30" cy="449.10" r="2.25" fill="#f0b14f" stroke="#3a2a1a" stroke-width="0.45"/>
<polygon points="277.30,458.25 280.35,463.75 274.25,463.75" fill="#4fa6a2" stroke="#1f2f2f" stroke-width="0.45" stroke-linejoin="round"/>
<circle cx="287.70" cy="465.80" r="2.25" fill="#ec9038" stroke="#3a2a1a" stroke-width="0.45"/>
<polygon points="287.70,460.65 290.75,466.15 284.65,466.15" fill="#2f8c8d" stroke="#1f2f2f" stroke-width="0.45" stroke-linejoin="round"/>
<circle cx="298.50" cy="431.50" r="2.25" fill="#e6652b" stroke="#3a2a1a" stroke-width="0.45"/>
<polygon points="298.50,424.55 301.55,430.05 295.45,430.05" fill="#1d6260" stroke="#1f2f2f" stroke-width="0.45" stroke-linejoin="round"/>
<text x="287.70" y="412.2" font-size="5.9" fill="#2a2a2a" text-anchor="middle">NFAT (RHD)</text>
<rect x="25.7" y="484.3" width="32.900000000000006" height="54.099999999999966" fill="#fff" stroke="#8a8a8a" stroke-width="0.7"/>
<line x1="23.3" y1="492.3" x2="25.7" y2="492.3" stroke="#555" stroke-width="0.5"/>
<text x="21.8" y="494.78" font-size="6.9" fill="#2a2a2a" text-anchor="end">30</text>
<line x1="23.3" y1="502.3" x2="25.7" y2="502.3" stroke="#555" stroke-width="0.5"/>
<text x="21.8" y="504.78" font-size="6.9" fill="#2a2a2a" text-anchor="end">20</text>
<line x1="23.3" y1="512.3" x2="25.7" y2="512.3" stroke="#555" stroke-width="0.5"/>
<text x="21.8" y="514.78" font-size="6.9" fill="#2a2a2a" text-anchor="end">10</text>
<line x1="23.3" y1="522.4" x2="25.7" y2="522.4" stroke="#555" stroke-width="0.5"/>
<text x="21.8" y="524.88" font-size="6.9" fill="#2a2a2a" text-anchor="end">0</text>
<line x1="23.3" y1="532.3" x2="25.7" y2="532.3" stroke="#555" stroke-width="0.5"/>
<text x="21.8" y="534.78" font-size="6.9" fill="#2a2a2a" text-anchor="end">–10</text>
<line x1="31.6" y1="538.4" x2="31.6" y2="540.8" stroke="#555" stroke-width="0.5"/>
<line x1="42.1" y1="538.4" x2="42.1" y2="540.8" stroke="#555" stroke-width="0.5"/>
<line x1="52.5" y1="538.4" x2="52.5" y2="540.8" stroke="#555" stroke-width="0.5"/>
<polyline points="31.60,500.70 42.10,532.80 52.50,520.40" fill="none" stroke="#f0a94e" stroke-width="0.7"/>
<polyline points="31.60,531.50 42.10,532.80 52.50,520.10" fill="none" stroke="#3f9c9c" stroke-width="0.7"/>
<circle cx="31.60" cy="500.70" r="2.25" fill="#f0b14f" stroke="#3a2a1a" stroke-width="0.45"/>
<polygon points="31.60,528.75 34.65,534.25 28.55,534.25" fill="#4fa6a2" stroke="#1f2f2f" stroke-width="0.45" stroke-linejoin="round"/>
<circle cx="42.10" cy="532.80" r="2.25" fill="#ec9038" stroke="#3a2a1a" stroke-width="0.45"/>
<polygon points="42.10,530.05 45.15,535.55 39.05,535.55" fill="#2f8c8d" stroke="#1f2f2f" stroke-width="0.45" stroke-linejoin="round"/>
<circle cx="52.50" cy="520.40" r="2.25" fill="#e6652b" stroke="#3a2a1a" stroke-width="0.45"/>
<polygon points="52.50,517.35 55.55,522.85 49.45,522.85" fill="#1d6260" stroke="#1f2f2f" stroke-width="0.45" stroke-linejoin="round"/>
<text x="42.15" y="481.4" font-size="5.9" fill="#2a2a2a" text-anchor="middle">NF-κB-p65 (RHD)</text>
<text transform="translate(34.12,543.0) rotate(-90)" font-size="7.0" fill="#2a2a2a" text-anchor="end">PreCAR</text>
<text transform="translate(44.62,543.0) rotate(-90)" font-size="7.0" fill="#2a2a2a" text-anchor="end">PostCAR</text>
<text transform="translate(55.02,543.0) rotate(-90)" font-size="7.0" fill="#2a2a2a" text-anchor="end">Tumor</text>
<rect x="74.4" y="484.3" width="32.89999999999999" height="54.099999999999966" fill="#fff" stroke="#8a8a8a" stroke-width="0.7"/>
<line x1="72.0" y1="493.8" x2="74.4" y2="493.8" stroke="#555" stroke-width="0.5"/>
<text x="70.5" y="496.28" font-size="6.9" fill="#2a2a2a" text-anchor="end">30</text>
<line x1="72.0" y1="504.2" x2="74.4" y2="504.2" stroke="#555" stroke-width="0.5"/>
<text x="70.5" y="506.68" font-size="6.9" fill="#2a2a2a" text-anchor="end">20</text>
<line x1="72.0" y1="514.3" x2="74.4" y2="514.3" stroke="#555" stroke-width="0.5"/>
<text x="70.5" y="516.78" font-size="6.9" fill="#2a2a2a" text-anchor="end">10</text>
<line x1="72.0" y1="524.5" x2="74.4" y2="524.5" stroke="#555" stroke-width="0.5"/>
<text x="70.5" y="526.98" font-size="6.9" fill="#2a2a2a" text-anchor="end">0</text>
<line x1="72.0" y1="534.7" x2="74.4" y2="534.7" stroke="#555" stroke-width="0.5"/>
<text x="70.5" y="537.18" font-size="6.9" fill="#2a2a2a" text-anchor="end">–10</text>
<line x1="80.8" y1="538.4" x2="80.8" y2="540.8" stroke="#555" stroke-width="0.5"/>
<line x1="91.1" y1="538.4" x2="91.1" y2="540.8" stroke="#555" stroke-width="0.5"/>
<line x1="101.5" y1="538.4" x2="101.5" y2="540.8" stroke="#555" stroke-width="0.5"/>
<polyline points="80.80,534.40 91.10,532.00 101.50,502.00" fill="none" stroke="#f0a94e" stroke-width="0.7"/>
<polyline points="80.80,528.80 91.10,532.30 101.50,517.20" fill="none" stroke="#3f9c9c" stroke-width="0.7"/>
<circle cx="80.80" cy="534.40" r="2.25" fill="#f0b14f" stroke="#3a2a1a" stroke-width="0.45"/>
<polygon points="80.80,526.05 83.85,531.55 77.75,531.55" fill="#4fa6a2" stroke="#1f2f2f" stroke-width="0.45" stroke-linejoin="round"/>
<circle cx="91.10" cy="532.00" r="2.25" fill="#ec9038" stroke="#3a2a1a" stroke-width="0.45"/>
<polygon points="91.10,529.55 94.15,535.05 88.05,535.05" fill="#2f8c8d" stroke="#1f2f2f" stroke-width="0.45" stroke-linejoin="round"/>
<circle cx="101.50" cy="502.00" r="2.25" fill="#e6652b" stroke="#3a2a1a" stroke-width="0.45"/>
<polygon points="101.50,514.45 104.55,519.95 98.45,519.95" fill="#1d6260" stroke="#1f2f2f" stroke-width="0.45" stroke-linejoin="round"/>
<text x="90.85" y="481.4" font-size="5.9" fill="#2a2a2a" text-anchor="middle">Nur77 (NR)</text>
<text transform="translate(83.32,543.0) rotate(-90)" font-size="7.0" fill="#2a2a2a" text-anchor="end">PreCAR</text>
<text transform="translate(93.62,543.0) rotate(-90)" font-size="7.0" fill="#2a2a2a" text-anchor="end">PostCAR</text>
<text transform="translate(104.02,543.0) rotate(-90)" font-size="7.0" fill="#2a2a2a" text-anchor="end">Tumor</text>
<rect x="123.9" y="484.3" width="33.0" height="54.099999999999966" fill="#fff" stroke="#8a8a8a" stroke-width="0.7"/>
<line x1="121.5" y1="493.5" x2="123.9" y2="493.5" stroke="#555" stroke-width="0.5"/>
<text x="120.0" y="495.98" font-size="6.9" fill="#2a2a2a" text-anchor="end">10</text>
<line x1="121.5" y1="509.4" x2="123.9" y2="509.4" stroke="#555" stroke-width="0.5"/>
<text x="120.0" y="511.88" font-size="6.9" fill="#2a2a2a" text-anchor="end">0</text>
<line x1="121.5" y1="525.3" x2="123.9" y2="525.3" stroke="#555" stroke-width="0.5"/>
<text x="120.0" y="527.78" font-size="6.9" fill="#2a2a2a" text-anchor="end">–10</text>
<line x1="129.6" y1="538.4" x2="129.6" y2="540.8" stroke="#555" stroke-width="0.5"/>
<line x1="140.3" y1="538.4" x2="140.3" y2="540.8" stroke="#555" stroke-width="0.5"/>
<line x1="150.8" y1="538.4" x2="150.8" y2="540.8" stroke="#555" stroke-width="0.5"/>
<polyline points="129.60,502.00 140.30,497.20 150.80,503.90" fill="none" stroke="#f0a94e" stroke-width="0.7"/>
<polyline points="129.60,521.30 140.30,514.70 150.80,532.30" fill="none" stroke="#3f9c9c" stroke-width="0.7"/>
<circle cx="129.60" cy="502.00" r="2.25" fill="#f0b14f" stroke="#3a2a1a" stroke-width="0.45"/>
<polygon points="129.60,518.55 132.65,524.05 126.55,524.05" fill="#4fa6a2" stroke="#1f2f2f" stroke-width="0.45" stroke-linejoin="round"/>
<circle cx="140.30" cy="497.20" r="2.25" fill="#ec9038" stroke="#3a2a1a" stroke-width="0.45"/>
<polygon points="140.30,511.95 143.35,517.45 137.25,517.45" fill="#2f8c8d" stroke="#1f2f2f" stroke-width="0.45" stroke-linejoin="round"/>
<circle cx="150.80" cy="503.90" r="2.25" fill="#e6652b" stroke="#3a2a1a" stroke-width="0.45"/>
<polygon points="150.80,529.55 153.85,535.05 147.75,535.05" fill="#1d6260" stroke="#1f2f2f" stroke-width="0.45" stroke-linejoin="round"/>
<text x="140.40" y="481.4" font-size="5.9" fill="#2a2a2a" text-anchor="middle">RUNX (Runt)</text>
<text transform="translate(132.12,543.0) rotate(-90)" font-size="7.0" fill="#2a2a2a" text-anchor="end">PreCAR</text>
<text transform="translate(142.82,543.0) rotate(-90)" font-size="7.0" fill="#2a2a2a" text-anchor="end">PostCAR</text>
<text transform="translate(153.32,543.0) rotate(-90)" font-size="7.0" fill="#2a2a2a" text-anchor="end">Tumor</text>
<rect x="172.6" y="484.3" width="34.0" height="54.099999999999966" fill="#fff" stroke="#8a8a8a" stroke-width="0.7"/>
<line x1="170.2" y1="490.6" x2="172.6" y2="490.6" stroke="#555" stroke-width="0.5"/>
<text x="168.7" y="493.08" font-size="6.9" fill="#2a2a2a" text-anchor="end">20</text>
<line x1="170.2" y1="504.4" x2="172.6" y2="504.4" stroke="#555" stroke-width="0.5"/>
<text x="168.7" y="506.88" font-size="6.9" fill="#2a2a2a" text-anchor="end">10</text>
<line x1="170.2" y1="518.4" x2="172.6" y2="518.4" stroke="#555" stroke-width="0.5"/>
<text x="168.7" y="520.88" font-size="6.9" fill="#2a2a2a" text-anchor="end">0</text>
<line x1="170.2" y1="532.2" x2="172.6" y2="532.2" stroke="#555" stroke-width="0.5"/>
<text x="168.7" y="534.68" font-size="6.9" fill="#2a2a2a" text-anchor="end">–10</text>
<line x1="178.9" y1="538.4" x2="178.9" y2="540.8" stroke="#555" stroke-width="0.5"/>
<line x1="189.3" y1="538.4" x2="189.3" y2="540.8" stroke="#555" stroke-width="0.5"/>
<line x1="200.1" y1="538.4" x2="200.1" y2="540.8" stroke="#555" stroke-width="0.5"/>
<polyline points="178.90,526.40 189.30,497.10 200.10,532.80" fill="none" stroke="#f0a94e" stroke-width="0.7"/>
<polyline points="178.90,528.80 189.30,496.20 200.10,531.20" fill="none" stroke="#3f9c9c" stroke-width="0.7"/>
<circle cx="178.90" cy="526.40" r="2.25" fill="#f0b14f" stroke="#3a2a1a" stroke-width="0.45"/>
<polygon points="178.90,526.05 181.95,531.55 175.85,531.55" fill="#4fa6a2" stroke="#1f2f2f" stroke-width="0.45" stroke-linejoin="round"/>
<circle cx="189.30" cy="497.10" r="2.25" fill="#ec9038" stroke="#3a2a1a" stroke-width="0.45"/>
<polygon points="189.30,493.45 192.35,498.95 186.25,498.95" fill="#2f8c8d" stroke="#1f2f2f" stroke-width="0.45" stroke-linejoin="round"/>
<circle cx="200.10" cy="532.80" r="2.25" fill="#e6652b" stroke="#3a2a1a" stroke-width="0.45"/>
<polygon points="200.10,528.45 203.15,533.95 197.05,533.95" fill="#1d6260" stroke="#1f2f2f" stroke-width="0.45" stroke-linejoin="round"/>
<text x="189.60" y="481.4" font-size="5.9" fill="#2a2a2a" text-anchor="middle">STAT5 (STAT)</text>
<text transform="translate(181.42,543.0) rotate(-90)" font-size="7.0" fill="#2a2a2a" text-anchor="end">PreCAR</text>
<text transform="translate(191.82,543.0) rotate(-90)" font-size="7.0" fill="#2a2a2a" text-anchor="end">PostCAR</text>
<text transform="translate(202.62,543.0) rotate(-90)" font-size="7.0" fill="#2a2a2a" text-anchor="end">Tumor</text>
<rect x="221.5" y="484.3" width="34.099999999999994" height="54.099999999999966" fill="#fff" stroke="#8a8a8a" stroke-width="0.7"/>
<line x1="219.1" y1="492.3" x2="221.5" y2="492.3" stroke="#555" stroke-width="0.5"/>
<text x="217.6" y="494.78" font-size="6.9" fill="#2a2a2a" text-anchor="end">20</text>
<line x1="219.1" y1="503.3" x2="221.5" y2="503.3" stroke="#555" stroke-width="0.5"/>
<text x="217.6" y="505.78" font-size="6.9" fill="#2a2a2a" text-anchor="end">10</text>
<line x1="219.1" y1="514.0" x2="221.5" y2="514.0" stroke="#555" stroke-width="0.5"/>
<text x="217.6" y="516.48" font-size="6.9" fill="#2a2a2a" text-anchor="end">0</text>
<line x1="219.1" y1="524.8" x2="221.5" y2="524.8" stroke="#555" stroke-width="0.5"/>
<text x="217.6" y="527.28" font-size="6.9" fill="#2a2a2a" text-anchor="end">–10</text>
<line x1="219.1" y1="535.5" x2="221.5" y2="535.5" stroke="#555" stroke-width="0.5"/>
<text x="217.6" y="537.98" font-size="6.9" fill="#2a2a2a" text-anchor="end">–20</text>
<line x1="228.3" y1="538.4" x2="228.3" y2="540.8" stroke="#555" stroke-width="0.5"/>
<line x1="238.4" y1="538.4" x2="238.4" y2="540.8" stroke="#555" stroke-width="0.5"/>
<line x1="249.2" y1="538.4" x2="249.2" y2="540.8" stroke="#555" stroke-width="0.5"/>
<polyline points="228.30,506.00 238.40,516.40 249.20,497.50" fill="none" stroke="#f0a94e" stroke-width="0.7"/>
<polyline points="228.30,534.40 238.40,529.60 249.20,500.40" fill="none" stroke="#3f9c9c" stroke-width="0.7"/>
<circle cx="228.30" cy="506.00" r="2.25" fill="#f0b14f" stroke="#3a2a1a" stroke-width="0.45"/>
<polygon points="228.30,531.65 231.35,537.15 225.25,537.15" fill="#4fa6a2" stroke="#1f2f2f" stroke-width="0.45" stroke-linejoin="round"/>
<circle cx="238.40" cy="516.40" r="2.25" fill="#ec9038" stroke="#3a2a1a" stroke-width="0.45"/>
<polygon points="238.40,526.85 241.45,532.35 235.35,532.35" fill="#2f8c8d" stroke="#1f2f2f" stroke-width="0.45" stroke-linejoin="round"/>
<circle cx="249.20" cy="497.50" r="2.25" fill="#e6652b" stroke="#3a2a1a" stroke-width="0.45"/>
<polygon points="249.20,497.65 252.25,503.15 246.15,503.15" fill="#1d6260" stroke="#1f2f2f" stroke-width="0.45" stroke-linejoin="round"/>
<text x="238.55" y="481.4" font-size="5.9" fill="#2a2a2a" text-anchor="middle">T-bet (T-box)</text>
<text transform="translate(230.82,543.0) rotate(-90)" font-size="7.0" fill="#2a2a2a" text-anchor="end">PreCAR</text>
<text transform="translate(240.92,543.0) rotate(-90)" font-size="7.0" fill="#2a2a2a" text-anchor="end">PostCAR</text>
<text transform="translate(251.72,543.0) rotate(-90)" font-size="7.0" fill="#2a2a2a" text-anchor="end">Tumor</text>
<rect x="270.5" y="484.3" width="34.39999999999998" height="54.099999999999966" fill="#fff" stroke="#8a8a8a" stroke-width="0.7"/>
<line x1="268.1" y1="491.4" x2="270.5" y2="491.4" stroke="#555" stroke-width="0.5"/>
<text x="266.6" y="493.88" font-size="6.9" fill="#2a2a2a" text-anchor="end">20</text>
<line x1="268.1" y1="502.3" x2="270.5" y2="502.3" stroke="#555" stroke-width="0.5"/>
<text x="266.6" y="504.78" font-size="6.9" fill="#2a2a2a" text-anchor="end">10</text>
<line x1="268.1" y1="513.2" x2="270.5" y2="513.2" stroke="#555" stroke-width="0.5"/>
<text x="266.6" y="515.68" font-size="6.9" fill="#2a2a2a" text-anchor="end">0</text>
<line x1="268.1" y1="524.3" x2="270.5" y2="524.3" stroke="#555" stroke-width="0.5"/>
<text x="266.6" y="526.78" font-size="6.9" fill="#2a2a2a" text-anchor="end">–10</text>
<line x1="268.1" y1="535.2" x2="270.5" y2="535.2" stroke="#555" stroke-width="0.5"/>
<text x="266.6" y="537.68" font-size="6.9" fill="#2a2a2a" text-anchor="end">–20</text>
<line x1="277.3" y1="538.4" x2="277.3" y2="540.8" stroke="#555" stroke-width="0.5"/>
<line x1="287.7" y1="538.4" x2="287.7" y2="540.8" stroke="#555" stroke-width="0.5"/>
<line x1="298.5" y1="538.4" x2="298.5" y2="540.8" stroke="#555" stroke-width="0.5"/>
<polyline points="277.30,505.20 287.70,527.20 298.50,533.90" fill="none" stroke="#f0a94e" stroke-width="0.7"/>
<polyline points="277.30,497.50 287.70,495.90 298.50,505.00" fill="none" stroke="#3f9c9c" stroke-width="0.7"/>
<circle cx="277.30" cy="505.20" r="2.25" fill="#f0b14f" stroke="#3a2a1a" stroke-width="0.45"/>
<polygon points="277.30,494.75 280.35,500.25 274.25,500.25" fill="#4fa6a2" stroke="#1f2f2f" stroke-width="0.45" stroke-linejoin="round"/>
<circle cx="287.70" cy="527.20" r="2.25" fill="#ec9038" stroke="#3a2a1a" stroke-width="0.45"/>
<polygon points="287.70,493.15 290.75,498.65 284.65,498.65" fill="#2f8c8d" stroke="#1f2f2f" stroke-width="0.45" stroke-linejoin="round"/>
<circle cx="298.50" cy="533.90" r="2.25" fill="#e6652b" stroke="#3a2a1a" stroke-width="0.45"/>
<polygon points="298.50,502.25 301.55,507.75 295.45,507.75" fill="#1d6260" stroke="#1f2f2f" stroke-width="0.45" stroke-linejoin="round"/>
<text x="287.70" y="481.4" font-size="5.9" fill="#2a2a2a" text-anchor="middle">TCF4 (HMG)</text>
<text transform="translate(279.82,543.0) rotate(-90)" font-size="7.0" fill="#2a2a2a" text-anchor="end">PreCAR</text>
<text transform="translate(290.22,543.0) rotate(-90)" font-size="7.0" fill="#2a2a2a" text-anchor="end">PostCAR</text>
<text transform="translate(301.02,543.0) rotate(-90)" font-size="7.0" fill="#2a2a2a" text-anchor="end">Tumor</text>
<rect x="394" y="309.40" width="19" height="57.20" fill="#eedba0"/>
<rect x="413" y="309.40" width="19" height="57.20" fill="#e0282a"/>
<rect x="432" y="309.40" width="20" height="57.20" fill="#f6991f"/>
<rect x="452" y="309.40" width="19" height="57.20" fill="#f5c65a"/>
<rect x="471" y="309.40" width="19" height="57.20" fill="#d5d8cc"/>
<rect x="490" y="309.40" width="19" height="57.20" fill="#75c5ef"/>
<rect x="509" y="309.40" width="19" height="57.20" fill="#2293ef"/>
<rect x="528" y="309.40" width="19" height="57.20" fill="#2387ee"/>
<rect x="547" y="309.40" width="19" height="57.20" fill="#1f97f3"/>
<rect x="566" y="309.40" width="19" height="57.20" fill="#4fbcf6"/>
<rect x="585" y="309.40" width="19" height="57.20" fill="#c5d5dc"/>
<rect x="604" y="309.40" width="19" height="57.20" fill="#8dcdf0"/>
<rect x="394" y="328.47" width="19" height="38.13" fill="#ebdcab"/>
<rect x="413" y="328.47" width="19" height="38.13" fill="#fdb11f"/>
<rect x="432" y="328.47" width="20" height="38.13" fill="#d5d8cc"/>
<rect x="452" y="328.47" width="19" height="38.13" fill="#fdb321"/>
<rect x="471" y="328.47" width="19" height="38.13" fill="#eadbb0"/>
<rect x="490" y="328.47" width="19" height="38.13" fill="#eadbae"/>
<rect x="509" y="328.47" width="19" height="38.13" fill="#c8d8dd"/>
<rect x="528" y="328.47" width="19" height="38.13" fill="#2a87ee"/>
<rect x="547" y="328.47" width="38" height="38.13" fill="#27aefa"/>
<rect x="585" y="328.47" width="19" height="38.13" fill="#70c4f3"/>
<rect x="604" y="328.47" width="19" height="38.13" fill="#2daff9"/>
<rect x="452" y="338.00" width="19" height="28.60" fill="#f79a23"/>
<rect x="547" y="338.00" width="19" height="28.60" fill="#3db6f8"/>
<rect x="566" y="338.00" width="19" height="28.60" fill="#35b3f9"/>
<rect x="585" y="338.00" width="19" height="28.60" fill="#62bff4"/>
<rect x="604" y="338.00" width="19" height="28.60" fill="#32b1f8"/>
<rect x="394" y="347.53" width="19" height="19.07" fill="#e8dcb2"/>
<rect x="413" y="347.53" width="19" height="19.07" fill="#c5d9e0"/>
<rect x="432" y="347.53" width="20" height="19.07" fill="#a9d5ea"/>
<rect x="452" y="347.53" width="19" height="19.07" fill="#8dcdf0"/>
<rect x="471" y="347.53" width="19" height="19.07" fill="#3ab4f8"/>
<rect x="490" y="347.53" width="19" height="19.07" fill="#8dcdf0"/>
<rect x="509" y="347.53" width="19" height="19.07" fill="#ddd9c0"/>
<rect x="528" y="347.53" width="19" height="19.07" fill="#eeda9f"/>
<rect x="547" y="347.53" width="19" height="19.07" fill="#cfd8d2"/>
<rect x="566" y="347.53" width="19" height="19.07" fill="#4fbcf6"/>
<rect x="585" y="347.53" width="19" height="19.07" fill="#d5d8cc"/>
<rect x="604" y="347.53" width="19" height="19.07" fill="#f5c65a"/>
<rect x="490" y="357.07" width="19" height="9.53" fill="#7dc8f2"/>
<rect x="547" y="357.07" width="19" height="9.53" fill="#d5d8c8"/>
<rect x="604" y="357.07" width="19" height="9.53" fill="#fbb82f"/>
<line x1="394.2" y1="328.47" x2="623.40" y2="328.47" stroke="#2b3a44" stroke-width="0.7"/>
<line x1="394.2" y1="347.53" x2="623.40" y2="347.53" stroke="#2b3a44" stroke-width="0.7"/>
<rect x="394.2" y="309.4" width="229.20" height="57.20" fill="none" stroke="#555" stroke-width="0.7"/>
<rect x="394" y="371.60" width="19" height="58.00" fill="#7fc9f1"/>
<rect x="413" y="371.60" width="19" height="58.00" fill="#a9d5ea"/>
<rect x="432" y="371.60" width="20" height="58.00" fill="#eddba5"/>
<rect x="452" y="371.60" width="19" height="58.00" fill="#6cc2f2"/>
<rect x="471" y="371.60" width="19" height="58.00" fill="#e8dcb2"/>
<rect x="490" y="371.60" width="19" height="58.00" fill="#3ab4f8"/>
<rect x="509" y="371.60" width="19" height="58.00" fill="#c2d8e2"/>
<rect x="528" y="371.60" width="19" height="58.00" fill="#eedba0"/>
<rect x="547" y="371.60" width="19" height="58.00" fill="#3ab4f8"/>
<rect x="566" y="371.60" width="19" height="58.00" fill="#ddd9c0"/>
<rect x="585" y="371.60" width="19" height="58.00" fill="#f3ca6a"/>
<rect x="604" y="371.60" width="19" height="58.00" fill="#8dcdf0"/>
<rect x="490" y="381.27" width="19" height="48.33" fill="#4ab9f6"/>
<rect x="394" y="390.93" width="19" height="38.67" fill="#1fa6f7"/>
<rect x="413" y="390.93" width="19" height="38.67" fill="#2b93ee"/>
<rect x="432" y="390.93" width="20" height="38.67" fill="#1fa6f7"/>
<rect x="452" y="390.93" width="19" height="38.67" fill="#c5d9e0"/>
<rect x="471" y="390.93" width="19" height="38.67" fill="#eddba5"/>
<rect x="490" y="390.93" width="19" height="38.67" fill="#f6991f"/>
<rect x="509" y="390.93" width="19" height="38.67" fill="#d5d8cc"/>
<rect x="528" y="390.93" width="19" height="38.67" fill="#e8dab0"/>
<rect x="547" y="390.93" width="19" height="38.67" fill="#f99f1f"/>
<rect x="566" y="390.93" width="19" height="38.67" fill="#fdb11f"/>
<rect x="585" y="390.93" width="38" height="38.67" fill="#4fbcf6"/>
<rect x="547" y="400.60" width="38" height="29.00" fill="#fdb11f"/>
<rect x="394" y="410.27" width="19" height="19.33" fill="#b5d7e6"/>
<rect x="432" y="410.27" width="39" height="19.33" fill="#1fa6f7"/>
<rect x="471" y="410.27" width="19" height="19.33" fill="#2aaaf7"/>
<rect x="490" y="410.27" width="19" height="19.33" fill="#c5d9e0"/>
<rect x="509" y="410.27" width="19" height="19.33" fill="#f0d893"/>
<rect x="528" y="410.27" width="19" height="19.33" fill="#f26522"/>
<rect x="547" y="410.27" width="19" height="19.33" fill="#f47b20"/>
<rect x="566" y="410.27" width="19" height="19.33" fill="#eed89a"/>
<rect x="585" y="410.27" width="19" height="19.33" fill="#d0d8d0"/>
<rect x="604" y="410.27" width="19" height="19.33" fill="#f26f22"/>
<rect x="413" y="419.93" width="19" height="9.67" fill="#2898f0"/>
<rect x="528" y="419.93" width="19" height="9.67" fill="#ef4f23"/>
<rect x="547" y="419.93" width="19" height="9.67" fill="#ef5423"/>
<rect x="566" y="419.93" width="19" height="9.67" fill="#f3d07d"/>
<rect x="604" y="419.93" width="19" height="9.67" fill="#e0282a"/>
<line x1="394.2" y1="390.93" x2="623.40" y2="390.93" stroke="#2b3a44" stroke-width="0.7"/>
<line x1="394.2" y1="410.27" x2="623.40" y2="410.27" stroke="#2b3a44" stroke-width="0.7"/>
<rect x="394.2" y="371.6" width="229.20" height="58.00" fill="none" stroke="#555" stroke-width="0.7"/>
<line x1="623.40" y1="314.17" x2="626.00" y2="314.17" stroke="#555" stroke-width="0.5"/>
<text x="631.3" y="315.10" font-size="6.6" fill="#2a2a2a" textLength="16.6" lengthAdjust="spacingAndGlyphs">Rep1</text>
<line x1="623.40" y1="323.70" x2="626.00" y2="323.70" stroke="#555" stroke-width="0.5"/>
<text x="631.3" y="324.10" font-size="6.6" fill="#2a2a2a" textLength="16.6" lengthAdjust="spacingAndGlyphs">Rep2</text>
<line x1="623.40" y1="333.23" x2="626.00" y2="333.23" stroke="#555" stroke-width="0.5"/>
<text x="631.3" y="334.70" font-size="6.6" fill="#2a2a2a" textLength="16.6" lengthAdjust="spacingAndGlyphs">Rep1</text>
<line x1="623.40" y1="342.77" x2="626.00" y2="342.77" stroke="#555" stroke-width="0.5"/>
<text x="631.3" y="344.00" font-size="6.6" fill="#2a2a2a" textLength="16.6" lengthAdjust="spacingAndGlyphs">Rep2</text>
<line x1="623.40" y1="352.30" x2="626.00" y2="352.30" stroke="#555" stroke-width="0.5"/>
<text x="631.3" y="354.80" font-size="6.6" fill="#2a2a2a" textLength="16.6" lengthAdjust="spacingAndGlyphs">Rep1</text>
<line x1="623.40" y1="361.83" x2="626.00" y2="361.83" stroke="#555" stroke-width="0.5"/>
<text x="631.3" y="364.10" font-size="6.6" fill="#2a2a2a" textLength="16.6" lengthAdjust="spacingAndGlyphs">Rep2</text>
<line x1="623.40" y1="376.43" x2="626.00" y2="376.43" stroke="#555" stroke-width="0.5"/>
<text x="631.3" y="379.10" font-size="6.6" fill="#2a2a2a" textLength="16.6" lengthAdjust="spacingAndGlyphs">Rep1</text>
<line x1="623.40" y1="386.10" x2="626.00" y2="386.10" stroke="#555" stroke-width="0.5"/>
<text x="631.3" y="388.30" font-size="6.6" fill="#2a2a2a" textLength="16.6" lengthAdjust="spacingAndGlyphs">Rep2</text>
<line x1="623.40" y1="395.77" x2="626.00" y2="395.77" stroke="#555" stroke-width="0.5"/>
<text x="631.3" y="398.90" font-size="6.6" fill="#2a2a2a" textLength="16.6" lengthAdjust="spacingAndGlyphs">Rep1</text>
<line x1="623.40" y1="405.43" x2="626.00" y2="405.43" stroke="#555" stroke-width="0.5"/>
<text x="631.3" y="407.90" font-size="6.6" fill="#2a2a2a" textLength="16.6" lengthAdjust="spacingAndGlyphs">Rep2</text>
<line x1="623.40" y1="415.10" x2="626.00" y2="415.10" stroke="#555" stroke-width="0.5"/>
<text x="631.3" y="418.80" font-size="6.6" fill="#2a2a2a" textLength="16.6" lengthAdjust="spacingAndGlyphs">Rep1</text>
<line x1="623.40" y1="424.77" x2="626.00" y2="424.77" stroke="#555" stroke-width="0.5"/>
<text x="631.3" y="428.10" font-size="6.6" fill="#2a2a2a" textLength="16.6" lengthAdjust="spacingAndGlyphs">Rep2</text>
<text x="650.7" y="320.20" font-size="8.1" fill="#2a2a2a" textLength="29.8" lengthAdjust="spacingAndGlyphs">PreCAR</text>
<text x="650.7" y="339.90" font-size="8.1" fill="#2a2a2a" textLength="35.0" lengthAdjust="spacingAndGlyphs">PostCAR</text>
<text x="650.7" y="359.10" font-size="8.1" fill="#2a2a2a" textLength="25.4" lengthAdjust="spacingAndGlyphs">Tumor</text>
<text x="650.7" y="384.20" font-size="8.1" fill="#2a2a2a" textLength="29.8" lengthAdjust="spacingAndGlyphs">PreCAR</text>
<text x="650.7" y="404.10" font-size="8.1" fill="#2a2a2a" textLength="35.0" lengthAdjust="spacingAndGlyphs">PostCAR</text>
<text x="650.7" y="423.40" font-size="8.1" fill="#2a2a2a" textLength="25.4" lengthAdjust="spacingAndGlyphs">Tumor</text>
<text transform="translate(388.8,349) rotate(-90)" font-size="8.4" fill="#2a2a2a" textLength="22" lengthAdjust="spacingAndGlyphs">Naive</text>
<text transform="translate(388.8,416.6) rotate(-90)" font-size="8.4" fill="#2a2a2a" textLength="32.6" lengthAdjust="spacingAndGlyphs">Memory</text>
<text transform="translate(342.4,418) rotate(-90)" font-size="7.9" fill="#2a2a2a" textLength="100" lengthAdjust="spacingAndGlyphs">Relative ATAC-seq signal</text>
<text transform="translate(352.4,410.4) rotate(-90)" font-size="7.9" fill="#2a2a2a" textLength="85.5" lengthAdjust="spacingAndGlyphs">log<tspan font-size="5" dy="1.6">2</tspan><tspan dy="-1.6"> (FC) versus mean</tspan></text>
<defs><linearGradient id="gA" x1="0" y1="0" x2="0" y2="1"><stop offset="0" stop-color="#d7262b"/><stop offset="0.1" stop-color="#e8402a"/><stop offset="0.22" stop-color="#f68f1f"/><stop offset="0.32" stop-color="#fdb525"/><stop offset="0.42" stop-color="#efd89a"/><stop offset="0.5" stop-color="#d8d8cc"/><stop offset="0.6" stop-color="#a5d4ec"/><stop offset="0.72" stop-color="#35b2f9"/><stop offset="0.86" stop-color="#2389ee"/><stop offset="1" stop-color="#2b62d4"/></linearGradient><linearGradient id="gM" x1="0" y1="0" x2="0" y2="1"><stop offset="0" stop-color="#00441b"/><stop offset="0.12" stop-color="#0d6b2e"/><stop offset="0.3" stop-color="#2f974e"/><stop offset="0.5" stop-color="#73c375"/><stop offset="0.7" stop-color="#b5e1ae"/><stop offset="0.88" stop-color="#e3f4de"/><stop offset="1" stop-color="#f7fcf5"/></linearGradient></defs>
<rect x="358.9" y="349.1" width="9.8" height="41.0" fill="url(#gA)"/>
<text transform="translate(366.3,346.2) rotate(-90)" font-size="7.2" fill="#2a2a2a" text-anchor="start">+3</text>
<text transform="translate(366.3,393.2) rotate(-90)" font-size="7.2" fill="#2a2a2a" text-anchor="end">–3</text>
<text transform="translate(425.5,301.7) rotate(-90)" font-size="7.9" fill="#2a2a2a" textLength="51.1" lengthAdjust="spacingAndGlyphs">Naive biased</text>
<line x1="422.7" y1="303.4" x2="422.7" y2="309.4" stroke="#444" stroke-width="0.55"/>
<text transform="translate(502.1,301.7) rotate(-90)" font-size="7.9" fill="#2a2a2a" textLength="56.6" lengthAdjust="spacingAndGlyphs">In vitro biased</text>
<line x1="499.3" y1="303.4" x2="499.3" y2="309.4" stroke="#444" stroke-width="0.55"/>
<text transform="translate(578.0,301.7) rotate(-90)" font-size="7.9" fill="#2a2a2a" textLength="61.6" lengthAdjust="spacingAndGlyphs">Memory biased</text>
<line x1="575.2" y1="303.4" x2="575.2" y2="309.4" stroke="#444" stroke-width="0.55"/>
<text transform="translate(616.5999999999999,301.7) rotate(-90)" font-size="7.9" fill="#2a2a2a" textLength="59.6" lengthAdjust="spacingAndGlyphs">Tumor specific</text>
<line x1="613.8" y1="303.4" x2="613.8" y2="309.4" stroke="#444" stroke-width="0.55"/>
<text transform="translate(549.5,297.2) rotate(-90)" font-size="7.9" fill="#2a2a2a" textLength="64" lengthAdjust="spacingAndGlyphs">Memory/effector</text>
<path d="M537.2,309.4 V305.8 H556.4 V309.4 M546.8,305.8 V303.0" fill="none" stroke="#444" stroke-width="0.55"/>
<text x="403.55" y="441.0" font-size="6.7" fill="#2a2a2a" text-anchor="middle">1</text>
<text x="422.65" y="441.0" font-size="6.7" fill="#2a2a2a" text-anchor="middle">2</text>
<text x="441.75" y="441.0" font-size="6.7" fill="#2a2a2a" text-anchor="middle">3</text>
<text x="460.85" y="441.0" font-size="6.7" fill="#2a2a2a" text-anchor="middle">4</text>
<text x="479.95" y="441.0" font-size="6.7" fill="#2a2a2a" text-anchor="middle">5</text>
<text x="499.05" y="441.0" font-size="6.7" fill="#2a2a2a" text-anchor="middle">6</text>
<text x="518.15" y="441.0" font-size="6.7" fill="#2a2a2a" text-anchor="middle">7</text>
<text x="537.25" y="441.0" font-size="6.7" fill="#2a2a2a" text-anchor="middle">8</text>
<text x="556.35" y="441.0" font-size="6.7" fill="#2a2a2a" text-anchor="middle">9</text>
<text x="575.45" y="441.0" font-size="6.7" fill="#2a2a2a" text-anchor="middle">10</text>
<text x="594.55" y="441.0" font-size="6.7" fill="#2a2a2a" text-anchor="middle">11</text>
<text x="613.65" y="441.0" font-size="6.7" fill="#2a2a2a" text-anchor="middle">12</text>
<text x="625.2" y="440.2" font-size="8.1" fill="#2a2a2a" textLength="27.6" lengthAdjust="spacingAndGlyphs">Cluster</text>
<rect x="393.7" y="447.4" width="228.96" height="345.42" fill="#f7fcf5"/>
<rect x="394" y="447.40" width="19" height="345.42" fill="#e8f5e3"/>
<rect x="413" y="447.40" width="19" height="345.42" fill="#0f7a35"/>
<rect x="432" y="447.40" width="19" height="345.42" fill="#2c9449"/>
<rect x="451" y="447.40" width="133" height="345.42" fill="#f7fcf5"/>
<rect x="584" y="447.40" width="20" height="345.42" fill="#eef8ea"/>
<rect x="604" y="447.40" width="19" height="345.42" fill="#f7fcf5"/>
<rect x="394" y="451.94" width="19" height="340.87" fill="#eef8ea"/>
<rect x="413" y="451.94" width="38" height="340.87" fill="#00441b"/>
<rect x="584" y="451.94" width="20" height="340.87" fill="#f0f9ed"/>
<rect x="394" y="456.49" width="19" height="336.33" fill="#f2faef"/>
<rect x="394" y="461.03" width="19" height="331.78" fill="#f7fcf5"/>
<rect x="451" y="461.03" width="172" height="331.78" fill="#f7fcf5"/>
<rect x="394" y="465.58" width="57" height="327.24" fill="#f7fcf5"/>
<rect x="451" y="465.58" width="19" height="327.24" fill="#e3f3de"/>
<rect x="470" y="465.58" width="19" height="327.24" fill="#00441b"/>
<rect x="489" y="465.58" width="19" height="327.24" fill="#8fd08c"/>
<rect x="508" y="465.58" width="19" height="327.24" fill="#e8f5e3"/>
<rect x="546" y="465.58" width="19" height="327.24" fill="#f2faef"/>
<rect x="565" y="465.58" width="19" height="327.24" fill="#74c476"/>
<rect x="489" y="470.12" width="19" height="322.69" fill="#3fa65a"/>
<rect x="508" y="470.12" width="19" height="322.69" fill="#eaf7e6"/>
<rect x="451" y="474.67" width="19" height="318.15" fill="#e5f5e0"/>
<rect x="489" y="474.67" width="19" height="318.15" fill="#5db96b"/>
<rect x="508" y="474.67" width="19" height="318.15" fill="#eef8ea"/>
<rect x="527" y="474.67" width="19" height="318.15" fill="#f2faef"/>
<rect x="546" y="474.67" width="19" height="318.15" fill="#f0f9ed"/>
<rect x="565" y="474.67" width="19" height="318.15" fill="#4fb264"/>
<rect x="451" y="479.21" width="19" height="313.60" fill="#edf8e9"/>
<rect x="470" y="479.21" width="19" height="313.60" fill="#00481d"/>
<rect x="489" y="479.21" width="19" height="313.60" fill="#78c679"/>
<rect x="508" y="479.21" width="19" height="313.60" fill="#f2faef"/>
<rect x="527" y="479.21" width="38" height="313.60" fill="#f7fcf5"/>
<rect x="565" y="479.21" width="19" height="313.60" fill="#6cc173"/>
<rect x="451" y="483.76" width="19" height="309.06" fill="#9dd798"/>
<rect x="470" y="483.76" width="19" height="309.06" fill="#a1d99b"/>
<rect x="489" y="483.76" width="19" height="309.06" fill="#00441b"/>
<rect x="508" y="483.76" width="115" height="309.06" fill="#f7fcf5"/>
<rect x="451" y="488.30" width="19" height="304.51" fill="#5bb86a"/>
<rect x="470" y="488.30" width="19" height="304.51" fill="#9ed798"/>
<rect x="489" y="488.30" width="19" height="304.51" fill="#00461c"/>
<rect x="451" y="492.85" width="19" height="299.97" fill="#f0f9ed"/>
<rect x="470" y="492.85" width="19" height="299.97" fill="#edf8e9"/>
<rect x="489" y="492.85" width="19" height="299.97" fill="#5cb86a"/>
<rect x="508" y="492.85" width="19" height="299.97" fill="#e8f5e3"/>
<rect x="565" y="492.85" width="19" height="299.97" fill="#f2faef"/>
<rect x="584" y="492.85" width="20" height="299.97" fill="#e8f5e3"/>
<rect x="451" y="497.39" width="19" height="295.42" fill="#c7e9c0"/>
<rect x="470" y="497.39" width="19" height="295.42" fill="#d9f0d3"/>
<rect x="489" y="497.39" width="19" height="295.42" fill="#3ba458"/>
<rect x="508" y="497.39" width="115" height="295.42" fill="#f7fcf5"/>
<rect x="451" y="501.94" width="19" height="290.88" fill="#e8f5e3"/>
<rect x="489" y="501.94" width="19" height="290.88" fill="#0b7734"/>
<rect x="565" y="501.94" width="19" height="290.88" fill="#eff9ec"/>
<rect x="451" y="506.48" width="19" height="286.33" fill="#c7e9c0"/>
<rect x="470" y="506.48" width="19" height="286.33" fill="#d5efcf"/>
<rect x="489" y="506.48" width="19" height="286.33" fill="#17813d"/>
<rect x="508" y="506.48" width="115" height="286.33" fill="#f7fcf5"/>
<rect x="394" y="511.03" width="19" height="281.79" fill="#74c476"/>
<rect x="413" y="511.03" width="76" height="281.79" fill="#f7fcf5"/>
<rect x="489" y="511.03" width="19" height="281.79" fill="#a1d99b"/>
<rect x="508" y="511.03" width="19" height="281.79" fill="#00441b"/>
<rect x="394" y="515.57" width="19" height="277.25" fill="#2a924a"/>
<rect x="394" y="520.12" width="19" height="272.70" fill="#1a8340"/>
<rect x="394" y="524.66" width="19" height="268.15" fill="#4aaf61"/>
<rect x="489" y="524.66" width="19" height="268.15" fill="#c7e9c0"/>
<rect x="394" y="529.21" width="19" height="263.61" fill="#2f974e"/>
<rect x="489" y="529.21" width="19" height="263.61" fill="#d0ecc9"/>
<rect x="508" y="529.21" width="19" height="263.61" fill="#00491e"/>
<rect x="394" y="533.75" width="19" height="259.06" fill="#eef8ea"/>
<rect x="489" y="533.75" width="19" height="259.06" fill="#d5efcf"/>
<rect x="508" y="533.75" width="19" height="259.06" fill="#0f7a35"/>
<rect x="527" y="533.75" width="19" height="259.06" fill="#b4e1ad"/>
<rect x="546" y="533.75" width="19" height="259.06" fill="#a5db9f"/>
<rect x="565" y="533.75" width="19" height="259.06" fill="#eef8ea"/>
<rect x="394" y="538.30" width="19" height="254.52" fill="#f0f9ed"/>
<rect x="489" y="538.30" width="19" height="254.52" fill="#dcf1d6"/>
<rect x="508" y="538.30" width="19" height="254.52" fill="#00441b"/>
<rect x="527" y="538.30" width="19" height="254.52" fill="#eef8ea"/>
<rect x="546" y="538.30" width="19" height="254.52" fill="#e8f5e3"/>
<rect x="565" y="538.30" width="19" height="254.52" fill="#f0f9ed"/>
<rect x="604" y="538.30" width="19" height="254.52" fill="#f0f9ed"/>
<rect x="394" y="542.85" width="19" height="249.97" fill="#c7e9c0"/>
<rect x="489" y="542.85" width="19" height="249.97" fill="#e3f4de"/>
<rect x="508" y="542.85" width="19" height="249.97" fill="#60ba6c"/>
<rect x="527" y="542.85" width="96" height="249.97" fill="#f7fcf5"/>
<rect x="394" y="547.39" width="19" height="245.43" fill="#a8dca2"/>
<rect x="489" y="547.39" width="19" height="245.43" fill="#e5f5e0"/>
<rect x="508" y="547.39" width="19" height="245.43" fill="#00501f"/>
<rect x="604" y="547.39" width="19" height="245.43" fill="#f2faef"/>
<rect x="394" y="551.93" width="19" height="240.88" fill="#b0dfaa"/>
<rect x="489" y="551.93" width="19" height="240.88" fill="#eaf7e6"/>
<rect x="508" y="551.93" width="19" height="240.88" fill="#0d7735"/>
<rect x="527" y="551.93" width="96" height="240.88" fill="#f7fcf5"/>
<rect x="394" y="556.48" width="38" height="236.34" fill="#f7fcf5"/>
<rect x="432" y="556.48" width="19" height="236.34" fill="#63bc6e"/>
<rect x="451" y="556.48" width="133" height="236.34" fill="#f7fcf5"/>
<rect x="584" y="556.48" width="20" height="236.34" fill="#b4e1ad"/>
<rect x="394" y="561.02" width="76" height="231.79" fill="#f7fcf5"/>
<rect x="470" y="561.02" width="19" height="231.79" fill="#f0f9ed"/>
<rect x="508" y="561.02" width="19" height="231.79" fill="#f0f9ed"/>
<rect x="527" y="561.02" width="19" height="231.79" fill="#a1d99b"/>
<rect x="584" y="561.02" width="20" height="231.79" fill="#17813d"/>
<rect x="394" y="565.57" width="114" height="227.25" fill="#f7fcf5"/>
<rect x="508" y="565.57" width="19" height="227.25" fill="#dcf1d6"/>
<rect x="584" y="565.57" width="20" height="227.25" fill="#41ab5d"/>
<rect x="394" y="570.12" width="19" height="222.70" fill="#3aa357"/>
<rect x="413" y="570.12" width="19" height="222.70" fill="#8dcf8a"/>
<rect x="432" y="570.12" width="19" height="222.70" fill="#c7e9c0"/>
<rect x="451" y="570.12" width="19" height="222.70" fill="#7dc87f"/>
<rect x="470" y="570.12" width="114" height="222.70" fill="#f7fcf5"/>
<rect x="584" y="570.12" width="20" height="222.70" fill="#e8f5e3"/>
<rect x="394" y="574.66" width="19" height="218.16" fill="#40a85b"/>
<rect x="413" y="574.66" width="19" height="218.16" fill="#5fba6c"/>
<rect x="432" y="574.66" width="19" height="218.16" fill="#d9f0d3"/>
<rect x="451" y="574.66" width="19" height="218.16" fill="#c7e9c0"/>
<rect x="584" y="574.66" width="20" height="218.16" fill="#e3f4de"/>
<rect x="394" y="579.20" width="19" height="213.62" fill="#3da559"/>
<rect x="413" y="579.20" width="19" height="213.62" fill="#a1d99b"/>
<rect x="432" y="579.20" width="19" height="213.62" fill="#c7e9c0"/>
<rect x="451" y="579.20" width="19" height="213.62" fill="#c2e7bb"/>
<rect x="584" y="579.20" width="20" height="213.62" fill="#e0f3db"/>
<rect x="394" y="583.75" width="19" height="209.07" fill="#2c944a"/>
<rect x="413" y="583.75" width="19" height="209.07" fill="#74c476"/>
<rect x="432" y="583.75" width="19" height="209.07" fill="#cdebc6"/>
<rect x="451" y="583.75" width="19" height="209.07" fill="#b5e1ae"/>
<rect x="584" y="583.75" width="20" height="209.07" fill="#e8f5e3"/>
<rect x="394" y="588.29" width="19" height="204.52" fill="#44ab5e"/>
<rect x="413" y="588.29" width="19" height="204.52" fill="#3aa357"/>
<rect x="432" y="588.29" width="19" height="204.52" fill="#b9e3b2"/>
<rect x="451" y="588.29" width="19" height="204.52" fill="#a8dca2"/>
<rect x="584" y="588.29" width="20" height="204.52" fill="#eef8ea"/>
<rect x="394" y="592.84" width="19" height="199.98" fill="#2f974e"/>
<rect x="413" y="592.84" width="19" height="199.98" fill="#5cb86a"/>
<rect x="432" y="592.84" width="19" height="199.98" fill="#8dcf8a"/>
<rect x="451" y="592.84" width="19" height="199.98" fill="#a1d99b"/>
<rect x="584" y="592.84" width="20" height="199.98" fill="#eaf7e6"/>
<rect x="394" y="597.38" width="19" height="195.43" fill="#3ca458"/>
<rect x="432" y="597.38" width="19" height="195.43" fill="#6cc173"/>
<rect x="451" y="597.38" width="19" height="195.43" fill="#c7e9c0"/>
<rect x="584" y="597.38" width="20" height="195.43" fill="#e5f5e0"/>
<rect x="394" y="601.93" width="19" height="190.89" fill="#4fb264"/>
<rect x="413" y="601.93" width="19" height="190.89" fill="#b9e3b2"/>
<rect x="432" y="601.93" width="19" height="190.89" fill="#a8dca2"/>
<rect x="451" y="601.93" width="19" height="190.89" fill="#e5f5e0"/>
<rect x="584" y="601.93" width="20" height="190.89" fill="#d9f0d3"/>
<rect x="394" y="606.47" width="19" height="186.35" fill="#98d594"/>
<rect x="413" y="606.47" width="19" height="186.35" fill="#4fb264"/>
<rect x="432" y="606.47" width="19" height="186.35" fill="#b9e3b2"/>
<rect x="451" y="606.47" width="19" height="186.35" fill="#dcf1d6"/>
<rect x="584" y="606.47" width="20" height="186.35" fill="#e5f5e0"/>
<rect x="394" y="611.02" width="19" height="181.80" fill="#a8dca2"/>
<rect x="413" y="611.02" width="19" height="181.80" fill="#74c476"/>
<rect x="432" y="611.02" width="19" height="181.80" fill="#cdebc6"/>
<rect x="451" y="611.02" width="19" height="181.80" fill="#d0ecc9"/>
<rect x="584" y="611.02" width="20" height="181.80" fill="#e0f3db"/>
<rect x="394" y="615.56" width="19" height="177.25" fill="#00441b"/>
<rect x="413" y="615.56" width="19" height="177.25" fill="#b4e1ad"/>
<rect x="432" y="615.56" width="19" height="177.25" fill="#dcf1d6"/>
<rect x="451" y="615.56" width="19" height="177.25" fill="#b4e1ad"/>
<rect x="584" y="615.56" width="20" height="177.25" fill="#e8f5e3"/>
<rect x="394" y="620.11" width="19" height="172.71" fill="#7dc87f"/>
<rect x="413" y="620.11" width="19" height="172.71" fill="#f0f9ed"/>
<rect x="432" y="620.11" width="19" height="172.71" fill="#f7fcf5"/>
<rect x="451" y="620.11" width="19" height="172.71" fill="#eaf7e6"/>
<rect x="508" y="620.11" width="19" height="172.71" fill="#f0f9ed"/>
<rect x="527" y="620.11" width="77" height="172.71" fill="#f7fcf5"/>
<rect x="604" y="620.11" width="19" height="172.71" fill="#dcf1d6"/>
<rect x="413" y="624.65" width="19" height="168.16" fill="#f2faef"/>
<rect x="451" y="624.65" width="19" height="168.16" fill="#eef8ea"/>
<rect x="470" y="624.65" width="134" height="168.16" fill="#f7fcf5"/>
<rect x="604" y="624.65" width="19" height="168.16" fill="#e3f4de"/>
<rect x="394" y="629.20" width="19" height="163.62" fill="#2c944a"/>
<rect x="413" y="629.20" width="19" height="163.62" fill="#c7e9c0"/>
<rect x="432" y="629.20" width="19" height="163.62" fill="#eff9ec"/>
<rect x="451" y="629.20" width="19" height="163.62" fill="#f0f9ed"/>
<rect x="508" y="629.20" width="19" height="163.62" fill="#e5f5e0"/>
<rect x="604" y="629.20" width="19" height="163.62" fill="#e8f5e3"/>
<rect x="394" y="633.75" width="19" height="159.07" fill="#3aa357"/>
<rect x="413" y="633.75" width="19" height="159.07" fill="#dff2da"/>
<rect x="432" y="633.75" width="38" height="159.07" fill="#f2faef"/>
<rect x="604" y="633.75" width="19" height="159.07" fill="#e0f3db"/>
<rect x="394" y="638.29" width="95" height="154.53" fill="#f7fcf5"/>
<rect x="489" y="638.29" width="19" height="154.53" fill="#eef8ea"/>
<rect x="508" y="638.29" width="19" height="154.53" fill="#f7fcf5"/>
<rect x="527" y="638.29" width="19" height="154.53" fill="#e0f3db"/>
<rect x="546" y="638.29" width="19" height="154.53" fill="#0a7232"/>
<rect x="565" y="638.29" width="19" height="154.53" fill="#00461c"/>
<rect x="604" y="638.29" width="19" height="154.53" fill="#f0f9ed"/>
<rect x="527" y="642.84" width="19" height="149.98" fill="#dcf1d6"/>
<rect x="546" y="642.84" width="38" height="149.98" fill="#00441b"/>
<rect x="584" y="642.84" width="39" height="149.98" fill="#f7fcf5"/>
<rect x="394" y="647.38" width="133" height="145.44" fill="#f7fcf5"/>
<rect x="527" y="647.38" width="19" height="145.44" fill="#c7e9c0"/>
<rect x="546" y="647.38" width="19" height="145.44" fill="#2c944a"/>
<rect x="489" y="651.92" width="19" height="140.89" fill="#e5f5e0"/>
<rect x="527" y="651.92" width="19" height="140.89" fill="#e8f5e3"/>
<rect x="546" y="651.92" width="19" height="140.89" fill="#1a8340"/>
<rect x="394" y="656.47" width="133" height="136.35" fill="#f7fcf5"/>
<rect x="527" y="656.47" width="19" height="136.35" fill="#f5fbf2"/>
<rect x="546" y="656.47" width="19" height="136.35" fill="#238b45"/>
<rect x="527" y="661.01" width="57" height="131.80" fill="#00441b"/>
<rect x="604" y="661.01" width="19" height="131.80" fill="#eaf7e6"/>
<rect x="604" y="665.56" width="19" height="127.26" fill="#c7e9c0"/>
<rect x="604" y="670.11" width="19" height="122.71" fill="#8dcf8a"/>
<rect x="489" y="674.65" width="19" height="118.17" fill="#e8f5e3"/>
<rect x="604" y="674.65" width="19" height="118.17" fill="#74c476"/>
<rect x="604" y="679.19" width="19" height="113.62" fill="#4fb264"/>
<rect x="394" y="683.74" width="133" height="109.08" fill="#f7fcf5"/>
<rect x="604" y="683.74" width="19" height="109.08" fill="#5cb86a"/>
<rect x="489" y="688.28" width="19" height="104.53" fill="#e5f5e0"/>
<rect x="604" y="688.28" width="19" height="104.53" fill="#3aa357"/>
<rect x="604" y="692.83" width="19" height="99.99" fill="#238b45"/>
<rect x="604" y="697.38" width="19" height="95.44" fill="#2c944a"/>
<rect x="394" y="701.92" width="19" height="90.90" fill="#f2faef"/>
<rect x="413" y="701.92" width="95" height="90.90" fill="#f7fcf5"/>
<rect x="508" y="701.92" width="19" height="90.90" fill="#2c944a"/>
<rect x="527" y="701.92" width="19" height="90.90" fill="#238b45"/>
<rect x="546" y="701.92" width="19" height="90.90" fill="#eef8ea"/>
<rect x="565" y="701.92" width="19" height="90.90" fill="#f7fcf5"/>
<rect x="584" y="701.92" width="20" height="90.90" fill="#a8dca2"/>
<rect x="604" y="701.92" width="19" height="90.90" fill="#00441b"/>
<rect x="394" y="706.46" width="114" height="86.36" fill="#f7fcf5"/>
<rect x="508" y="706.46" width="38" height="86.36" fill="#00441b"/>
<rect x="546" y="706.46" width="19" height="86.36" fill="#e8f5e3"/>
<rect x="584" y="706.46" width="20" height="86.36" fill="#6cc173"/>
<rect x="546" y="711.01" width="19" height="81.81" fill="#d0ecc9"/>
<rect x="584" y="711.01" width="20" height="81.81" fill="#a1d99b"/>
<rect x="546" y="715.55" width="19" height="77.26" fill="#e5f5e0"/>
<rect x="584" y="715.55" width="20" height="77.26" fill="#b4e1ad"/>
<rect x="546" y="720.10" width="19" height="72.72" fill="#d9f0d3"/>
<rect x="394" y="724.64" width="152" height="68.17" fill="#f7fcf5"/>
<rect x="546" y="724.64" width="19" height="68.17" fill="#dcf1d6"/>
<rect x="584" y="724.64" width="20" height="68.17" fill="#f0f9ed"/>
<rect x="394" y="729.19" width="19" height="63.63" fill="#eef8ea"/>
<rect x="546" y="729.19" width="19" height="63.63" fill="#c7e9c0"/>
<rect x="584" y="729.19" width="20" height="63.63" fill="#f2faef"/>
<rect x="394" y="733.73" width="19" height="59.09" fill="#b9e3b2"/>
<rect x="527" y="733.73" width="38" height="59.09" fill="#f0f9ed"/>
<rect x="394" y="738.28" width="19" height="54.54" fill="#d0ecc9"/>
<rect x="565" y="738.28" width="39" height="54.54" fill="#f7fcf5"/>
<rect x="394" y="742.83" width="19" height="49.99" fill="#d5efcf"/>
<rect x="413" y="742.83" width="133" height="49.99" fill="#f7fcf5"/>
<rect x="394" y="747.37" width="19" height="45.45" fill="#b9e3b2"/>
<rect x="413" y="747.37" width="19" height="45.45" fill="#e5f5e0"/>
<rect x="432" y="747.37" width="19" height="45.45" fill="#eef8ea"/>
<rect x="584" y="747.37" width="20" height="45.45" fill="#dcf1d6"/>
<rect x="604" y="747.37" width="19" height="45.45" fill="#2c944a"/>
<rect x="394" y="751.91" width="152" height="40.90" fill="#f7fcf5"/>
<rect x="546" y="751.91" width="19" height="40.90" fill="#e5f5e0"/>
<rect x="565" y="751.91" width="39" height="40.90" fill="#f7fcf5"/>
<rect x="604" y="751.91" width="19" height="40.90" fill="#3aa357"/>
<rect x="489" y="756.46" width="19" height="36.36" fill="#f0f9ed"/>
<rect x="604" y="756.46" width="19" height="36.36" fill="#41ab5d"/>
<rect x="394" y="761.00" width="19" height="31.81" fill="#eef8ea"/>
<rect x="413" y="761.00" width="95" height="31.81" fill="#f7fcf5"/>
<rect x="508" y="761.00" width="19" height="31.81" fill="#f0f9ed"/>
<rect x="546" y="761.00" width="19" height="31.81" fill="#f0f9ed"/>
<rect x="604" y="761.00" width="19" height="31.81" fill="#3aa357"/>
<rect x="527" y="765.55" width="77" height="27.27" fill="#f7fcf5"/>
<rect x="604" y="765.55" width="19" height="27.27" fill="#5cb86a"/>
<rect x="394" y="770.10" width="114" height="22.72" fill="#f7fcf5"/>
<rect x="604" y="770.10" width="19" height="22.72" fill="#2c944a"/>
<rect x="394" y="774.64" width="19" height="18.18" fill="#eaf7e6"/>
<rect x="413" y="774.64" width="191" height="18.18" fill="#f7fcf5"/>
<rect x="604" y="774.64" width="19" height="18.18" fill="#3aa357"/>
<rect x="394" y="779.18" width="133" height="13.63" fill="#f7fcf5"/>
<rect x="527" y="779.18" width="19" height="13.63" fill="#00441b"/>
<rect x="546" y="779.18" width="19" height="13.63" fill="#e5f5e0"/>
<rect x="604" y="779.18" width="19" height="13.63" fill="#00441b"/>
<rect x="394" y="783.73" width="19" height="9.09" fill="#f0f9ed"/>
<rect x="527" y="783.73" width="19" height="9.09" fill="#41ab5d"/>
<rect x="546" y="783.73" width="38" height="9.09" fill="#f7fcf5"/>
<rect x="584" y="783.73" width="20" height="9.09" fill="#b4e1ad"/>
<rect x="508" y="788.27" width="19" height="4.54" fill="#b4e1ad"/>
<rect x="527" y="788.27" width="19" height="4.54" fill="#a1d99b"/>
<rect x="584" y="788.27" width="20" height="4.54" fill="#c7e9c0"/>
<rect x="604" y="788.27" width="19" height="4.54" fill="#17813d"/>
<rect x="393.7" y="447.4" width="228.96" height="345.42" fill="none" stroke="#8a8a8a" stroke-width="0.7"/>
<text transform="translate(626.0,451.42) rotate(0.05)" font-size="5.05" fill="#1a1a1a">HMG (TCFL2)</text>
<text transform="translate(626.0,455.97) rotate(0.05)" font-size="5.05" fill="#1a1a1a">HMG (LEF1)</text>
<text transform="translate(626.0,460.51) rotate(0.05)" font-size="5.05" fill="#1a1a1a">HMG (TCF3)</text>
<text transform="translate(626.0,465.06) rotate(0.05)" font-size="5.05" fill="#1a1a1a">HMG (TCF7)</text>
<text transform="translate(626.0,469.60) rotate(0.05)" font-size="5.05" fill="#1a1a1a">Runt (RUNX-AML)</text>
<text transform="translate(626.0,474.15) rotate(0.05)" font-size="5.05" fill="#1a1a1a">Runt (RUNX1)</text>
<text transform="translate(626.0,478.69) rotate(0.05)" font-size="5.05" fill="#1a1a1a">Runt (RUNX)</text>
<text transform="translate(626.0,483.24) rotate(0.05)" font-size="5.05" fill="#1a1a1a">Runt (RUNX2)</text>
<text transform="translate(626.0,487.78) rotate(0.05)" font-size="5.05" fill="#1a1a1a">Stat (STAT1)</text>
<text transform="translate(626.0,492.33) rotate(0.05)" font-size="5.05" fill="#1a1a1a">Stat (STAT5)</text>
<text transform="translate(626.0,496.87) rotate(0.05)" font-size="5.05" fill="#1a1a1a">Zf (CTCF)</text>
<text transform="translate(626.0,501.42) rotate(0.05)" font-size="5.05" fill="#1a1a1a">Stat (STAT3 + IL-21)</text>
<text transform="translate(626.0,505.96) rotate(0.05)" font-size="5.05" fill="#1a1a1a">Stat (STAT3)</text>
<text transform="translate(626.0,510.51) rotate(0.05)" font-size="5.05" fill="#1a1a1a">Stat (STAT4)</text>
<text transform="translate(626.0,515.05) rotate(0.05)" font-size="5.05" fill="#1a1a1a">IRF (ISRE)</text>
<text transform="translate(626.0,519.60) rotate(0.05)" font-size="5.05" fill="#1a1a1a">IRF (IRF1)</text>
<text transform="translate(626.0,524.14) rotate(0.05)" font-size="5.05" fill="#1a1a1a">IRF (IRF2)</text>
<text transform="translate(626.0,528.69) rotate(0.05)" font-size="5.05" fill="#1a1a1a">IRF (IRF3)</text>
<text transform="translate(626.0,533.23) rotate(0.05)" font-size="5.05" fill="#1a1a1a">IRF (IRF8)</text>
<text transform="translate(626.0,537.78) rotate(0.05)" font-size="5.05" fill="#1a1a1a">bZIP, IRF (bZIP:IRF)</text>
<text transform="translate(626.0,542.32) rotate(0.05)" font-size="5.05" fill="#1a1a1a">IRF (IRF4)</text>
<text transform="translate(626.0,546.87) rotate(0.05)" font-size="5.05" fill="#1a1a1a">ETS:IRF (PU.1:IRF)</text>
<text transform="translate(626.0,551.41) rotate(0.05)" font-size="5.05" fill="#1a1a1a">ETS:IRF (PU.1:IRF8)</text>
<text transform="translate(626.0,555.96) rotate(0.05)" font-size="5.05" fill="#1a1a1a">Zf (PRDM1)</text>
<text transform="translate(626.0,560.50) rotate(0.05)" font-size="5.05" fill="#1a1a1a">Forkhead (Foxo3)</text>
<text transform="translate(626.0,565.05) rotate(0.05)" font-size="5.05" fill="#1a1a1a">RHD (NF-κB-p65-Rel)</text>
<text transform="translate(626.0,569.59) rotate(0.05)" font-size="5.05" fill="#1a1a1a">RHD (NF-κB-p65)</text>
<text transform="translate(626.0,574.14) rotate(0.05)" font-size="5.05" fill="#1a1a1a">ETS (ETV2)</text>
<text transform="translate(626.0,578.68) rotate(0.05)" font-size="5.05" fill="#1a1a1a">ETS (EWS:ERG-fusion)</text>
<text transform="translate(626.0,583.23) rotate(0.05)" font-size="5.05" fill="#1a1a1a">ETS (ETV4)</text>
<text transform="translate(626.0,587.77) rotate(0.05)" font-size="5.05" fill="#1a1a1a">ETS (FLI1)</text>
<text transform="translate(626.0,592.32) rotate(0.05)" font-size="5.05" fill="#1a1a1a">ETS (ERG)</text>
<text transform="translate(626.0,596.86) rotate(0.05)" font-size="5.05" fill="#1a1a1a">ETS (ETV1)</text>
<text transform="translate(626.0,601.41) rotate(0.05)" font-size="5.05" fill="#1a1a1a">ETS (GABPA)</text>
<text transform="translate(626.0,605.95) rotate(0.05)" font-size="5.05" fill="#1a1a1a">ETS (ETS1-distal)</text>
<text transform="translate(626.0,610.50) rotate(0.05)" font-size="5.05" fill="#1a1a1a">ETS (EHF)</text>
<text transform="translate(626.0,615.04) rotate(0.05)" font-size="5.05" fill="#1a1a1a">ETS (ELF4)</text>
<text transform="translate(626.0,619.59) rotate(0.05)" font-size="5.05" fill="#1a1a1a">ETS (ETS1)</text>
<text transform="translate(626.0,624.13) rotate(0.05)" font-size="5.05" fill="#1a1a1a">bHLH (ASCL1)</text>
<text transform="translate(626.0,628.68) rotate(0.05)" font-size="5.05" fill="#1a1a1a">bHLH (TCF21)</text>
<text transform="translate(626.0,633.22) rotate(0.05)" font-size="5.05" fill="#1a1a1a">bHLH (E2A)</text>
<text transform="translate(626.0,637.77) rotate(0.05)" font-size="5.05" fill="#1a1a1a">bHLH (HEB)</text>
<text transform="translate(626.0,642.31) rotate(0.05)" font-size="5.05" fill="#1a1a1a">bZIP (BACH1)</text>
<text transform="translate(626.0,646.86) rotate(0.05)" font-size="5.05" fill="#1a1a1a">bZIP (NF-E2)</text>
<text transform="translate(626.0,651.40) rotate(0.05)" font-size="5.05" fill="#1a1a1a">bZIP (MAFK)</text>
<text transform="translate(626.0,655.95) rotate(0.05)" font-size="5.05" fill="#1a1a1a">bZIP (NFE2L2)</text>
<text transform="translate(626.0,660.49) rotate(0.05)" font-size="5.05" fill="#1a1a1a">bZIP (NRF2)</text>
<text transform="translate(626.0,665.04) rotate(0.05)" font-size="5.05" fill="#1a1a1a">bZIP (BACH2)</text>
<text transform="translate(626.0,669.58) rotate(0.05)" font-size="5.05" fill="#1a1a1a">bZIP (JUN-AP1)</text>
<text transform="translate(626.0,674.13) rotate(0.05)" font-size="5.05" fill="#1a1a1a">bZIP (FOSL2)</text>
<text transform="translate(626.0,678.67) rotate(0.05)" font-size="5.05" fill="#1a1a1a">bZIP (FRA2)</text>
<text transform="translate(626.0,683.22) rotate(0.05)" font-size="5.05" fill="#1a1a1a">bZIP (FRA1)</text>
<text transform="translate(626.0,687.76) rotate(0.05)" font-size="5.05" fill="#1a1a1a">bZIP (JUNB)</text>
<text transform="translate(626.0,692.31) rotate(0.05)" font-size="5.05" fill="#1a1a1a">bZIP (ATF3)</text>
<text transform="translate(626.0,696.85) rotate(0.05)" font-size="5.05" fill="#1a1a1a">bZIP (AP-1)</text>
<text transform="translate(626.0,701.40) rotate(0.05)" font-size="5.05" fill="#1a1a1a">bZIP (BATF)</text>
<text transform="translate(626.0,705.94) rotate(0.05)" font-size="5.05" fill="#1a1a1a">T-box (EOMES)</text>
<text transform="translate(626.0,710.49) rotate(0.05)" font-size="5.05" fill="#1a1a1a">T-box (TBX6)</text>
<text transform="translate(626.0,715.03) rotate(0.05)" font-size="5.05" fill="#1a1a1a">T-box (T-bet)</text>
<text transform="translate(626.0,719.58) rotate(0.05)" font-size="5.05" fill="#1a1a1a">T-box (TBR1)</text>
<text transform="translate(626.0,724.12) rotate(0.05)" font-size="5.05" fill="#1a1a1a">T-box (TBX21)</text>
<text transform="translate(626.0,728.67) rotate(0.05)" font-size="5.05" fill="#1a1a1a">NR (ESRRB)</text>
<text transform="translate(626.0,733.21) rotate(0.05)" font-size="5.05" fill="#1a1a1a">NR (NUR77)</text>
<text transform="translate(626.0,737.76) rotate(0.05)" font-size="5.05" fill="#1a1a1a">Zf (EGR2)</text>
<text transform="translate(626.0,742.30) rotate(0.05)" font-size="5.05" fill="#1a1a1a">Zf (EGR1)</text>
<text transform="translate(626.0,746.85) rotate(0.05)" font-size="5.05" fill="#1a1a1a">Zf (WT1)</text>
<text transform="translate(626.0,751.39) rotate(0.05)" font-size="5.05" fill="#1a1a1a">Zf (KLF14)</text>
<text transform="translate(626.0,755.94) rotate(0.05)" font-size="5.05" fill="#1a1a1a">NR (COUP-TFII)</text>
<text transform="translate(626.0,760.48) rotate(0.05)" font-size="5.05" fill="#1a1a1a">NR (EAR2)</text>
<text transform="translate(626.0,765.03) rotate(0.05)" font-size="5.05" fill="#1a1a1a">POU, homeobox (OCT4)</text>
<text transform="translate(626.0,769.57) rotate(0.05)" font-size="5.05" fill="#1a1a1a">POU, homeobox (OCT6)</text>
<text transform="translate(626.0,774.12) rotate(0.05)" font-size="5.05" fill="#1a1a1a">POU, homeobox (BRN1)</text>
<text transform="translate(626.0,778.66) rotate(0.05)" font-size="5.05" fill="#1a1a1a">POU, homeobox (OCT2)</text>
<text transform="translate(626.0,783.21) rotate(0.05)" font-size="5.05" fill="#1a1a1a">RHD, bZIP (NFAT:AP1)</text>
<text transform="translate(626.0,787.75) rotate(0.05)" font-size="5.05" fill="#1a1a1a">RHD (NFAT)</text>
<text transform="translate(626.0,792.30) rotate(0.05)" font-size="5.05" fill="#1a1a1a">T-box (TBX5)</text>
<text transform="translate(342.4,528.4) rotate(-90)" font-size="7.9" fill="#2a2a2a" textLength="68.7" lengthAdjust="spacingAndGlyphs">Motif enrichment</text>
<text transform="translate(353.2,522.4) rotate(-90)" font-size="7.9" fill="#2a2a2a" textLength="56" lengthAdjust="spacingAndGlyphs">log<tspan font-size="5" dy="1.6">10</tspan><tspan dy="-1.6"> (</tspan><tspan font-style="italic">P</tspan> value)</text>
<rect x="358.6" y="476.4" width="9.9" height="41.0" fill="url(#gM)" stroke="#9a9a9a" stroke-width="0.4"/>
<text x="368.8" y="472.8" font-size="7.6" fill="#2a2a2a" text-anchor="end">–30</text>
<text transform="translate(366.2,524.6) rotate(-90)" font-size="7.6" fill="#2a2a2a" text-anchor="middle">0</text>
<text x="-0.2" y="8.8" font-size="12.2" font-weight="bold" fill="#000">a</text>
<text x="395.4" y="9.1" font-size="12.2" font-weight="bold" fill="#000">b</text>
<text x="-0.2" y="236.8" font-size="12.2" font-weight="bold" fill="#000">c</text>
<text x="0.0" y="396.8" font-size="12.2" font-weight="bold" fill="#000">d</text>
<text x="335.6" y="236.8" font-size="12.2" font-weight="bold" fill="#000">e</text>
</g>
</svg>
</body></html>
